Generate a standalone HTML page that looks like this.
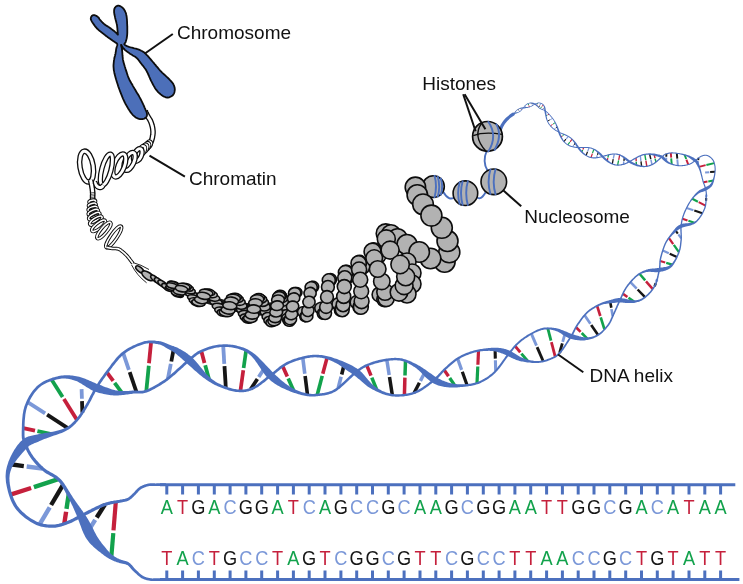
<!DOCTYPE html>
<html lang="en">
<head>
<meta charset="utf-8">
<title>DNA packaging: chromosome, chromatin, nucleosome, DNA helix</title>
<style>
html,body{margin:0;padding:0;background:#fff;}
body{width:743px;height:584px;overflow:hidden;}
svg{display:block;font-family:"Liberation Sans",Arial,Helvetica,sans-serif;will-change:transform;opacity:0.999;}
</style>
</head>
<body>
<svg width="743" height="584" viewBox="0 0 743 584">
<rect width="743" height="584" fill="#ffffff"/>
<g id="helix-rungs">
<line x1="10.5" y1="464.3" x2="23.8" y2="466.1" stroke="#161616" stroke-width="4.4" stroke-linecap="butt"/>
<line x1="26.7" y1="466.5" x2="42.5" y2="468.6" stroke="#7b98d8" stroke-width="4.4" stroke-linecap="butt"/>
<line x1="10.5" y1="494.7" x2="31.1" y2="488" stroke="#c5203c" stroke-width="4.4" stroke-linecap="butt"/>
<line x1="33.9" y1="487.1" x2="58.3" y2="479.1" stroke="#12a24c" stroke-width="4.4" stroke-linecap="butt"/>
<line x1="39.6" y1="524.4" x2="49.7" y2="507.4" stroke="#7b98d8" stroke-width="4.4" stroke-linecap="butt"/>
<line x1="51.1" y1="505" x2="63" y2="484.8" stroke="#161616" stroke-width="4.4" stroke-linecap="butt"/>
<line x1="64.3" y1="523.8" x2="66.1" y2="511.7" stroke="#c5203c" stroke-width="4.4" stroke-linecap="butt"/>
<line x1="66.5" y1="508.8" x2="68.7" y2="494.4" stroke="#12a24c" stroke-width="4.4" stroke-linecap="butt"/>
<line x1="88.3" y1="530.9" x2="95.2" y2="519.9" stroke="#7b98d8" stroke-width="4.4" stroke-linecap="butt"/>
<line x1="96.7" y1="517.5" x2="104.9" y2="504.5" stroke="#161616" stroke-width="4.4" stroke-linecap="butt"/>
<line x1="111.3" y1="557.1" x2="113.3" y2="533.1" stroke="#12a24c" stroke-width="4.2" stroke-linecap="butt"/>
<line x1="113.5" y1="530.3" x2="115.8" y2="501.9" stroke="#c5203c" stroke-width="4.2" stroke-linecap="butt"/>
<line x1="23.2" y1="428.1" x2="35" y2="430.6" stroke="#c5203c" stroke-width="3.9" stroke-linecap="butt"/>
<line x1="37.4" y1="431.2" x2="51.4" y2="434.2" stroke="#12a24c" stroke-width="3.9" stroke-linecap="butt"/>
<line x1="27.6" y1="402.1" x2="45.1" y2="413.4" stroke="#7b98d8" stroke-width="3.8" stroke-linecap="butt"/>
<line x1="47.1" y1="414.7" x2="67.8" y2="428.2" stroke="#161616" stroke-width="3.8" stroke-linecap="butt"/>
<line x1="51.5" y1="379.5" x2="62.6" y2="397.1" stroke="#12a24c" stroke-width="3.8" stroke-linecap="butt"/>
<line x1="63.9" y1="399.1" x2="77" y2="419.9" stroke="#c5203c" stroke-width="3.8" stroke-linecap="butt"/>
<line x1="81.6" y1="389.1" x2="81.9" y2="398.7" stroke="#7b98d8" stroke-width="3.8" stroke-linecap="butt"/>
<line x1="82" y1="401.1" x2="82.4" y2="412.6" stroke="#161616" stroke-width="3.8" stroke-linecap="butt"/>
<line x1="106.9" y1="372.3" x2="113.2" y2="380.9" stroke="#c5203c" stroke-width="3.8" stroke-linecap="butt"/>
<line x1="114.6" y1="382.8" x2="122.2" y2="393.1" stroke="#12a24c" stroke-width="3.8" stroke-linecap="butt"/>
<line x1="123.2" y1="353.1" x2="128.9" y2="369.9" stroke="#7b98d8" stroke-width="3.8" stroke-linecap="butt"/>
<line x1="129.7" y1="372.2" x2="136.5" y2="392.1" stroke="#161616" stroke-width="3.8" stroke-linecap="butt"/>
<line x1="151.1" y1="341.9" x2="149" y2="363.3" stroke="#c5203c" stroke-width="3.8" stroke-linecap="butt"/>
<line x1="148.8" y1="365.7" x2="146.3" y2="391.1" stroke="#12a24c" stroke-width="3.8" stroke-linecap="butt"/>
<line x1="173.7" y1="349" x2="171.3" y2="361.5" stroke="#161616" stroke-width="3.8" stroke-linecap="butt"/>
<line x1="170.8" y1="363.8" x2="167.9" y2="378.7" stroke="#7b98d8" stroke-width="3.8" stroke-linecap="butt"/>
<line x1="201.3" y1="351.1" x2="204.5" y2="362.9" stroke="#c5203c" stroke-width="3.8" stroke-linecap="butt"/>
<line x1="205.2" y1="365.2" x2="209" y2="379.3" stroke="#12a24c" stroke-width="3.8" stroke-linecap="butt"/>
<line x1="223.2" y1="345.6" x2="224.3" y2="363.9" stroke="#7b98d8" stroke-width="3.8" stroke-linecap="butt"/>
<line x1="224.5" y1="366.2" x2="225.8" y2="387.9" stroke="#161616" stroke-width="3.8" stroke-linecap="butt"/>
<line x1="246.1" y1="350.4" x2="243.6" y2="367.9" stroke="#12a24c" stroke-width="3.7" stroke-linecap="butt"/>
<line x1="243.3" y1="370.2" x2="240.4" y2="390.9" stroke="#c5203c" stroke-width="3.7" stroke-linecap="butt"/>
<line x1="264.4" y1="368.3" x2="258.7" y2="376.9" stroke="#7b98d8" stroke-width="3.7" stroke-linecap="butt"/>
<line x1="257.4" y1="378.9" x2="250.6" y2="389.2" stroke="#161616" stroke-width="3.7" stroke-linecap="butt"/>
<line x1="282.6" y1="366" x2="287.3" y2="376.4" stroke="#c5203c" stroke-width="3.7" stroke-linecap="butt"/>
<line x1="288.2" y1="378.4" x2="293.7" y2="390.7" stroke="#12a24c" stroke-width="3.7" stroke-linecap="butt"/>
<line x1="302.8" y1="357.8" x2="304.8" y2="373.7" stroke="#7b98d8" stroke-width="3.6" stroke-linecap="butt"/>
<line x1="305.1" y1="376" x2="307.5" y2="394.8" stroke="#161616" stroke-width="3.6" stroke-linecap="butt"/>
<line x1="327.1" y1="357.6" x2="322.8" y2="373.7" stroke="#c5203c" stroke-width="3.6" stroke-linecap="butt"/>
<line x1="322.2" y1="375.9" x2="317.2" y2="395" stroke="#12a24c" stroke-width="3.6" stroke-linecap="butt"/>
<line x1="344.1" y1="364.9" x2="341.7" y2="374.5" stroke="#161616" stroke-width="3.6" stroke-linecap="butt"/>
<line x1="341.1" y1="376.7" x2="338.2" y2="388.2" stroke="#7b98d8" stroke-width="3.6" stroke-linecap="butt"/>
<line x1="366.8" y1="365.4" x2="371" y2="375.6" stroke="#c5203c" stroke-width="3.5" stroke-linecap="butt"/>
<line x1="371.8" y1="377.6" x2="376.8" y2="389.8" stroke="#12a24c" stroke-width="3.5" stroke-linecap="butt"/>
<line x1="386.8" y1="359.8" x2="389.2" y2="375" stroke="#7b98d8" stroke-width="3.5" stroke-linecap="butt"/>
<line x1="389.5" y1="377.1" x2="392.3" y2="395.1" stroke="#161616" stroke-width="3.5" stroke-linecap="butt"/>
<line x1="405.5" y1="360.8" x2="405" y2="375.5" stroke="#12a24c" stroke-width="3.5" stroke-linecap="butt"/>
<line x1="404.9" y1="377.6" x2="404.4" y2="395.1" stroke="#c5203c" stroke-width="3.5" stroke-linecap="butt"/>
<line x1="424.8" y1="372.5" x2="420.4" y2="380.9" stroke="#7b98d8" stroke-width="3.4" stroke-linecap="butt"/>
<line x1="419.4" y1="382.8" x2="414.2" y2="392.8" stroke="#161616" stroke-width="3.4" stroke-linecap="butt"/>
<line x1="444.1" y1="369.9" x2="448.5" y2="376.3" stroke="#c5203c" stroke-width="3.3" stroke-linecap="butt"/>
<line x1="449.7" y1="378" x2="454.9" y2="385.7" stroke="#12a24c" stroke-width="3.3" stroke-linecap="butt"/>
<line x1="457.6" y1="358.6" x2="461.6" y2="369.9" stroke="#7b98d8" stroke-width="3.2" stroke-linecap="butt"/>
<line x1="462.3" y1="371.8" x2="467.1" y2="385.2" stroke="#161616" stroke-width="3.2" stroke-linecap="butt"/>
<line x1="478.5" y1="350.6" x2="477.9" y2="364.7" stroke="#c5203c" stroke-width="3.2" stroke-linecap="butt"/>
<line x1="477.8" y1="366.5" x2="477" y2="383.2" stroke="#12a24c" stroke-width="3.2" stroke-linecap="butt"/>
<line x1="495.1" y1="349.5" x2="495.3" y2="358.6" stroke="#161616" stroke-width="3.1" stroke-linecap="butt"/>
<line x1="495.4" y1="360.3" x2="495.7" y2="371.1" stroke="#7b98d8" stroke-width="3.1" stroke-linecap="butt"/>
<line x1="515.1" y1="346.1" x2="520.3" y2="352.3" stroke="#c5203c" stroke-width="2.9" stroke-linecap="butt"/>
<line x1="521.4" y1="353.6" x2="527.6" y2="361" stroke="#12a24c" stroke-width="2.9" stroke-linecap="butt"/>
<line x1="531.3" y1="333.7" x2="536.5" y2="345.6" stroke="#7b98d8" stroke-width="2.9" stroke-linecap="butt"/>
<line x1="537.1" y1="347.1" x2="543.2" y2="361.3" stroke="#161616" stroke-width="2.9" stroke-linecap="butt"/>
<line x1="547.8" y1="328.4" x2="551" y2="340.6" stroke="#12a24c" stroke-width="2.8" stroke-linecap="butt"/>
<line x1="551.4" y1="342.1" x2="555.2" y2="356.7" stroke="#c5203c" stroke-width="2.8" stroke-linecap="butt"/>
<line x1="565" y1="333.6" x2="562.7" y2="341.8" stroke="#7b98d8" stroke-width="2.8" stroke-linecap="butt"/>
<line x1="562.3" y1="343.3" x2="559.6" y2="353" stroke="#161616" stroke-width="2.8" stroke-linecap="butt"/>
<line x1="576" y1="327.2" x2="580.6" y2="331.9" stroke="#c5203c" stroke-width="2.7" stroke-linecap="butt"/>
<line x1="581.7" y1="333" x2="587.2" y2="338.6" stroke="#12a24c" stroke-width="2.7" stroke-linecap="butt"/>
<line x1="584.6" y1="315.2" x2="590.4" y2="323.7" stroke="#7b98d8" stroke-width="2.7" stroke-linecap="butt"/>
<line x1="591.2" y1="324.9" x2="598.1" y2="335" stroke="#161616" stroke-width="2.7" stroke-linecap="butt"/>
<line x1="597.1" y1="305.9" x2="600.3" y2="316" stroke="#c5203c" stroke-width="2.7" stroke-linecap="butt"/>
<line x1="600.7" y1="317.4" x2="604.5" y2="329.4" stroke="#12a24c" stroke-width="2.7" stroke-linecap="butt"/>
<line x1="610.2" y1="301.7" x2="611.3" y2="307.7" stroke="#161616" stroke-width="2.6" stroke-linecap="butt"/>
<line x1="611.5" y1="309.1" x2="612.7" y2="316.2" stroke="#7b98d8" stroke-width="2.6" stroke-linecap="butt"/>
<line x1="622.9" y1="293.7" x2="627.4" y2="297" stroke="#c5203c" stroke-width="2.6" stroke-linecap="butt"/>
<line x1="628.5" y1="297.8" x2="634" y2="301.6" stroke="#12a24c" stroke-width="2.6" stroke-linecap="butt"/>
<line x1="630.4" y1="282.1" x2="636.7" y2="288.6" stroke="#7b98d8" stroke-width="2.5" stroke-linecap="butt"/>
<line x1="637.6" y1="289.5" x2="645" y2="297.2" stroke="#161616" stroke-width="2.5" stroke-linecap="butt"/>
<line x1="639.5" y1="273.8" x2="645.2" y2="280.4" stroke="#12a24c" stroke-width="2.5" stroke-linecap="butt"/>
<line x1="646" y1="281.4" x2="652.8" y2="289.1" stroke="#c5203c" stroke-width="2.5" stroke-linecap="butt"/>
<line x1="657.2" y1="279.3" x2="656.2" y2="281.8" stroke="#7b98d8" stroke-width="2.5" stroke-linecap="butt"/>
<line x1="655.8" y1="283.1" x2="654.6" y2="286.2" stroke="#161616" stroke-width="2.5" stroke-linecap="butt"/>
</g>
<g id="helix-rungs-small">
<line x1="675.4" y1="230.4" x2="677.8" y2="233.6" stroke="#161616" stroke-width="2.2" stroke-linecap="butt"/>
<line x1="678.4" y1="234.4" x2="681.2" y2="238.3" stroke="#7b98d8" stroke-width="2.2" stroke-linecap="butt"/>
<line x1="668.8" y1="237.9" x2="673.2" y2="244.1" stroke="#c5203c" stroke-width="2.3" stroke-linecap="butt"/>
<line x1="673.8" y1="244.9" x2="678.9" y2="252.2" stroke="#12a24c" stroke-width="2.3" stroke-linecap="butt"/>
<line x1="662.8" y1="250.5" x2="668.8" y2="253.3" stroke="#7b98d8" stroke-width="2.3" stroke-linecap="butt"/>
<line x1="669.7" y1="253.7" x2="676.9" y2="257" stroke="#161616" stroke-width="2.3" stroke-linecap="butt"/>
<line x1="660.1" y1="261" x2="665.2" y2="262.5" stroke="#c5203c" stroke-width="2.3" stroke-linecap="butt"/>
<line x1="666.2" y1="262.8" x2="672.3" y2="264.6" stroke="#12a24c" stroke-width="2.3" stroke-linecap="butt"/>
<line x1="682.4" y1="218.7" x2="687.5" y2="220.5" stroke="#c5203c" stroke-width="2.2" stroke-linecap="butt"/>
<line x1="688.4" y1="220.8" x2="694.4" y2="222.8" stroke="#12a24c" stroke-width="2.2" stroke-linecap="butt"/>
<line x1="686.6" y1="208" x2="693.4" y2="210.3" stroke="#7b98d8" stroke-width="2.1" stroke-linecap="butt"/>
<line x1="694.3" y1="210.6" x2="702.4" y2="213.3" stroke="#161616" stroke-width="2.1" stroke-linecap="butt"/>
<line x1="692.2" y1="198.7" x2="697.9" y2="201.7" stroke="#12a24c" stroke-width="2.1" stroke-linecap="butt"/>
<line x1="698.7" y1="202.1" x2="705.5" y2="205.6" stroke="#c5203c" stroke-width="2.1" stroke-linecap="butt"/>
<line x1="706.4" y1="194.6" x2="706.2" y2="197" stroke="#7b98d8" stroke-width="2.1" stroke-linecap="butt"/>
<line x1="706.2" y1="197.9" x2="706.1" y2="200.8" stroke="#161616" stroke-width="2.1" stroke-linecap="butt"/>
<line x1="703.4" y1="182.3" x2="707.5" y2="181.6" stroke="#c5203c" stroke-width="2" stroke-linecap="butt"/>
<line x1="708.3" y1="181.4" x2="713.3" y2="180.5" stroke="#12a24c" stroke-width="2" stroke-linecap="butt"/>
<line x1="705.1" y1="172.5" x2="709.3" y2="172.2" stroke="#7b98d8" stroke-width="2" stroke-linecap="butt"/>
<line x1="710.1" y1="172.1" x2="715" y2="171.8" stroke="#161616" stroke-width="2" stroke-linecap="butt"/>
<line x1="699" y1="166.8" x2="705.6" y2="165.2" stroke="#c5203c" stroke-width="1.9" stroke-linecap="butt"/>
<line x1="706.4" y1="165" x2="714.3" y2="163.1" stroke="#12a24c" stroke-width="1.9" stroke-linecap="butt"/>
<line x1="698.5" y1="157.9" x2="698.2" y2="160.2" stroke="#161616" stroke-width="1.9" stroke-linecap="butt"/>
<line x1="698" y1="161" x2="697.6" y2="163.7" stroke="#7b98d8" stroke-width="1.9" stroke-linecap="butt"/>
<line x1="666.4" y1="153.9" x2="666.3" y2="156.8" stroke="#161616" stroke-width="1.9" stroke-linecap="butt"/>
<line x1="666.3" y1="157.6" x2="666.2" y2="161.1" stroke="#7b98d8" stroke-width="1.9" stroke-linecap="butt"/>
<line x1="670.8" y1="152.9" x2="671.2" y2="157.7" stroke="#c5203c" stroke-width="1.9" stroke-linecap="butt"/>
<line x1="671.2" y1="158.4" x2="671.7" y2="164.1" stroke="#12a24c" stroke-width="1.9" stroke-linecap="butt"/>
<line x1="676.8" y1="153.3" x2="677.3" y2="158.6" stroke="#161616" stroke-width="1.9" stroke-linecap="butt"/>
<line x1="677.3" y1="159.3" x2="677.9" y2="165.6" stroke="#7b98d8" stroke-width="1.9" stroke-linecap="butt"/>
<line x1="684.6" y1="154.9" x2="686.2" y2="159" stroke="#12a24c" stroke-width="1.9" stroke-linecap="butt"/>
<line x1="686.4" y1="159.7" x2="688.3" y2="164.6" stroke="#c5203c" stroke-width="1.9" stroke-linecap="butt"/>
</g>
<g id="helix-thin-rungs">
<line x1="654.2" y1="154.6" x2="655" y2="158.1" stroke="#c5203c" stroke-width="1.5" stroke-linecap="butt"/>
<line x1="655.1" y1="158.6" x2="656" y2="162.1" stroke="#12a24c" stroke-width="1.5" stroke-linecap="butt"/>
<line x1="649.6" y1="154.1" x2="650.8" y2="159.1" stroke="#161616" stroke-width="1.5" stroke-linecap="butt"/>
<line x1="650.9" y1="159.6" x2="652" y2="164.7" stroke="#7b98d8" stroke-width="1.5" stroke-linecap="butt"/>
<line x1="644.8" y1="154.4" x2="645.8" y2="160.1" stroke="#12a24c" stroke-width="1.4" stroke-linecap="butt"/>
<line x1="645.9" y1="160.6" x2="646.8" y2="166.3" stroke="#c5203c" stroke-width="1.4" stroke-linecap="butt"/>
<line x1="640.3" y1="155.7" x2="640.9" y2="160.8" stroke="#7b98d8" stroke-width="1.4" stroke-linecap="butt"/>
<line x1="641" y1="161.3" x2="641.6" y2="166.3" stroke="#161616" stroke-width="1.4" stroke-linecap="butt"/>
<line x1="636" y1="157.9" x2="636.2" y2="161.2" stroke="#c5203c" stroke-width="1.4" stroke-linecap="butt"/>
<line x1="636.2" y1="161.7" x2="636.4" y2="165" stroke="#12a24c" stroke-width="1.4" stroke-linecap="butt"/>
<line x1="623.4" y1="164.3" x2="623.8" y2="161.3" stroke="#7b98d8" stroke-width="1.4" stroke-linecap="butt"/>
<line x1="623.9" y1="160.8" x2="624.4" y2="157.7" stroke="#161616" stroke-width="1.4" stroke-linecap="butt"/>
<line x1="617.6" y1="165.1" x2="618.6" y2="160.3" stroke="#12a24c" stroke-width="1.3" stroke-linecap="butt"/>
<line x1="618.7" y1="159.8" x2="619.7" y2="154.9" stroke="#c5203c" stroke-width="1.3" stroke-linecap="butt"/>
<line x1="612.3" y1="164" x2="613.2" y2="159.2" stroke="#161616" stroke-width="1.3" stroke-linecap="butt"/>
<line x1="613.3" y1="158.7" x2="614.3" y2="154" stroke="#7b98d8" stroke-width="1.3" stroke-linecap="butt"/>
<line x1="607.2" y1="160.8" x2="607.8" y2="158.1" stroke="#c5203c" stroke-width="1.3" stroke-linecap="butt"/>
<line x1="607.9" y1="157.6" x2="608.5" y2="154.9" stroke="#12a24c" stroke-width="1.3" stroke-linecap="butt"/>
<line x1="598.2" y1="152.3" x2="597.5" y2="154.8" stroke="#161616" stroke-width="1.2" stroke-linecap="butt"/>
<line x1="597.3" y1="155.3" x2="596.5" y2="157.8" stroke="#7b98d8" stroke-width="1.2" stroke-linecap="butt"/>
<line x1="593.9" y1="149.2" x2="592.5" y2="153.1" stroke="#12a24c" stroke-width="1.2" stroke-linecap="butt"/>
<line x1="592.4" y1="153.6" x2="591" y2="157.5" stroke="#c5203c" stroke-width="1.2" stroke-linecap="butt"/>
<line x1="589" y1="147.7" x2="587.7" y2="151.4" stroke="#7b98d8" stroke-width="1.2" stroke-linecap="butt"/>
<line x1="587.5" y1="151.8" x2="586.1" y2="155.5" stroke="#161616" stroke-width="1.2" stroke-linecap="butt"/>
<line x1="583.7" y1="147.5" x2="582.9" y2="149.5" stroke="#c5203c" stroke-width="1.2" stroke-linecap="butt"/>
<line x1="582.7" y1="149.9" x2="581.8" y2="151.9" stroke="#12a24c" stroke-width="1.2" stroke-linecap="butt"/>
<line x1="572.7" y1="146.8" x2="573.8" y2="145.1" stroke="#7b98d8" stroke-width="1.1" stroke-linecap="butt"/>
<line x1="574.1" y1="144.7" x2="575.2" y2="143" stroke="#161616" stroke-width="1.1" stroke-linecap="butt"/>
<line x1="567.8" y1="144.8" x2="569.8" y2="142.2" stroke="#12a24c" stroke-width="1.1" stroke-linecap="butt"/>
<line x1="570.1" y1="141.8" x2="572.1" y2="139.2" stroke="#c5203c" stroke-width="1.1" stroke-linecap="butt"/>
<line x1="563.9" y1="141.6" x2="565.9" y2="139.2" stroke="#161616" stroke-width="1.1" stroke-linecap="butt"/>
<line x1="566.3" y1="138.8" x2="568.3" y2="136.3" stroke="#7b98d8" stroke-width="1.1" stroke-linecap="butt"/>
<line x1="561.1" y1="137.2" x2="562.3" y2="135.9" stroke="#c5203c" stroke-width="1.1" stroke-linecap="butt"/>
<line x1="562.6" y1="135.6" x2="563.9" y2="134.3" stroke="#12a24c" stroke-width="1.1" stroke-linecap="butt"/>
<line x1="557.2" y1="126.9" x2="555.8" y2="128" stroke="#161616" stroke-width="1" stroke-linecap="butt"/>
<line x1="555.4" y1="128.3" x2="554.1" y2="129.3" stroke="#7b98d8" stroke-width="1" stroke-linecap="butt"/>
<line x1="555.2" y1="122.6" x2="553" y2="124.1" stroke="#12a24c" stroke-width="1" stroke-linecap="butt"/>
<line x1="552.6" y1="124.4" x2="550.4" y2="125.9" stroke="#c5203c" stroke-width="1" stroke-linecap="butt"/>
<line x1="552.5" y1="118.4" x2="550.2" y2="119.7" stroke="#7b98d8" stroke-width="1" stroke-linecap="butt"/>
<line x1="549.8" y1="119.9" x2="547.5" y2="121.2" stroke="#161616" stroke-width="1" stroke-linecap="butt"/>
<line x1="549.1" y1="114.3" x2="547.7" y2="114.9" stroke="#c5203c" stroke-width="1" stroke-linecap="butt"/>
<line x1="547.3" y1="115.2" x2="546" y2="115.8" stroke="#12a24c" stroke-width="1" stroke-linecap="butt"/>
<line x1="542.2" y1="109.5" x2="543.2" y2="108.6" stroke="#7b98d8" stroke-width="1" stroke-linecap="butt"/>
<line x1="543.6" y1="108.3" x2="544.7" y2="107.4" stroke="#161616" stroke-width="1" stroke-linecap="butt"/>
<line x1="540.2" y1="108.6" x2="541.6" y2="106.9" stroke="#12a24c" stroke-width="1" stroke-linecap="butt"/>
<line x1="541.9" y1="106.6" x2="543.3" y2="104.9" stroke="#c5203c" stroke-width="1" stroke-linecap="butt"/>
<line x1="538.6" y1="107.4" x2="539.6" y2="105.6" stroke="#161616" stroke-width="1" stroke-linecap="butt"/>
<line x1="539.9" y1="105.1" x2="540.9" y2="103.3" stroke="#7b98d8" stroke-width="1" stroke-linecap="butt"/>
<line x1="536.9" y1="105.6" x2="537.1" y2="104.6" stroke="#c5203c" stroke-width="1" stroke-linecap="butt"/>
<line x1="537.2" y1="104.1" x2="537.5" y2="103.1" stroke="#12a24c" stroke-width="1" stroke-linecap="butt"/>
<line x1="532" y1="103.1" x2="532.2" y2="104.1" stroke="#161616" stroke-width="1" stroke-linecap="butt"/>
<line x1="532.3" y1="104.6" x2="532.5" y2="105.6" stroke="#7b98d8" stroke-width="1" stroke-linecap="butt"/>
<line x1="528.1" y1="103.5" x2="528.6" y2="105.1" stroke="#12a24c" stroke-width="1" stroke-linecap="butt"/>
<line x1="528.8" y1="105.5" x2="529.3" y2="107.1" stroke="#c5203c" stroke-width="1" stroke-linecap="butt"/>
<line x1="525" y1="105.7" x2="525.4" y2="106.5" stroke="#7b98d8" stroke-width="1" stroke-linecap="butt"/>
<line x1="525.6" y1="106.9" x2="526" y2="107.6" stroke="#161616" stroke-width="1" stroke-linecap="butt"/>
<line x1="521.6" y1="109.9" x2="521.3" y2="109.3" stroke="#c5203c" stroke-width="1" stroke-linecap="butt"/>
<line x1="521" y1="108.9" x2="520.6" y2="108.3" stroke="#12a24c" stroke-width="1" stroke-linecap="butt"/>
<line x1="519.6" y1="111.7" x2="518.9" y2="110.7" stroke="#7b98d8" stroke-width="1" stroke-linecap="butt"/>
<line x1="518.7" y1="110.3" x2="518.1" y2="109.3" stroke="#161616" stroke-width="1" stroke-linecap="butt"/>
<line x1="516.3" y1="113" x2="516" y2="112.5" stroke="#12a24c" stroke-width="1" stroke-linecap="butt"/>
<line x1="515.8" y1="112.1" x2="515.5" y2="111.7" stroke="#c5203c" stroke-width="1" stroke-linecap="butt"/>
</g>
<g id="helix-strands">
<path d="M166 483.4 L165.3 483.3 L164.6 483.3 L163.8 483.3 L163.1 483.3 L162.3 483.3 L161.6 483.3 L160.9 483.3 L160.1 483.3 L159.4 483.3 L158.7 483.3 L158 483.3 L157.3 483.3 L156.6 483.3 L156 483.4 L155.4 483.4 L154.8 483.3 L154.2 483.3 L153.7 483.3 L153.1 483.3 L152.6 483.3 L152.1 483.3 L151.5 483.2 L151 483.2 L150.4 483.3 L149.8 483.3 L149.2 483.4 L148.6 483.5 L148 483.6 L147.4 483.7 L146.8 483.9 L146.2 484 L145.6 484.2 L144.9 484.4 L144.3 484.6 L143.7 484.9 L143 485.1 L142.4 485.4 L141.8 485.7 L141.2 486 L140.6 486.3 L140 486.6 L139.5 487 L138.9 487.4 L138.4 487.8 L137.8 488.2 L137.4 488.7 L136.9 489.2 L136.4 489.7 L136 490.1 L135.6 490.6 L135.2 491.1 L134.8 491.6 L134.4 492 L134 492.4 L133.6 492.8 L133.2 493.2 L132.7 493.6 L132.3 494 L131.9 494.4 L131.5 494.8 L131.1 495.2 L130.7 495.6 L130.3 495.9 L129.9 496.3 L129.5 496.6 L129.1 496.9 L128.7 497.2 L128.3 497.5 L127.9 497.7 L127.5 497.9 L127 498.1 L126.6 498.3 L126.1 498.5 L125.6 498.6 L125.1 498.8 L124.6 498.9 L124 499 L123.4 499.1 L122.9 499.2 L122.3 499.3 L121.6 499.4 L121 499.5 L120.4 499.6 L119.7 499.7 L119.1 499.9 L118.4 500 L117.7 500.1 L117 500.2 L116.3 500.3 L115.6 500.4 L114.9 500.5 L114.1 500.6 L113.4 500.7 L112.6 500.9 L111.9 501 L111.1 501.1 L110.4 501.3 L109.6 501.5 L108.9 501.7 L108.3 501.8 L107.6 502 L107 502.2 L106.4 502.3 L105.7 502.5 L105.1 502.7 L104.4 502.9 L103.7 503.2 L103 503.5 L102.2 503.8 L101.3 504.1 L100.4 504.5 L99.4 504.9 L98.4 505.4 L97.2 506 L95.9 506.6 L94.6 507.2 L93.2 507.9 L91.8 508.6 L90.4 509.4 L88.9 510.1 L87.5 510.8 L86.1 511.6 L84.7 512.3 L83.4 512.9 L82.1 513.6 L81 514.2 L79.9 514.7 L78.8 515.3 L77.8 515.8 L76.9 516.3 L75.9 516.8 L75 517.3 L74.2 517.8 L73.3 518.3 L72.5 518.7 L71.6 519.1 L70.7 519.5 L69.8 519.9 L68.9 520.3 L67.9 520.7 L66.9 521.1 L65.8 521.5 L64.8 521.9 L63.7 522.2 L62.6 522.6 L61.6 523 L60.5 523.3 L59.4 523.6 L58.3 523.9 L57.2 524.1 L56.1 524.3 L55 524.5 L53.8 524.6 L52.7 524.6 L51.5 524.6 L50.3 524.5 L49 524.5 L47.8 524.4 L46.5 524.2 L45.2 524.1 L44 523.9 L42.7 523.6 L41.4 523.3 L40.1 522.9 L38.8 522.5 L37.6 522 L36.3 521.4 L35.1 520.8 L33.8 520.1 L32.4 519.3 L31 518.4 L29.6 517.4 L28.2 516.5 L26.8 515.4 L25.4 514.3 L24.1 513.1 L22.7 511.9 L21.5 510.7 L20.3 509.4 L19.1 508.1 L18.1 506.8 L17.1 505.5 L16.3 504.1 L15.5 502.6 L14.7 501.1 L14 499.4 L13.3 497.7 L12.7 496 L12.1 494.2 L11.6 492.5 L11.1 490.7 L10.7 488.9 L10.4 487.2 L10.1 485.6 L9.8 484 L9.7 482.5 L9.5 481.1 L9.5 479.7 L9.4 478.4 L9.5 477.1 L9.6 475.9 L9.7 474.7 L9.9 473.6 L10.2 472.4 L10.5 471.3 L10.9 470.2 L11.3 469 L11.8 467.8 L12.4 466.6 L13 465.4 L13.8 464.1 L14.6 462.8 L15.5 461.4 L16.6 460 L17.7 458.6 L18.8 457.2 L20 455.7 L21.1 454.4 L22.3 453 L23.5 451.7 L24.6 450.5 L25.6 449.4 L26.6 448.3 L27.5 447.5 L28.3 446.7 L29 446.1 L29.6 445.6 L30.2 445.2 L30.8 444.9 L31.5 444.5 L32.1 444.2 L32.9 443.9 L33.8 443.5 L34.7 443.1 L35.8 442.7 L37 442.3 L38.3 441.7 L39.6 441.1 L41 440.5 L42.6 439.8 L44.3 439.1 L46.1 438.4 L48 437.7 L50 437 L52 436.3 L54 435.6 L56 434.9 L58 434.3 L59.9 433.6 L61.7 432.9 L63.3 432.2 L64.8 431.5 L66.2 430.8 L67.5 430.1 L68.6 429.4 L69.7 428.7 L70.7 428 L71.6 427.3 L72.5 426.5 L73.3 425.8 L74.1 425 L74.9 424.2 L75.7 423.4 L76.4 422.6 L77.2 421.7 L78 420.8 L78.9 419.8 L79.7 418.8 L80.5 417.8 L81.3 416.7 L82 415.6 L82.8 414.5 L83.5 413.3 L84.3 412.2 L85 411 L85.7 409.8 L86.4 408.7 L87.1 407.5 L87.8 406.3 L88.5 405.2 L89.1 404 L89.8 402.8 L90.5 401.6 L91.1 400.4 L91.7 399.2 L92.3 398 L92.9 396.8 L93.5 395.6 L94.2 394.4 L94.8 393.2 L95.4 392 L96.1 390.9 L96.7 389.7 L97.5 388.5 L98.2 387.3 L98.9 386.1 L99.7 385 L100.4 383.8 L101.2 382.6 L102 381.5 L102.8 380.3 L103.6 379.1 L104.4 377.9 L105.3 376.8 L106.1 375.6 L107 374.4 L107.9 373.2 L108.9 371.9 L109.8 370.7 L110.8 369.3 L111.8 368 L112.8 366.6 L113.9 365.3 L114.9 363.9 L116 362.5 L117.1 361.2 L118.2 359.9 L119.3 358.6 L120.5 357.4 L121.6 356.3 L122.8 355.2 L124 354.2 L125.3 353.2 L126.7 352.3 L128.1 351.3 L129.5 350.5 L131 349.6 L132.6 348.8 L134.1 348 L135.6 347.3 L137.1 346.6 L138.6 346 L140.1 345.5 L141.5 345 L142.9 344.5 L144.2 344.1 L145.4 343.8 L146.6 343.6 L147.7 343.4 L148.9 343.3 L150 343.3 L151.1 343.3 L152.2 343.4 L153.2 343.5 L154.2 343.6 L155.2 343.7 L156.2 343.9 L157.2 344.1 L158.1 344.2 L158.9 344.4 L159.7 344.6 L160.4 344.7 L161 345 L161.6 345.2 L162.1 345.4 L162.6 345.7 L163.2 346 L163.7 346.3 L164.2 346.6 L164.7 347 L165.3 347.3 L165.8 347.7 L166.5 348.1 L167.1 348.4 L167.8 348.8 L168.4 349.1 L169 349.4 L169.6 349.7 L170.2 350.1 L170.8 350.4 L171.4 350.7 L172 351.1 L172.5 351.4 L173.1 351.8 L173.7 352.2 L174.3 352.6 L174.9 353.1 L175.6 353.6 L176.2 354.1 L176.9 354.6 L177.6 355.2 L178.2 355.7 L178.9 356.3 L179.6 356.8 L180.3 357.4 L181 358.1 L181.8 358.8 L182.6 359.5 L183.4 360.2 L184.4 361.1 L185.3 362 L186.4 362.9 L187.5 363.9 L188.7 365 L190.1 366.3 L191.6 367.6 L193.1 369 L194.7 370.4 L196.4 371.8 L198 373.3 L199.7 374.7 L201.4 376.1 L203.1 377.4 L204.7 378.6 L206.3 379.8 L207.8 380.8 L209.3 381.8 L210.7 382.6 L212.2 383.5 L213.6 384.2 L214.9 384.9 L216.3 385.6 L217.7 386.2 L219 386.8 L220.3 387.3 L221.6 387.8 L222.9 388.3 L224.1 388.7 L225.3 389.2 L226.6 389.6 L227.8 390 L229 390.4 L230.2 390.7 L231.3 391 L232.5 391.3 L233.7 391.5 L234.8 391.7 L235.9 391.9 L237 392 L238.1 392.1 L239.2 392.2 L240.3 392.3 L241.4 392.3 L242.5 392.2 L243.5 392.2 L244.5 392.1 L245.5 391.9 L246.4 391.8 L247.4 391.6 L248.3 391.4 L249.2 391.1 L250.2 390.8 L251.1 390.4 L252 390.1 L253 389.7 L253.9 389.2 L254.9 388.7 L255.9 388.1 L257 387.5 L258.1 386.9 L259.2 386.1 L260.3 385.3 L261.4 384.5 L262.5 383.6 L263.7 382.8 L264.8 381.9 L265.9 380.9 L267 380 L268.2 379.1 L269.3 378.2 L270.4 377.4 L271.5 376.5 L272.6 375.7 L273.7 374.8 L274.8 373.9 L275.9 373 L276.9 372.2 L278 371.3 L279.1 370.4 L280.1 369.5 L281.2 368.7 L282.3 367.9 L283.4 367.1 L284.5 366.4 L285.6 365.7 L286.7 365 L287.9 364.4 L289.1 363.8 L290.3 363.3 L291.6 362.7 L292.9 362.2 L294.2 361.7 L295.5 361.3 L296.8 360.8 L298.1 360.4 L299.4 360 L300.6 359.7 L301.9 359.3 L303.1 359 L304.3 358.7 L305.4 358.5 L306.6 358.3 L307.7 358 L308.8 357.9 L309.8 357.7 L310.9 357.6 L311.9 357.5 L313 357.4 L314 357.3 L315 357.3 L316.1 357.3 L317.1 357.4 L318.2 357.4 L319.3 357.5 L320.4 357.7 L321.4 357.8 L322.5 358 L323.5 358.2 L324.6 358.4 L325.6 358.7 L326.7 359 L327.8 359.4 L328.8 359.8 L329.9 360.2 L331.1 360.7 L332.2 361.2 L333.4 361.7 L334.6 362.4 L335.9 363.1 L337.2 363.8 L338.6 364.6 L340 365.5 L341.4 366.4 L342.8 367.4 L344.2 368.4 L345.7 369.4 L347.1 370.4 L348.5 371.4 L349.9 372.3 L351.3 373.3 L352.6 374.2 L353.8 375.1 L355 375.9 L356.1 376.8 L357.2 377.7 L358.3 378.7 L359.5 379.6 L360.6 380.6 L361.7 381.6 L362.9 382.6 L364 383.6 L365.2 384.5 L366.4 385.5 L367.6 386.4 L368.8 387.2 L370.1 388 L371.3 388.7 L372.5 389.4 L373.7 390 L374.8 390.6 L376 391.2 L377.2 391.8 L378.4 392.3 L379.5 392.8 L380.7 393.3 L381.8 393.8 L383 394.2 L384.1 394.6 L385.3 394.9 L386.4 395.3 L387.6 395.5 L388.7 395.8 L389.9 396 L391 396.2 L392.1 396.4 L393.3 396.5 L394.4 396.6 L395.5 396.7 L396.7 396.7 L397.8 396.7 L398.9 396.7 L400.1 396.6 L401.2 396.6 L402.3 396.5 L403.4 396.4 L404.5 396.3 L405.6 396.1 L406.8 396 L407.9 395.8 L409 395.6 L410.1 395.3 L411.2 395 L412.4 394.7 L413.5 394.3 L414.6 393.9 L415.8 393.5 L416.9 393 L418.1 392.5 L419.3 391.9 L420.5 391.2 L421.8 390.4 L423 389.7 L424.3 388.8 L425.6 388 L426.8 387.1 L428.1 386.2 L429.3 385.3 L430.5 384.3 L431.7 383.4 L432.8 382.5 L433.9 381.7 L434.9 380.8 L435.9 379.9 L436.9 379.1 L437.8 378.2 L438.7 377.4 L439.5 376.5 L440.3 375.7 L441.1 374.8 L441.9 374 L442.6 373.1 L443.4 372.3 L444.1 371.5 L444.9 370.7 L445.7 369.9 L446.6 369.1 L447.4 368.4 L448.3 367.6 L449.2 366.8 L450 366 L450.9 365.2 L451.8 364.4 L452.7 363.7 L453.6 362.9 L454.5 362.2 L455.4 361.5 L456.3 360.8 L457.2 360.2 L458.2 359.6 L459.2 359 L460.2 358.4 L461.2 357.8 L462.2 357.3 L463.3 356.8 L464.4 356.3 L465.5 355.8 L466.6 355.3 L467.7 354.9 L468.8 354.4 L469.9 354 L471 353.7 L472.1 353.3 L473.2 353 L474.3 352.6 L475.4 352.4 L476.5 352.1 L477.6 351.9 L478.7 351.7 L479.9 351.5 L481 351.3 L482.1 351.2 L483.3 351.1 L484.4 351 L485.5 350.9 L486.5 350.9 L487.5 350.9 L488.5 350.8 L489.5 350.8 L490.4 350.9 L491.2 350.9 L492 351 L492.8 351 L493.5 351.1 L494.2 351.2 L494.9 351.4 L495.6 351.5 L496.3 351.6 L496.9 351.8 L497.6 352 L498.2 352.2 L498.9 352.4 L499.5 352.5 L500.1 352.8 L500.7 353 L501.3 353.2 L501.9 353.4 L502.4 353.6 L502.9 353.8 L503.5 354.1 L504 354.3 L504.6 354.6 L505.2 354.8 L505.8 355.1 L506.5 355.4 L507.2 355.7 L507.9 356 L508.6 356.4 L509.3 356.7 L510 357.1 L510.8 357.5 L511.7 357.9 L512.5 358.3 L513.4 358.7 L514.4 359.1 L515.3 359.5 L516.3 359.9 L517.3 360.3 L518.4 360.6 L519.5 360.9 L520.5 361.2 L521.6 361.4 L522.7 361.6 L523.8 361.8 L525 362 L526.2 362.2 L527.3 362.4 L528.5 362.5 L529.7 362.6 L530.9 362.8 L532.1 362.9 L533.2 362.9 L534.3 363 L535.4 363 L536.5 363 L537.5 363 L538.6 362.9 L539.6 362.8 L540.5 362.7 L541.5 362.6 L542.5 362.4 L543.4 362.2 L544.3 362 L545.3 361.7 L546.2 361.5 L547.1 361.2 L547.9 360.9 L548.8 360.6 L549.6 360.3 L550.4 359.9 L551.2 359.6 L552 359.3 L552.8 359 L553.5 358.6 L554.2 358.3 L555 357.9 L555.7 357.4 L556.5 356.9 L557.2 356.4 L557.9 355.8 L558.7 355.2 L559.5 354.4 L560.3 353.6 L561.1 352.7 L561.9 351.7 L562.8 350.6 L563.7 349.4 L564.6 348.1 L565.5 346.8 L566.3 345.5 L567.2 344.1 L568.1 342.8 L568.9 341.5 L569.7 340.2 L570.5 339 L571.2 337.8 L571.8 336.8 L572.5 335.8 L573 334.8 L573.5 333.9 L574 333.1 L574.4 332.2 L574.8 331.4 L575.2 330.6 L575.5 329.9 L575.9 329.1 L576.3 328.4 L576.7 327.6 L577.2 326.8 L577.7 326 L578.2 325.2 L578.8 324.3 L579.5 323.4 L580.1 322.4 L580.8 321.5 L581.5 320.5 L582.2 319.5 L582.9 318.6 L583.7 317.6 L584.4 316.7 L585.2 315.8 L586 314.9 L586.8 314.1 L587.6 313.3 L588.4 312.5 L589.2 311.8 L590 311.2 L590.9 310.5 L591.8 309.9 L592.8 309.3 L593.7 308.7 L594.6 308.2 L595.6 307.6 L596.5 307.1 L597.5 306.7 L598.4 306.2 L599.3 305.8 L600.2 305.5 L601 305.1 L601.8 304.8 L602.6 304.5 L603.3 304.3 L604.1 304.1 L604.8 304 L605.5 303.9 L606.3 303.8 L607 303.7 L607.7 303.6 L608.4 303.5 L609.1 303.5 L609.8 303.4 L610.5 303.3 L611.2 303.3 L611.9 303.2 L612.6 303.1 L613.2 303 L613.8 302.9 L614.4 302.9 L615 302.8 L615.5 302.7 L616.1 302.7 L616.6 302.6 L617.2 302.6 L617.8 302.6 L618.5 302.5 L619.2 302.5 L619.9 302.5 L620.6 302.5 L621.5 302.6 L622.4 302.6 L623.4 302.7 L624.4 302.8 L625.5 302.9 L626.6 303 L627.7 303 L628.8 303.1 L629.9 303.1 L631 303.1 L632.1 303.1 L633.1 303 L634.1 302.9 L635 302.7 L635.8 302.5 L636.7 302.3 L637.4 302.1 L638.2 301.9 L639 301.7 L639.7 301.4 L640.4 301.1 L641.2 300.8 L641.9 300.4 L642.6 300 L643.3 299.5 L644.1 299 L644.8 298.5 L645.6 297.9 L646.3 297.2 L647.1 296.5 L648 295.8 L648.8 295 L649.6 294.2 L650.4 293.3 L651.2 292.4 L651.9 291.5 L652.7 290.6 L653.4 289.6 L654.1 288.6 L654.7 287.6 L655.3 286.6 L655.8 285.5 L656.3 284.4 L656.8 283.2 L657.2 282 L657.6 280.8 L657.9 279.5 L658.3 278.2 L658.6 277 L658.8 275.7 L659.1 274.5 L659.4 273.3 L659.6 272.2 L659.8 271.1 L660 270 L660.2 269.1 L660.4 268.1 L660.5 267.3 L660.5 266.4 L660.6 265.6 L660.6 264.8 L660.7 264.1 L660.7 263.3 L660.7 262.6 L660.8 261.8 L660.9 261 L661 260.2 L661.1 259.4 L661.3 258.5 L661.5 257.5 L661.8 256.4 L662.1 255.3 L662.4 254.2 L662.7 253.1 L663.1 251.9 L663.4 250.7 L663.8 249.6 L664.2 248.4 L664.6 247.3 L665 246.2 L665.5 245.1 L665.9 244.1 L666.3 243.2 L666.8 242.3 L667.3 241.5 L667.8 240.7 L668.3 239.9 L668.9 239.1 L669.4 238.4 L670 237.7 L670.6 237 L671.2 236.4 L671.8 235.7 L672.4 235.1 L673 234.5 L673.6 233.9 L674.3 233.4 L674.8 232.8 L675.4 232.3 L675.9 231.8 L676.4 231.3 L676.9 230.9 L677.4 230.5 L677.9 230.1 L678.4 229.7 L678.9 229.4 L679.4 229 L680 228.7 L680.6 228.4 L681.2 228.1 L681.8 227.7 L682.5 227.5 L683.3 227.2 L684.2 227 L685.1 226.7 L686.1 226.5 L687.2 226.2 L688.3 226 L689.5 225.7 L690.6 225.4 L691.7 225 L692.8 224.6 L693.9 224.2 L694.9 223.6 L695.8 223 L696.6 222.3 L697.4 221.5 L698.2 220.6 L699 219.7 L699.7 218.8 L700.4 217.8 L701.1 216.8 L701.8 215.7 L702.4 214.7 L703 213.7 L703.5 212.6 L704 211.6 L704.5 210.6 L704.9 209.6 L705.3 208.7 L705.6 207.7 L705.9 206.7 L706.1 205.7 L706.3 204.7 L706.4 203.7 L706.5 202.7 L706.6 201.8 L706.7 200.8 L706.7 199.9 L706.8 199 L706.8 198.2 L706.9 197.4 L706.9 196.6 L706.9 195.9 L707 195.2 L707 194.6 L707 194 L706.9 193.4 L706.9 192.9 L706.8 192.4 L706.8 191.9 L706.7 191.4 L706.6 190.9 L706.5 190.4 L706.4 189.8 L706.3 189.3 L706.2 188.8 L706.1 188.2 L705.9 187.6 L705.7 187.1 L705.6 186.6 L705.4 186 L705.2 185.5 L705 184.9 L704.8 184.4 L704.6 183.9 L704.4 183.3 L704.1 182.7 L703.9 182.2 L703.7 181.6 L703.6 180.9 L703.4 180.3 L703.2 179.6 L703 178.9 L702.8 178.1 L702.6 177.3 L702.5 176.6 L702.3 175.8 L702.1 175 L701.9 174.2 L701.7 173.5 L701.6 172.7 L701.4 172 L701.2 171.3 L701.1 170.7 L700.9 170.1 L700.8 169.5 L700.6 169 L700.5 168.4 L700.3 167.9 L700.2 167.4 L700 166.9 L699.9 166.4 L699.7 166 L699.6 165.5 L699.5 165.1 L699.3 164.7 L699.1 164.3 L699 163.9 L698.9 163.5 L698.8 163.2 L698.7 162.9 L698.6 162.6 L698.5 162.4 L698.3 162.1 L698.2 161.8 L698 161.4 L697.8 161.1 L697.6 160.8 L697.3 160.5 L697 160.2 L696.6 159.8 L696.2 159.5 L695.7 159.1 L695.2 158.8 L694.7 158.4 L694.1 158 L693.4 157.6 L692.8 157.3 L692.1 156.9 L691.3 156.5 L690.6 156.2 L689.8 155.8 L689 155.5 L688.2 155.2 L687.4 154.9 L686.6 154.7 L685.7 154.5 L684.8 154.2 L683.9 154 L682.9 153.8 L681.9 153.6 L680.9 153.4 L679.9 153.2 L678.8 153 L677.8 152.9 L676.9 152.7 L675.9 152.6 L675 152.5 L674.2 152.4 L673.4 152.4 L672.7 152.3 L672 152.3 L671.4 152.3 L670.7 152.4 L670.2 152.4 L669.6 152.5 L669 152.6 L668.5 152.7 L668 152.8 L667.6 152.9 L667.1 153.1 L666.7 153.2 L666.2 153.3 L665.8 153.5 L665.4 153.6 L665 153.8 L664.6 154 L664.3 154.2 L664 154.4 L663.7 154.6 L663.4 154.8 L663.1 155 L662.9 155.3 L662.6 155.5 L662.4 155.7 L662.1 155.9 L661.9 156.1 L661.6 156.3 L662.2 157.1 L662.5 156.9 L662.8 156.7 L663.1 156.5 L663.3 156.3 L663.6 156.1 L663.8 155.9 L664.1 155.7 L664.3 155.5 L664.6 155.3 L664.9 155.1 L665.2 155 L665.5 154.8 L665.8 154.6 L666.2 154.5 L666.6 154.4 L667 154.2 L667.4 154.1 L667.9 154 L668.3 153.9 L668.8 153.8 L669.3 153.7 L669.8 153.6 L670.3 153.5 L670.8 153.4 L671.4 153.4 L672 153.4 L672.7 153.4 L673.4 153.4 L674.1 153.5 L674.9 153.6 L675.8 153.7 L676.7 153.8 L677.7 154 L678.7 154.1 L679.6 154.3 L680.6 154.5 L681.6 154.7 L682.6 155 L683.5 155.2 L684.4 155.5 L685.3 155.8 L686 156.1 L686.8 156.4 L687.5 156.8 L688.2 157.2 L688.9 157.6 L689.5 158.1 L690.2 158.5 L690.8 158.9 L691.4 159.4 L692 159.8 L692.5 160.3 L693.1 160.7 L693.5 161 L694 161.4 L694.4 161.7 L694.8 162 L695.1 162.2 L695.3 162.4 L695.5 162.6 L695.6 162.8 L695.7 162.9 L695.8 163.1 L695.9 163.2 L696 163.4 L696.1 163.7 L696.3 163.9 L696.4 164.2 L696.6 164.6 L696.8 164.9 L697 165.3 L697.2 165.6 L697.4 166 L697.6 166.4 L697.8 166.8 L698.1 167.2 L698.3 167.6 L698.5 168 L698.7 168.5 L698.9 169 L699.1 169.5 L699.3 170 L699.5 170.5 L699.7 171.1 L699.9 171.7 L700.1 172.4 L700.3 173 L700.5 173.8 L700.7 174.5 L700.9 175.3 L701.1 176.1 L701.3 176.8 L701.5 177.6 L701.7 178.4 L701.9 179.1 L702.1 179.9 L702.3 180.6 L702.4 181.3 L702.6 181.9 L702.8 182.5 L703 183.1 L703.2 183.7 L703.5 184.3 L703.7 184.8 L703.9 185.4 L704.1 185.9 L704.3 186.4 L704.4 186.9 L704.6 187.5 L704.8 188 L704.9 188.5 L705 189 L705.1 189.6 L705.2 190.1 L705.3 190.6 L705.4 191.1 L705.5 191.5 L705.6 192 L705.6 192.5 L705.7 193 L705.7 193.5 L705.7 194.1 L705.8 194.6 L705.7 195.2 L705.7 195.9 L705.7 196.6 L705.6 197.3 L705.6 198.1 L705.6 199 L705.5 199.8 L705.5 200.7 L705.4 201.7 L705.3 202.6 L705.2 203.6 L705 204.5 L704.8 205.5 L704.6 206.4 L704.4 207.3 L704.1 208.3 L703.7 209.2 L703.3 210.1 L702.9 211 L702.4 212 L701.8 213 L701.3 214 L700.6 215.1 L700 216 L699.3 217 L698.6 217.9 L697.9 218.8 L697.2 219.6 L696.4 220.4 L695.6 221.1 L694.8 221.6 L694 222.1 L693.1 222.4 L692.2 222.7 L691.2 222.9 L690.1 223 L689 223.1 L687.9 223.2 L686.8 223.3 L685.7 223.3 L684.6 223.4 L683.5 223.6 L682.4 223.8 L681.3 224.1 L680.4 224.5 L679.5 224.9 L678.8 225.3 L678.1 225.8 L677.4 226.3 L676.8 226.8 L676.3 227.3 L675.8 227.8 L675.3 228.3 L674.8 228.9 L674.4 229.4 L673.9 230 L673.5 230.6 L673 231.2 L672.5 231.8 L672 232.5 L671.5 233.1 L671 233.8 L670.4 234.5 L669.9 235.2 L669.3 235.9 L668.8 236.7 L668.2 237.5 L667.6 238.2 L667.1 239.1 L666.6 239.9 L666 240.8 L665.5 241.7 L665.1 242.6 L664.6 243.6 L664.2 244.6 L663.7 245.7 L663.3 246.8 L662.9 247.9 L662.5 249.1 L662.1 250.3 L661.7 251.5 L661.3 252.7 L661 253.8 L660.7 255 L660.4 256.1 L660.1 257.1 L659.9 258.1 L659.7 259.1 L659.5 260 L659.4 260.9 L659.3 261.7 L659.3 262.5 L659.2 263.3 L659.2 264 L659.2 264.8 L659.1 265.5 L659.1 266.3 L659 267.1 L658.9 267.9 L658.8 268.8 L658.6 269.8 L658.3 270.8 L658.1 271.9 L657.9 273 L657.6 274.2 L657.4 275.4 L657.1 276.6 L656.8 277.9 L656.4 279.1 L656.1 280.3 L655.7 281.5 L655.3 282.7 L654.9 283.8 L654.4 284.8 L653.9 285.8 L653.4 286.8 L652.8 287.7 L652.1 288.7 L651.4 289.6 L650.7 290.5 L650 291.4 L649.2 292.2 L648.4 293.1 L647.6 293.9 L646.9 294.6 L646.1 295.3 L645.3 296 L644.5 296.6 L643.8 297.1 L643.1 297.6 L642.4 298.1 L641.7 298.5 L641.1 298.8 L640.4 299.1 L639.7 299.4 L639.1 299.6 L638.4 299.8 L637.7 299.9 L637 300.1 L636.3 300.2 L635.5 300.3 L634.7 300.3 L633.9 300.3 L633.1 300.3 L632.2 300.3 L631.2 300.1 L630.3 299.9 L629.2 299.7 L628.2 299.5 L627.1 299.2 L626.1 299 L625 298.8 L624 298.5 L622.9 298.4 L621.9 298.2 L620.9 298.1 L619.9 298.1 L619 298.1 L618.2 298.1 L617.5 298.2 L616.8 298.3 L616.1 298.4 L615.4 298.5 L614.8 298.7 L614.2 298.8 L613.6 299 L613 299.2 L612.4 299.4 L611.8 299.5 L611.2 299.7 L610.6 299.9 L609.9 300.1 L609.2 300.3 L608.6 300.5 L607.9 300.7 L607.2 300.8 L606.5 301 L605.7 301.2 L605 301.5 L604.2 301.7 L603.4 302 L602.7 302.2 L601.9 302.6 L601 302.9 L600.2 303.3 L599.4 303.7 L598.5 304.1 L597.6 304.6 L596.6 305.1 L595.7 305.6 L594.7 306.1 L593.8 306.7 L592.8 307.2 L591.8 307.8 L590.9 308.5 L589.9 309.1 L589 309.8 L588.1 310.5 L587.2 311.3 L586.4 312 L585.5 312.9 L584.7 313.7 L583.9 314.7 L583.1 315.6 L582.3 316.6 L581.6 317.5 L580.8 318.5 L580.1 319.5 L579.4 320.5 L578.7 321.4 L578 322.4 L577.4 323.3 L576.8 324.2 L576.2 325.1 L575.7 325.9 L575.2 326.7 L574.8 327.5 L574.4 328.3 L574 329.1 L573.6 329.9 L573.2 330.6 L572.8 331.4 L572.4 332.2 L572 333.1 L571.5 334 L570.9 334.9 L570.4 335.8 L569.7 336.9 L569 338 L568.2 339.3 L567.4 340.5 L566.6 341.8 L565.7 343.2 L564.9 344.5 L564 345.8 L563.1 347.1 L562.2 348.3 L561.4 349.5 L560.5 350.5 L559.7 351.5 L558.9 352.4 L558.2 353.1 L557.5 353.8 L556.8 354.4 L556.1 355 L555.4 355.5 L554.8 355.9 L554.1 356.3 L553.4 356.7 L552.7 357 L552 357.3 L551.3 357.6 L550.6 357.9 L549.8 358.2 L549 358.5 L548.1 358.8 L547.3 359.1 L546.5 359.4 L545.6 359.7 L544.8 359.9 L543.9 360.1 L543 360.3 L542.1 360.5 L541.2 360.7 L540.3 360.8 L539.4 360.9 L538.4 360.9 L537.5 361 L536.5 361 L535.5 360.9 L534.5 360.9 L533.4 360.7 L532.3 360.6 L531.2 360.4 L530.1 360.2 L529 360 L527.9 359.7 L526.8 359.4 L525.7 359 L524.6 358.7 L523.6 358.3 L522.6 358 L521.7 357.6 L520.8 357.2 L520 356.8 L519.1 356.3 L518.3 355.8 L517.5 355.3 L516.7 354.8 L515.9 354.3 L515.1 353.7 L514.3 353.2 L513.4 352.7 L512.6 352.2 L511.8 351.8 L511 351.3 L510.1 351 L509.4 350.6 L508.7 350.3 L508 350.1 L507.3 349.8 L506.6 349.6 L506 349.3 L505.3 349.1 L504.7 348.9 L504 348.7 L503.3 348.6 L502.7 348.4 L501.9 348.3 L501.2 348.2 L500.5 348.1 L499.7 348 L499 347.9 L498.3 347.8 L497.5 347.8 L496.8 347.7 L496 347.7 L495.3 347.7 L494.5 347.7 L493.7 347.7 L492.9 347.7 L492 347.7 L491.2 347.8 L490.3 347.9 L489.3 348 L488.4 348.1 L487.4 348.2 L486.3 348.3 L485.2 348.4 L484.1 348.6 L483 348.7 L481.9 348.9 L480.7 349.1 L479.5 349.3 L478.3 349.5 L477.2 349.7 L476 350 L474.8 350.2 L473.7 350.6 L472.6 350.9 L471.5 351.2 L470.3 351.6 L469.2 352 L468 352.4 L466.9 352.8 L465.7 353.3 L464.6 353.8 L463.5 354.3 L462.3 354.8 L461.2 355.3 L460.1 355.9 L459.1 356.4 L458 357 L457 357.7 L456 358.3 L455 359 L454 359.7 L453.1 360.5 L452.2 361.2 L451.2 362 L450.3 362.7 L449.4 363.5 L448.5 364.3 L447.7 365.1 L446.8 365.9 L445.9 366.7 L445 367.5 L444.2 368.3 L443.3 369.1 L442.5 369.9 L441.7 370.7 L440.9 371.6 L440.2 372.4 L439.4 373.2 L438.6 374.1 L437.8 374.9 L437 375.7 L436.2 376.6 L435.3 377.4 L434.4 378.2 L433.5 379 L432.4 379.8 L431.4 380.7 L430.2 381.6 L429.1 382.5 L427.9 383.4 L426.7 384.3 L425.5 385.2 L424.2 386 L423 386.9 L421.8 387.7 L420.6 388.4 L419.4 389.1 L418.2 389.8 L417.1 390.3 L416 390.8 L414.9 391.3 L413.8 391.7 L412.7 392.1 L411.7 392.4 L410.6 392.7 L409.6 393 L408.5 393.2 L407.4 393.4 L406.4 393.6 L405.3 393.8 L404.3 393.9 L403.2 394 L402.1 394.1 L401 394.2 L399.9 394.2 L398.9 394.3 L397.8 394.3 L396.7 394.3 L395.7 394.2 L394.6 394.2 L393.5 394.1 L392.5 393.9 L391.4 393.8 L390.3 393.6 L389.3 393.3 L388.2 393.1 L387.2 392.7 L386.1 392.4 L385 392 L384 391.6 L382.9 391.2 L381.8 390.7 L380.8 390.1 L379.7 389.6 L378.7 389 L377.6 388.3 L376.6 387.7 L375.6 386.9 L374.5 386.2 L373.5 385.4 L372.5 384.6 L371.6 383.7 L370.7 382.8 L369.8 381.8 L368.9 380.8 L368 379.7 L367 378.6 L366.1 377.4 L365.1 376.2 L364.1 375 L363 373.8 L361.9 372.6 L360.7 371.5 L359.4 370.3 L358 369.3 L356.6 368.3 L355.1 367.4 L353.6 366.5 L352 365.6 L350.4 364.8 L348.8 364 L347.1 363.2 L345.5 362.5 L343.8 361.8 L342.2 361.1 L340.6 360.5 L339.1 359.9 L337.6 359.3 L336.2 358.8 L334.8 358.4 L333.5 357.9 L332.3 357.5 L331 357.1 L329.8 356.8 L328.6 356.4 L327.5 356.2 L326.3 355.9 L325.2 355.7 L324.1 355.5 L322.9 355.3 L321.8 355.1 L320.7 355 L319.5 354.9 L318.4 354.8 L317.2 354.7 L316.1 354.7 L315 354.7 L313.9 354.7 L312.8 354.8 L311.7 354.9 L310.6 355 L309.5 355.2 L308.4 355.3 L307.2 355.5 L306.1 355.7 L304.9 356 L303.7 356.3 L302.5 356.5 L301.2 356.9 L299.9 357.2 L298.6 357.6 L297.3 358 L296 358.4 L294.6 358.8 L293.3 359.3 L291.9 359.8 L290.6 360.4 L289.3 360.9 L288 361.5 L286.7 362.1 L285.5 362.8 L284.3 363.5 L283.1 364.2 L281.9 365 L280.8 365.8 L279.6 366.6 L278.5 367.5 L277.4 368.4 L276.3 369.3 L275.3 370.2 L274.2 371 L273.1 371.9 L272.1 372.8 L271 373.6 L269.9 374.5 L268.8 375.3 L267.7 376.2 L266.5 377.1 L265.4 378 L264.3 378.9 L263.2 379.8 L262 380.7 L260.9 381.6 L259.8 382.4 L258.7 383.2 L257.7 384 L256.7 384.7 L255.6 385.3 L254.7 385.9 L253.7 386.4 L252.8 386.8 L251.9 387.3 L251 387.6 L250.1 388 L249.3 388.3 L248.5 388.6 L247.6 388.8 L246.8 389 L246 389.2 L245.1 389.3 L244.2 389.4 L243.3 389.5 L242.3 389.6 L241.4 389.6 L240.4 389.6 L239.4 389.6 L238.4 389.5 L237.3 389.4 L236.3 389.3 L235.2 389.1 L234.2 388.9 L233.1 388.7 L232 388.4 L230.9 388.1 L229.7 387.8 L228.6 387.4 L227.4 387 L226.3 386.6 L225.1 386.1 L223.8 385.7 L222.6 385.2 L221.4 384.7 L220.2 384.1 L218.9 383.5 L217.7 382.9 L216.4 382.2 L215.2 381.4 L213.9 380.6 L212.7 379.7 L211.4 378.8 L210.2 377.8 L208.9 376.6 L207.6 375.3 L206.3 373.9 L205 372.4 L203.6 370.8 L202.2 369.1 L200.9 367.5 L199.5 365.8 L198.1 364.1 L196.8 362.5 L195.5 361 L194.1 359.6 L192.8 358.3 L191.6 357.1 L190.5 356.1 L189.4 355.2 L188.3 354.4 L187.3 353.6 L186.4 352.9 L185.5 352.3 L184.6 351.7 L183.7 351.2 L182.9 350.7 L182 350.2 L181.2 349.7 L180.4 349.3 L179.6 348.9 L178.8 348.4 L178 348 L177.2 347.6 L176.4 347.3 L175.6 346.9 L174.9 346.7 L174.2 346.4 L173.5 346.1 L172.8 345.9 L172.1 345.7 L171.4 345.4 L170.8 345.2 L170.2 345 L169.5 344.8 L168.9 344.6 L168.3 344.3 L167.7 344.1 L167.2 343.8 L166.6 343.6 L166 343.3 L165.4 343 L164.8 342.7 L164.2 342.5 L163.5 342.2 L162.8 341.9 L162 341.7 L161.2 341.5 L160.4 341.3 L159.5 341.2 L158.6 341.1 L157.6 341 L156.7 340.9 L155.6 340.7 L154.6 340.6 L153.5 340.5 L152.3 340.5 L151.1 340.5 L149.9 340.5 L148.7 340.5 L147.4 340.7 L146.1 340.9 L144.8 341.1 L143.4 341.5 L142.1 341.9 L140.6 342.4 L139.2 342.9 L137.6 343.5 L136.1 344.2 L134.5 344.9 L132.9 345.6 L131.3 346.4 L129.7 347.2 L128.2 348.1 L126.6 349.1 L125.2 350 L123.7 351 L122.4 352 L121 353.1 L119.8 354.3 L118.5 355.5 L117.3 356.8 L116.1 358.1 L115 359.5 L113.9 360.9 L112.8 362.2 L111.7 363.6 L110.7 365 L109.7 366.4 L108.7 367.7 L107.7 369 L106.7 370.3 L105.8 371.5 L104.8 372.7 L103.9 374 L103.1 375.2 L102.2 376.4 L101.4 377.6 L100.5 378.8 L99.7 380 L98.9 381.1 L98.2 382.3 L97.4 383.5 L96.6 384.7 L95.9 385.9 L95.1 387.1 L94.4 388.3 L93.7 389.5 L93 390.8 L92.4 392 L91.8 393.2 L91.1 394.4 L90.5 395.6 L89.9 396.8 L89.3 398 L88.7 399.2 L88.1 400.4 L87.5 401.5 L86.8 402.7 L86.1 403.8 L85.5 405 L84.8 406.1 L84.1 407.3 L83.4 408.4 L82.7 409.6 L82 410.7 L81.2 411.9 L80.5 413 L79.8 414.1 L79.1 415.1 L78.3 416.2 L77.5 417.1 L76.8 418.1 L76 419 L75.2 419.9 L74.4 420.7 L73.7 421.5 L72.9 422.3 L72.2 423 L71.4 423.7 L70.7 424.4 L69.8 425.1 L69 425.7 L68.1 426.3 L67.1 426.9 L66 427.5 L64.8 428.1 L63.6 428.7 L62.1 429.2 L60.5 429.8 L58.8 430.3 L56.9 430.8 L55 431.2 L52.9 431.7 L50.9 432.1 L48.8 432.4 L46.7 432.8 L44.7 433.1 L42.7 433.4 L40.8 433.8 L39 434.1 L37.4 434.5 L36 434.8 L34.8 435.1 L33.6 435.3 L32.5 435.5 L31.4 435.7 L30.4 436 L29.3 436.3 L28.2 436.6 L27.1 437.1 L25.9 437.6 L24.8 438.3 L23.6 439 L22.5 439.9 L21.3 440.9 L20.1 442.1 L19 443.4 L17.8 444.8 L16.7 446.3 L15.6 447.9 L14.5 449.5 L13.5 451.3 L12.5 453 L11.6 454.8 L10.7 456.5 L9.9 458.3 L9.2 460 L8.5 461.6 L8 463.2 L7.5 464.7 L7.1 466.1 L6.7 467.5 L6.4 468.9 L6.1 470.3 L5.9 471.6 L5.8 473 L5.7 474.3 L5.6 475.7 L5.6 477.1 L5.7 478.5 L5.8 479.9 L5.9 481.4 L6.1 482.9 L6.4 484.5 L6.7 486.2 L7.1 487.9 L7.5 489.7 L7.9 491.5 L8.4 493.3 L9 495.2 L9.6 497 L10.3 498.9 L11 500.7 L11.8 502.4 L12.6 504.1 L13.5 505.8 L14.5 507.3 L15.5 508.8 L16.7 510.2 L17.9 511.6 L19.2 513 L20.5 514.3 L21.9 515.6 L23.4 516.8 L24.8 517.9 L26.3 519.1 L27.8 520.1 L29.3 521.1 L30.7 522 L32.2 522.8 L33.5 523.6 L34.9 524.3 L36.3 524.9 L37.7 525.5 L39.2 526 L40.6 526.4 L42 526.7 L43.4 527 L44.8 527.3 L46.1 527.4 L47.5 527.6 L48.8 527.7 L50.1 527.8 L51.4 527.8 L52.7 527.8 L54 527.8 L55.3 527.7 L56.5 527.5 L57.8 527.3 L59 527 L60.2 526.7 L61.4 526.4 L62.5 526 L63.7 525.7 L64.8 525.3 L65.9 524.9 L67 524.5 L68 524.1 L69.1 523.7 L70.1 523.3 L71.1 522.9 L72.1 522.5 L73 522 L73.9 521.6 L74.8 521.1 L75.7 520.6 L76.6 520.2 L77.5 519.7 L78.4 519.2 L79.3 518.6 L80.3 518.1 L81.3 517.6 L82.4 517 L83.6 516.4 L84.9 515.8 L86.2 515.1 L87.6 514.4 L89 513.7 L90.4 513 L91.8 512.2 L93.3 511.5 L94.7 510.8 L96 510.1 L97.3 509.5 L98.6 508.9 L99.7 508.3 L100.8 507.9 L101.7 507.5 L102.6 507.1 L103.4 506.8 L104.1 506.5 L104.8 506.2 L105.5 506 L106.1 505.8 L106.7 505.6 L107.3 505.4 L107.8 505.2 L108.4 505 L109.1 504.9 L109.7 504.7 L110.4 504.5 L111.1 504.3 L111.8 504.2 L112.5 504 L113.2 503.9 L113.9 503.8 L114.6 503.6 L115.3 503.5 L116.1 503.4 L116.8 503.3 L117.5 503.2 L118.2 503 L118.9 502.9 L119.6 502.8 L120.3 502.7 L120.9 502.5 L121.5 502.4 L122.2 502.3 L122.8 502.2 L123.4 502.1 L124 501.9 L124.6 501.8 L125.2 501.7 L125.8 501.5 L126.4 501.4 L127 501.2 L127.6 501 L128.2 500.7 L128.7 500.5 L129.3 500.2 L129.8 499.8 L130.3 499.5 L130.8 499.1 L131.3 498.8 L131.7 498.4 L132.2 498 L132.6 497.6 L133 497.2 L133.4 496.8 L133.8 496.4 L134.2 496 L134.6 495.6 L135 495.2 L135.5 494.8 L135.9 494.3 L136.4 493.8 L136.8 493.3 L137.2 492.9 L137.6 492.4 L138 491.9 L138.4 491.5 L138.8 491 L139.3 490.6 L139.7 490.2 L140.1 489.9 L140.5 489.5 L140.9 489.2 L141.4 488.9 L141.9 488.6 L142.4 488.4 L143 488.1 L143.5 487.9 L144.1 487.6 L144.6 487.4 L145.2 487.2 L145.8 487 L146.4 486.8 L146.9 486.6 L147.5 486.5 L148 486.3 L148.6 486.2 L149.1 486.1 L149.6 486.1 L150.1 486 L150.5 486 L151 485.9 L151.5 485.9 L152 485.9 L152.5 486 L153 486 L153.6 486 L154.2 486 L154.8 486 L155.4 486.1 L156 486 L156.7 486 L157.3 486 L158 486 L158.7 486 L159.4 486 L160.1 486 L160.9 486 L161.6 486 L162.3 486 L163.1 486 L163.8 486 L164.5 486 L165.3 486 L166 486Z" fill="#4c70be" />
<path d="M166 578.2 L165.3 578.3 L164.5 578.3 L163.8 578.3 L163 578.3 L162.3 578.3 L161.5 578.3 L160.7 578.3 L160 578.3 L159.3 578.3 L158.5 578.3 L157.9 578.3 L157.2 578.3 L156.6 578.3 L156 578.2 L155.5 578.3 L154.9 578.3 L154.5 578.3 L154.1 578.3 L153.7 578.3 L153.3 578.3 L153 578.4 L152.7 578.4 L152.4 578.4 L152 578.4 L151.7 578.3 L151.4 578.3 L151 578.2 L150.5 578.2 L150 578.1 L149.5 578 L149 577.9 L148.4 577.8 L147.9 577.7 L147.3 577.5 L146.7 577.4 L146.2 577.2 L145.6 577 L145.1 576.9 L144.5 576.6 L144 576.4 L143.4 576.1 L142.9 575.8 L142.4 575.5 L141.8 575.1 L141.3 574.7 L140.7 574.2 L140.1 573.7 L139.5 573.2 L138.9 572.7 L138.4 572.1 L137.8 571.6 L137.2 571 L136.7 570.5 L136.1 569.9 L135.6 569.4 L135.1 568.9 L134.6 568.4 L134.2 568 L133.8 567.5 L133.4 567.1 L133 566.6 L132.6 566.1 L132.2 565.6 L131.8 565.1 L131.4 564.7 L130.9 564.2 L130.5 563.8 L130 563.3 L129.5 562.9 L128.9 562.5 L128.3 562.1 L127.7 561.8 L127 561.6 L126.4 561.3 L125.7 561.1 L125.1 560.9 L124.5 560.8 L123.8 560.6 L123.2 560.4 L122.7 560.3 L122.1 560.1 L121.6 560 L121.1 559.8 L120.6 559.6 L120.1 559.4 L119.6 559.2 L119.1 559 L118.7 558.8 L118.3 558.6 L117.8 558.4 L117.4 558.2 L117 558 L116.6 557.8 L116.2 557.5 L115.8 557.3 L115.3 557 L114.9 556.7 L114.4 556.4 L113.9 556.1 L113.4 555.7 L113 555.4 L112.5 555.1 L112.1 554.7 L111.6 554.4 L111.2 554 L110.7 553.6 L110.3 553.2 L109.8 552.7 L109.3 552.2 L108.7 551.6 L108.2 551 L107.5 550.3 L106.8 549.4 L106.1 548.5 L105.3 547.6 L104.5 546.6 L103.6 545.5 L102.8 544.5 L101.9 543.4 L101.1 542.2 L100.2 541.1 L99.4 539.9 L98.6 538.7 L97.8 537.5 L97.1 536.4 L96.4 535.2 L95.8 534 L95.1 532.7 L94.4 531.4 L93.7 530 L93 528.6 L92.2 527.1 L91.5 525.6 L90.7 524.1 L89.8 522.5 L89 521 L88.1 519.5 L87.2 518 L86.3 516.5 L85.3 515.1 L84.4 513.7 L83.5 512.4 L82.6 511.1 L81.7 509.9 L80.8 508.6 L79.9 507.4 L79 506.1 L78.1 504.9 L77.3 503.7 L76.4 502.4 L75.5 501.2 L74.7 499.9 L73.8 498.7 L72.9 497.4 L72.1 496.1 L71.2 494.8 L70.4 493.5 L69.6 492.1 L68.7 490.7 L67.9 489.3 L67 487.9 L66.2 486.5 L65.3 485.2 L64.4 483.8 L63.5 482.5 L62.5 481.3 L61.5 480.1 L60.5 479 L59.4 477.9 L58.2 476.9 L57.1 476 L55.9 475.2 L54.6 474.5 L53.4 473.7 L52.2 473.1 L51 472.4 L49.8 471.7 L48.7 471.1 L47.6 470.4 L46.5 469.7 L45.5 469 L44.5 468.3 L43.6 467.4 L42.6 466.6 L41.7 465.7 L40.8 464.8 L39.9 463.9 L39 463 L38.2 462 L37.3 461.1 L36.5 460.2 L35.7 459.2 L35 458.3 L34.2 457.4 L33.5 456.4 L32.9 455.5 L32.2 454.6 L31.6 453.7 L31.1 452.7 L30.5 451.8 L30 450.9 L29.5 449.9 L29 449 L28.6 448 L28.2 447.1 L27.8 446.2 L27.4 445.3 L27 444.4 L26.7 443.5 L26.4 442.7 L26.1 441.9 L25.8 441.2 L25.6 440.5 L25.4 440 L25.2 439.4 L25 438.9 L24.9 438.4 L24.8 437.9 L24.7 437.3 L24.6 436.6 L24.5 435.8 L24.5 434.9 L24.5 433.9 L24.5 432.7 L24.5 431.3 L24.5 429.8 L24.5 428.1 L24.6 426.4 L24.6 424.5 L24.7 422.5 L24.8 420.6 L25 418.6 L25.2 416.6 L25.4 414.6 L25.7 412.7 L26.1 410.8 L26.5 409.1 L27 407.4 L27.5 405.8 L28.2 404.2 L28.9 402.6 L29.6 401 L30.4 399.5 L31.2 397.9 L32.1 396.4 L33.1 395 L34 393.5 L35 392.2 L36.1 390.9 L37.2 389.7 L38.3 388.6 L39.4 387.5 L40.6 386.5 L41.8 385.6 L43.1 384.8 L44.5 384 L46 383.2 L47.4 382.5 L48.9 381.9 L50.5 381.3 L52 380.8 L53.5 380.3 L55 379.9 L56.5 379.5 L57.9 379.2 L59.3 379 L60.6 378.8 L61.9 378.6 L63.1 378.5 L64.3 378.5 L65.5 378.6 L66.7 378.7 L67.9 378.8 L69.1 379 L70.3 379.3 L71.5 379.5 L72.7 379.9 L73.9 380.3 L75.1 380.7 L76.3 381.1 L77.5 381.6 L78.7 382.2 L79.9 382.9 L81.1 383.6 L82.4 384.4 L83.7 385.2 L85 386.1 L86.3 386.9 L87.7 387.8 L89.1 388.6 L90.5 389.4 L91.9 390.2 L93.4 390.9 L94.9 391.4 L96.4 392 L97.8 392.4 L99.2 392.9 L100.7 393.3 L102.1 393.6 L103.6 394 L105.1 394.3 L106.5 394.6 L108 394.8 L109.5 395 L110.9 395.2 L112.4 395.3 L113.8 395.4 L115.2 395.4 L116.7 395.5 L118.1 395.4 L119.5 395.3 L120.9 395.2 L122.3 395.1 L123.7 394.9 L125 394.7 L126.4 394.5 L127.7 394.4 L128.9 394.2 L130.2 394 L131.4 393.9 L132.5 393.7 L133.6 393.6 L134.6 393.5 L135.6 393.5 L136.5 393.5 L137.3 393.5 L138.2 393.5 L139 393.6 L139.9 393.6 L140.8 393.6 L141.7 393.5 L142.6 393.4 L143.6 393.3 L144.6 393 L145.6 392.8 L146.8 392.4 L147.9 391.9 L149.2 391.4 L150.4 390.9 L151.7 390.2 L153.1 389.6 L154.4 388.9 L155.8 388.1 L157.2 387.3 L158.5 386.5 L159.9 385.7 L161.2 384.9 L162.5 384.1 L163.8 383.2 L165.1 382.4 L166.3 381.6 L167.5 380.7 L168.7 379.7 L169.9 378.8 L171.1 377.8 L172.3 376.8 L173.4 375.8 L174.6 374.9 L175.7 373.9 L176.7 372.9 L177.7 372 L178.7 371.1 L179.7 370.3 L180.6 369.5 L181.4 368.8 L182.2 368.1 L183 367.4 L183.6 366.7 L184.3 366.1 L184.9 365.5 L185.5 365 L186.1 364.4 L186.6 363.9 L187.2 363.3 L187.8 362.8 L188.5 362.2 L189.1 361.6 L189.9 361 L190.6 360.4 L191.4 359.7 L192.2 359.1 L193 358.4 L193.8 357.7 L194.6 357.1 L195.4 356.4 L196.3 355.8 L197.1 355.1 L198 354.5 L198.9 353.9 L199.9 353.4 L200.9 352.8 L201.9 352.3 L203 351.8 L204.1 351.4 L205.3 350.9 L206.5 350.4 L207.7 350 L209 349.6 L210.3 349.2 L211.6 348.8 L213 348.4 L214.3 348.1 L215.6 347.8 L216.9 347.6 L218.2 347.4 L219.4 347.2 L220.7 347.1 L222 347 L223.2 347 L224.5 346.9 L225.8 347 L227.1 347 L228.4 347.1 L229.6 347.2 L230.9 347.3 L232.1 347.5 L233.4 347.7 L234.6 347.9 L235.8 348.2 L237 348.5 L238.1 348.8 L239.2 349.2 L240.3 349.5 L241.3 349.9 L242.4 350.3 L243.4 350.7 L244.4 351.2 L245.4 351.7 L246.4 352.3 L247.3 352.9 L248.4 353.6 L249.4 354.4 L250.4 355.3 L251.5 356.3 L252.6 357.4 L253.7 358.7 L254.8 360.1 L255.9 361.7 L257.1 363.3 L258.2 365 L259.4 366.8 L260.6 368.6 L261.8 370.4 L263 372.1 L264.2 373.8 L265.5 375.4 L266.8 376.9 L268.1 378.2 L269.3 379.3 L270.5 380.4 L271.7 381.4 L272.9 382.3 L274.1 383.2 L275.3 384 L276.5 384.7 L277.6 385.4 L278.8 386.1 L280 386.8 L281.2 387.4 L282.4 388 L283.6 388.6 L284.9 389.1 L286.2 389.7 L287.5 390.3 L288.9 390.8 L290.3 391.4 L291.6 391.9 L293 392.4 L294.4 392.9 L295.8 393.3 L297.1 393.8 L298.5 394.2 L299.8 394.6 L301.1 395 L302.4 395.3 L303.7 395.6 L304.9 395.8 L306.1 396 L307.3 396.2 L308.4 396.3 L309.6 396.4 L310.7 396.5 L311.8 396.5 L312.9 396.5 L314 396.5 L315.1 396.4 L316.2 396.3 L317.3 396.2 L318.4 396.1 L319.6 396 L320.7 395.8 L321.8 395.7 L322.9 395.6 L324 395.4 L325.1 395.2 L326.2 395 L327.4 394.8 L328.5 394.5 L329.7 394.1 L330.9 393.7 L332.2 393.2 L333.4 392.6 L334.7 392 L336.1 391.2 L337.5 390.2 L338.9 389.1 L340.4 387.9 L342 386.6 L343.5 385.2 L345.1 383.7 L346.7 382.3 L348.3 380.8 L349.8 379.3 L351.3 377.9 L352.8 376.5 L354.2 375.3 L355.5 374.2 L356.7 373.2 L357.8 372.3 L358.8 371.5 L359.8 370.8 L360.7 370.2 L361.5 369.6 L362.4 369.1 L363.1 368.6 L363.9 368.1 L364.7 367.7 L365.5 367.3 L366.4 366.9 L367.3 366.5 L368.2 366.1 L369.3 365.6 L370.4 365.2 L371.5 364.8 L372.8 364.4 L374 364 L375.3 363.6 L376.6 363.2 L378 362.9 L379.3 362.5 L380.6 362.2 L382 361.9 L383.3 361.6 L384.5 361.4 L385.8 361.2 L387 361 L388.1 360.8 L389.3 360.7 L390.4 360.6 L391.5 360.5 L392.6 360.4 L393.6 360.3 L394.7 360.3 L395.7 360.3 L396.8 360.3 L397.8 360.4 L398.8 360.5 L399.8 360.6 L400.9 360.8 L401.9 361 L403 361.3 L404 361.6 L405 362 L406.1 362.4 L407.1 362.8 L408.2 363.3 L409.2 363.9 L410.3 364.4 L411.3 365 L412.4 365.7 L413.4 366.4 L414.5 367.1 L415.5 367.8 L416.6 368.6 L417.6 369.4 L418.7 370.3 L419.7 371.3 L420.8 372.3 L421.9 373.4 L423 374.6 L424.1 375.7 L425.3 376.9 L426.4 378 L427.6 379.1 L428.8 380.1 L430 381.1 L431.3 382 L432.5 382.8 L433.7 383.4 L434.8 384 L436 384.5 L437.1 385 L438.2 385.4 L439.3 385.8 L440.4 386.1 L441.5 386.3 L442.6 386.6 L443.6 386.8 L444.7 386.9 L445.8 387.1 L446.9 387.2 L448 387.3 L449.1 387.4 L450.3 387.5 L451.4 387.5 L452.5 387.5 L453.7 387.5 L454.8 387.5 L456 387.4 L457.1 387.4 L458.3 387.3 L459.4 387.2 L460.5 387.1 L461.7 387 L462.8 386.9 L463.9 386.8 L465 386.7 L466.1 386.5 L467.2 386.4 L468.3 386.3 L469.5 386.1 L470.6 385.9 L471.7 385.7 L472.8 385.5 L473.9 385.3 L475.1 385 L476.2 384.6 L477.3 384.3 L478.5 383.9 L479.6 383.4 L480.7 382.9 L481.9 382.3 L483 381.8 L484.1 381.2 L485.3 380.5 L486.4 379.9 L487.5 379.2 L488.7 378.4 L489.8 377.6 L490.9 376.8 L492 375.9 L493.1 374.9 L494.2 374 L495.3 372.9 L496.4 371.8 L497.5 370.6 L498.6 369.3 L499.7 367.9 L500.8 366.4 L501.9 365 L503 363.5 L504 362 L505.1 360.5 L506.1 359.1 L507.1 357.7 L508 356.4 L508.9 355.2 L509.8 354.1 L510.6 353.1 L511.4 352.1 L512.1 351.2 L512.7 350.4 L513.4 349.6 L514 348.8 L514.6 348.1 L515.2 347.4 L515.8 346.8 L516.4 346.1 L517 345.4 L517.7 344.8 L518.4 344.1 L519.1 343.4 L519.9 342.7 L520.8 342 L521.6 341.3 L522.5 340.6 L523.4 340 L524.3 339.3 L525.2 338.6 L526.2 338 L527.1 337.4 L528.1 336.7 L529 336.2 L529.9 335.6 L530.8 335 L531.8 334.5 L532.7 334 L533.6 333.5 L534.5 333.1 L535.4 332.6 L536.3 332.2 L537.2 331.8 L538.1 331.4 L539 331 L539.9 330.7 L540.8 330.4 L541.7 330.1 L542.6 329.9 L543.5 329.7 L544.3 329.6 L545.2 329.5 L546.1 329.4 L547 329.4 L547.8 329.4 L548.7 329.4 L549.5 329.5 L550.4 329.6 L551.3 329.8 L552.1 329.9 L553 330.1 L553.9 330.4 L554.8 330.6 L555.7 330.9 L556.6 331.3 L557.5 331.6 L558.4 332.1 L559.2 332.5 L560.2 333.1 L561.1 333.6 L562 334.2 L563 334.9 L564 335.5 L565 336.1 L566 336.7 L567.1 337.3 L568.1 337.8 L569.2 338.3 L570.3 338.6 L571.4 339 L572.5 339.2 L573.5 339.5 L574.6 339.7 L575.7 339.9 L576.8 340.1 L577.9 340.2 L579 340.3 L580.1 340.4 L581.1 340.5 L582.2 340.5 L583.3 340.4 L584.3 340.4 L585.4 340.3 L586.4 340.1 L587.4 339.9 L588.4 339.8 L589.3 339.5 L590.3 339.3 L591.3 339 L592.2 338.7 L593.2 338.4 L594.1 338 L595 337.6 L595.9 337.2 L596.8 336.8 L597.7 336.3 L598.6 335.8 L599.4 335.2 L600.3 334.6 L601.1 333.9 L601.9 333.2 L602.8 332.4 L603.6 331.6 L604.3 330.8 L605.1 330 L605.8 329.2 L606.5 328.4 L607.2 327.5 L607.9 326.7 L608.5 326 L609.1 325.2 L609.6 324.4 L610.1 323.7 L610.5 323 L610.9 322.3 L611.3 321.6 L611.6 320.9 L611.9 320.2 L612.2 319.5 L612.5 318.7 L612.9 318 L613.2 317.3 L613.5 316.5 L613.9 315.7 L614.2 314.8 L614.7 313.9 L615.1 313 L615.5 312 L616 311 L616.4 310 L616.9 308.9 L617.4 307.9 L617.8 306.8 L618.3 305.8 L618.8 304.7 L619.2 303.7 L619.7 302.6 L620.2 301.6 L620.6 300.6 L621.1 299.7 L621.5 298.7 L621.9 297.8 L622.3 296.8 L622.8 295.9 L623.2 295 L623.6 294.1 L624 293.2 L624.4 292.3 L624.9 291.4 L625.4 290.5 L625.9 289.7 L626.4 288.8 L626.9 287.9 L627.6 287.1 L628.2 286.2 L628.9 285.3 L629.6 284.4 L630.3 283.5 L631 282.6 L631.8 281.7 L632.6 280.9 L633.3 280 L634.1 279.2 L634.9 278.5 L635.6 277.8 L636.4 277.1 L637.1 276.5 L637.8 276 L638.5 275.5 L639.2 275 L639.9 274.6 L640.6 274.2 L641.3 273.8 L642 273.5 L642.7 273.2 L643.4 272.9 L644.2 272.7 L644.9 272.5 L645.6 272.3 L646.4 272.1 L647.2 272 L648 271.9 L648.7 271.8 L649.6 271.8 L650.4 271.8 L651.2 271.9 L652.1 272 L653 272 L653.9 272.1 L654.9 272.2 L655.8 272.2 L656.8 272.2 L657.7 272.2 L658.7 272.1 L659.7 271.9 L660.5 271.7 L661.4 271.6 L662.3 271.4 L663.1 271.2 L664 270.9 L664.9 270.7 L665.8 270.4 L666.7 270.1 L667.6 269.7 L668.5 269.3 L669.3 268.8 L670.2 268.2 L671 267.6 L671.7 266.9 L672.4 266.2 L673.1 265.3 L673.7 264.4 L674.3 263.5 L674.9 262.5 L675.5 261.5 L676 260.5 L676.6 259.5 L677.1 258.4 L677.6 257.4 L678 256.3 L678.5 255.3 L678.9 254.3 L679.3 253.4 L679.6 252.4 L679.9 251.5 L680.2 250.6 L680.5 249.7 L680.7 248.7 L680.9 247.8 L681 246.9 L681.2 246 L681.3 245.1 L681.4 244.1 L681.5 243.2 L681.6 242.3 L681.7 241.3 L681.8 240.4 L681.9 239.4 L681.9 238.3 L681.9 237.3 L681.9 236.3 L681.9 235.2 L681.8 234.1 L681.8 233.1 L681.7 232 L681.7 231 L681.7 230 L681.6 229 L681.7 228 L681.7 227.1 L681.8 226.2 L681.9 225.3 L682 224.4 L682.1 223.6 L682.2 222.8 L682.3 222 L682.5 221.2 L682.6 220.4 L682.8 219.6 L683 218.9 L683.2 218.1 L683.5 217.3 L683.7 216.5 L684 215.7 L684.3 214.8 L684.6 213.9 L685 213 L685.4 212.1 L685.8 211.2 L686.2 210.2 L686.7 209.2 L687.1 208.3 L687.6 207.3 L688.1 206.4 L688.6 205.4 L689.1 204.5 L689.6 203.7 L690.1 202.8 L690.6 202 L691.1 201.3 L691.7 200.5 L692.2 199.8 L692.8 199.1 L693.3 198.4 L693.9 197.7 L694.5 197.1 L695.1 196.5 L695.6 195.9 L696.2 195.4 L696.8 194.9 L697.4 194.4 L698 193.9 L698.6 193.5 L699.1 193.2 L699.6 192.9 L700.2 192.6 L700.7 192.4 L701.2 192.2 L701.8 192.1 L702.3 191.9 L702.9 191.7 L703.5 191.6 L704.1 191.4 L704.7 191.1 L705.3 190.9 L705.9 190.6 L706.4 190.3 L706.9 189.9 L707.4 189.7 L707.9 189.4 L708.4 189.1 L708.9 188.8 L709.4 188.4 L709.9 188 L710.4 187.6 L710.9 187.2 L711.3 186.7 L711.8 186.2 L712.2 185.6 L712.6 184.9 L712.9 184.2 L713.2 183.4 L713.5 182.6 L713.8 181.7 L714 180.8 L714.3 179.8 L714.5 178.8 L714.7 177.8 L714.9 176.7 L715.1 175.7 L715.3 174.7 L715.4 173.7 L715.5 172.7 L715.6 171.8 L715.7 170.9 L715.7 170.1 L715.7 169.2 L715.7 168.4 L715.6 167.6 L715.6 166.8 L715.5 166 L715.3 165.2 L715.2 164.4 L715 163.7 L714.8 162.9 L714.6 162.2 L714.4 161.6 L714.1 160.9 L713.8 160.3 L713.4 159.8 L713.1 159.2 L712.7 158.7 L712.2 158.2 L711.7 157.7 L711.2 157.3 L710.7 156.8 L710.2 156.5 L709.7 156.1 L709.1 155.8 L708.6 155.5 L708.1 155.3 L707.6 155 L707.1 154.9 L706.5 154.8 L706 154.7 L705.5 154.7 L705 154.7 L704.4 154.7 L703.9 154.8 L703.4 155 L702.9 155.1 L702.4 155.3 L702 155.4 L701.5 155.6 L701 155.8 L700.6 156 L700.2 156.2 L699.7 156.4 L699.3 156.7 L698.9 156.9 L698.5 157.2 L698.2 157.5 L697.8 157.8 L697.5 158.1 L697.1 158.4 L696.8 158.7 L696.5 159 L696.1 159.3 L695.7 159.6 L695.4 159.9 L695 160.2 L694.6 160.4 L694.2 160.7 L693.8 161 L693.4 161.3 L692.9 161.6 L692.5 161.9 L692.1 162.2 L691.7 162.5 L691.2 162.8 L690.8 163 L690.3 163.3 L689.8 163.5 L689.3 163.7 L688.7 163.9 L688.1 164 L687.5 164.2 L686.8 164.4 L686.1 164.5 L685.4 164.7 L684.7 164.8 L683.9 164.9 L683.2 165 L682.4 165.1 L681.6 165.2 L680.9 165.2 L680.1 165.2 L679.4 165.2 L678.6 165.1 L677.9 165.1 L677.2 165 L676.4 164.8 L675.7 164.7 L674.9 164.5 L674.1 164.2 L673.4 164 L672.6 163.7 L671.9 163.5 L671.2 163.2 L670.5 162.9 L669.9 162.5 L669.3 162.2 L668.7 161.8 L668.2 161.5 L667.7 161.1 L667.3 160.7 L666.9 160.3 L666.5 159.9 L666.1 159.4 L665.7 159 L665.4 158.5 L665 158 L664.6 157.6 L664.2 157.1 L663.8 156.6 L663.3 156.1 L662.9 155.7 L660.9 157.7 L661.4 158.1 L661.8 158.5 L662.2 159 L662.6 159.4 L663 159.8 L663.5 160.2 L664 160.7 L664.4 161.1 L665 161.5 L665.5 161.9 L666 162.3 L666.6 162.7 L667.2 163 L667.9 163.4 L668.6 163.7 L669.2 163.9 L670 164.2 L670.7 164.5 L671.5 164.7 L672.2 165 L673 165.2 L673.8 165.4 L674.6 165.6 L675.4 165.8 L676.2 165.9 L677 166.1 L677.8 166.2 L678.6 166.3 L679.3 166.3 L680.1 166.3 L680.9 166.3 L681.7 166.3 L682.5 166.2 L683.3 166.1 L684.1 166 L684.8 165.9 L685.6 165.8 L686.4 165.6 L687.1 165.5 L687.8 165.3 L688.4 165.1 L689.1 164.9 L689.7 164.7 L690.2 164.5 L690.8 164.2 L691.3 164 L691.8 163.7 L692.3 163.4 L692.7 163.1 L693.2 162.8 L693.6 162.5 L694 162.2 L694.4 161.9 L694.8 161.6 L695.2 161.3 L695.6 161 L696 160.8 L696.4 160.5 L696.8 160.1 L697.2 159.8 L697.5 159.5 L697.9 159.2 L698.2 158.9 L698.5 158.6 L698.9 158.3 L699.2 158.1 L699.5 157.8 L699.9 157.6 L700.3 157.4 L700.6 157.2 L701 157 L701.5 156.8 L701.9 156.6 L702.4 156.5 L702.8 156.3 L703.3 156.1 L703.7 156 L704.2 155.9 L704.6 155.8 L705.1 155.8 L705.5 155.7 L705.9 155.8 L706.3 155.8 L706.7 155.9 L707.2 156.1 L707.6 156.3 L708.1 156.5 L708.6 156.7 L709.1 157 L709.6 157.4 L710.1 157.7 L710.5 158.1 L711 158.5 L711.4 158.9 L711.8 159.4 L712.2 159.9 L712.5 160.3 L712.8 160.9 L713.1 161.4 L713.3 162 L713.6 162.6 L713.8 163.3 L713.9 163.9 L714.1 164.6 L714.2 165.4 L714.4 166.1 L714.5 166.9 L714.5 167.7 L714.6 168.5 L714.6 169.3 L714.6 170.1 L714.5 170.9 L714.5 171.7 L714.4 172.6 L714.2 173.5 L714.1 174.5 L713.9 175.5 L713.7 176.5 L713.4 177.5 L713.1 178.4 L712.8 179.4 L712.5 180.3 L712.2 181.1 L711.8 181.9 L711.4 182.6 L711.1 183.2 L710.7 183.7 L710.3 184.1 L709.9 184.5 L709.6 184.9 L709.2 185.2 L708.7 185.4 L708.3 185.7 L707.8 185.9 L707.4 186.2 L706.9 186.4 L706.4 186.7 L705.8 186.9 L705.3 187.2 L704.8 187.5 L704.3 187.8 L703.9 188.1 L703.4 188.3 L702.9 188.5 L702.4 188.7 L701.9 189 L701.3 189.2 L700.8 189.5 L700.2 189.8 L699.6 190.1 L699 190.5 L698.4 190.9 L697.8 191.4 L697.2 191.9 L696.7 192.4 L696.1 193 L695.6 193.6 L695 194.2 L694.5 194.8 L693.9 195.5 L693.4 196.2 L692.8 196.8 L692.3 197.6 L691.7 198.3 L691.2 199 L690.6 199.8 L690.1 200.6 L689.6 201.4 L689.1 202.2 L688.5 203 L688 203.9 L687.5 204.8 L687 205.8 L686.5 206.7 L686 207.7 L685.5 208.7 L685.1 209.7 L684.6 210.6 L684.2 211.6 L683.8 212.6 L683.4 213.5 L683.1 214.4 L682.8 215.2 L682.5 216.1 L682.2 216.9 L682 217.7 L681.8 218.5 L681.5 219.3 L681.4 220.1 L681.2 220.9 L681 221.7 L680.9 222.6 L680.8 223.4 L680.6 224.2 L680.5 225.1 L680.4 226 L680.4 227 L680.3 228 L680.3 229 L680.3 230 L680.3 231.1 L680.4 232.1 L680.4 233.1 L680.5 234.2 L680.5 235.2 L680.5 236.3 L680.5 237.3 L680.5 238.3 L680.5 239.3 L680.4 240.2 L680.3 241.2 L680.2 242.1 L680.1 243.1 L680 244 L679.9 244.9 L679.8 245.8 L679.6 246.7 L679.5 247.5 L679.3 248.4 L679.1 249.3 L678.8 250.2 L678.6 251.1 L678.3 251.9 L677.9 252.8 L677.5 253.8 L677.1 254.7 L676.7 255.7 L676.2 256.7 L675.7 257.7 L675.2 258.7 L674.6 259.7 L674 260.7 L673.4 261.6 L672.8 262.4 L672.1 263.2 L671.4 263.9 L670.8 264.6 L670.1 265.1 L669.4 265.5 L668.7 265.9 L668 266.2 L667.3 266.5 L666.5 266.7 L665.7 266.9 L664.9 267 L664.1 267.1 L663.3 267.2 L662.4 267.4 L661.6 267.5 L660.7 267.6 L659.8 267.7 L658.9 267.9 L658.1 268 L657.4 268.1 L656.5 268.2 L655.7 268.3 L654.8 268.4 L653.9 268.5 L653 268.5 L652.1 268.6 L651.2 268.7 L650.2 268.8 L649.3 269 L648.4 269.1 L647.5 269.4 L646.6 269.6 L645.8 269.9 L645 270.2 L644.2 270.5 L643.5 270.8 L642.7 271.1 L642 271.5 L641.2 271.9 L640.5 272.3 L639.8 272.7 L639 273.1 L638.3 273.6 L637.6 274.1 L636.8 274.7 L636.1 275.3 L635.3 275.9 L634.6 276.6 L633.8 277.4 L633 278.2 L632.2 279 L631.4 279.8 L630.6 280.7 L629.9 281.6 L629.1 282.5 L628.4 283.4 L627.6 284.3 L626.9 285.3 L626.3 286.2 L625.7 287.1 L625.1 288 L624.5 288.9 L624 289.8 L623.5 290.7 L623 291.6 L622.6 292.5 L622.1 293.4 L621.7 294.3 L621.3 295.3 L620.9 296.2 L620.5 297.1 L620 298.1 L619.6 299 L619.2 300 L618.7 300.9 L618.2 302 L617.8 303 L617.3 304 L616.8 305.1 L616.3 306.2 L615.9 307.2 L615.4 308.3 L614.9 309.3 L614.5 310.4 L614 311.4 L613.6 312.3 L613.2 313.3 L612.8 314.2 L612.4 315 L612 315.8 L611.7 316.6 L611.3 317.4 L611 318.1 L610.7 318.8 L610.4 319.5 L610.1 320.2 L609.8 320.8 L609.5 321.5 L609.1 322.2 L608.7 322.8 L608.2 323.5 L607.7 324.2 L607.2 324.9 L606.6 325.7 L605.9 326.5 L605.3 327.3 L604.6 328.1 L603.9 328.9 L603.1 329.7 L602.4 330.4 L601.6 331.2 L600.8 331.9 L600 332.6 L599.2 333.2 L598.4 333.7 L597.6 334.2 L596.8 334.7 L596 335.1 L595.2 335.5 L594.3 335.9 L593.4 336.2 L592.5 336.5 L591.7 336.7 L590.7 336.9 L589.8 337.1 L588.9 337.2 L588 337.3 L587.1 337.3 L586.2 337.4 L585.2 337.3 L584.3 337.3 L583.4 337.2 L582.5 337 L581.5 336.9 L580.6 336.6 L579.6 336.4 L578.7 336.1 L577.7 335.8 L576.7 335.5 L575.8 335.2 L574.8 334.9 L573.8 334.6 L572.8 334.3 L571.9 334 L570.9 333.7 L570 333.3 L569 332.9 L568.1 332.5 L567 332.1 L566 331.6 L564.9 331.2 L563.9 330.7 L562.8 330.3 L561.7 329.9 L560.6 329.5 L559.5 329.1 L558.5 328.8 L557.4 328.5 L556.4 328.3 L555.4 328.1 L554.4 328 L553.5 327.8 L552.5 327.7 L551.6 327.5 L550.6 327.5 L549.7 327.4 L548.8 327.4 L547.8 327.3 L546.9 327.4 L546 327.4 L545 327.5 L544.1 327.6 L543.1 327.8 L542.1 328 L541.2 328.3 L540.2 328.6 L539.3 328.9 L538.3 329.3 L537.4 329.6 L536.4 330 L535.5 330.5 L534.6 330.9 L533.6 331.4 L532.7 331.9 L531.8 332.4 L530.8 332.9 L529.9 333.4 L529 333.9 L528 334.5 L527 335.1 L526.1 335.8 L525.1 336.4 L524.1 337.1 L523.2 337.7 L522.2 338.4 L521.3 339.1 L520.4 339.8 L519.5 340.5 L518.7 341.3 L517.9 342 L517.1 342.7 L516.3 343.4 L515.6 344.1 L515 344.8 L514.3 345.4 L513.7 346.1 L513.1 346.9 L512.5 347.6 L511.9 348.4 L511.2 349.2 L510.5 350 L509.8 350.9 L509.1 351.9 L508.2 352.9 L507.3 354 L506.4 355.2 L505.4 356.6 L504.5 357.9 L503.4 359.4 L502.4 360.8 L501.4 362.3 L500.3 363.8 L499.2 365.2 L498.1 366.6 L497.1 368 L496 369.2 L494.9 370.4 L493.9 371.5 L492.8 372.5 L491.8 373.4 L490.7 374.3 L489.6 375.1 L488.6 375.9 L487.5 376.7 L486.4 377.4 L485.3 378.1 L484.2 378.7 L483.1 379.3 L482 379.9 L480.9 380.4 L479.9 380.9 L478.8 381.4 L477.7 381.8 L476.7 382.2 L475.6 382.6 L474.5 382.8 L473.5 383.1 L472.4 383.3 L471.3 383.5 L470.2 383.7 L469.1 383.8 L468.1 383.9 L467 384 L465.9 384.1 L464.8 384.2 L463.7 384.2 L462.6 384.3 L461.5 384.3 L460.4 384.3 L459.3 384.3 L458.2 384.2 L457.1 384.2 L456.1 384.1 L455 384 L453.9 383.8 L452.9 383.6 L451.8 383.5 L450.8 383.2 L449.8 383 L448.8 382.7 L447.8 382.4 L446.9 382.1 L445.9 381.8 L445 381.5 L444.1 381.1 L443.2 380.8 L442.3 380.4 L441.5 380 L440.6 379.6 L439.7 379.1 L438.8 378.7 L437.9 378.1 L436.9 377.6 L435.9 377 L434.9 376.4 L433.9 375.7 L432.8 375 L431.6 374.1 L430.4 373.3 L429.1 372.4 L427.8 371.4 L426.5 370.5 L425.2 369.6 L423.8 368.7 L422.5 367.8 L421.2 366.9 L419.9 366.1 L418.6 365.4 L417.4 364.8 L416.2 364.1 L415 363.5 L413.9 363 L412.7 362.4 L411.6 361.8 L410.4 361.3 L409.3 360.8 L408.2 360.4 L407 359.9 L405.9 359.5 L404.8 359.2 L403.6 358.9 L402.5 358.6 L401.3 358.3 L400.2 358.2 L399.1 358 L398 357.9 L396.9 357.9 L395.7 357.8 L394.6 357.8 L393.5 357.9 L392.4 357.9 L391.3 358 L390.1 358.2 L389 358.3 L387.8 358.4 L386.6 358.6 L385.4 358.8 L384.1 359 L382.8 359.2 L381.4 359.5 L380.1 359.8 L378.7 360.1 L377.3 360.5 L376 360.8 L374.6 361.2 L373.3 361.6 L372 362 L370.7 362.5 L369.5 362.9 L368.3 363.4 L367.3 363.8 L366.3 364.2 L365.3 364.6 L364.4 365.1 L363.6 365.5 L362.7 366 L361.9 366.5 L361 367 L360.2 367.5 L359.3 368.2 L358.3 368.8 L357.4 369.5 L356.3 370.3 L355.1 371.2 L353.9 372.2 L352.5 373.4 L351.1 374.7 L349.6 376 L348.1 377.5 L346.5 378.9 L345 380.4 L343.4 381.9 L341.9 383.3 L340.3 384.7 L338.8 386 L337.4 387.2 L336 388.2 L334.7 389 L333.5 389.7 L332.3 390.4 L331.2 390.9 L330 391.3 L328.9 391.7 L327.9 392 L326.8 392.3 L325.7 392.5 L324.7 392.7 L323.6 392.9 L322.5 393 L321.5 393.2 L320.4 393.3 L319.2 393.4 L318.1 393.6 L317.1 393.7 L316 393.8 L315 393.8 L313.9 393.9 L312.9 393.9 L311.8 393.9 L310.8 393.8 L309.8 393.8 L308.7 393.7 L307.6 393.5 L306.6 393.3 L305.4 393.1 L304.3 392.8 L303.2 392.5 L302 392.2 L300.7 391.8 L299.5 391.3 L298.2 390.8 L297 390.3 L295.7 389.7 L294.4 389.1 L293.2 388.4 L291.9 387.8 L290.7 387.1 L289.6 386.4 L288.4 385.6 L287.3 384.9 L286.2 384.1 L285.2 383.4 L284.2 382.6 L283.2 381.8 L282.2 381.1 L281.3 380.3 L280.4 379.4 L279.4 378.6 L278.5 377.7 L277.5 376.8 L276.5 375.9 L275.5 374.9 L274.4 373.9 L273.3 372.8 L272.2 371.7 L271 370.5 L269.7 369.1 L268.4 367.7 L267 366.2 L265.5 364.7 L264 363.1 L262.5 361.6 L261 360 L259.5 358.6 L258.1 357.1 L256.7 355.8 L255.3 354.6 L253.9 353.5 L252.6 352.6 L251.4 351.7 L250.2 350.9 L249 350.2 L247.9 349.6 L246.7 349 L245.6 348.5 L244.5 348 L243.4 347.6 L242.3 347.2 L241.2 346.9 L240 346.5 L238.8 346.2 L237.6 345.9 L236.4 345.6 L235.1 345.3 L233.9 345.1 L232.5 344.8 L231.2 344.7 L229.9 344.5 L228.6 344.4 L227.2 344.3 L225.9 344.3 L224.5 344.3 L223.2 344.3 L221.8 344.4 L220.5 344.4 L219.2 344.6 L217.8 344.7 L216.5 344.9 L215.1 345.2 L213.7 345.5 L212.3 345.8 L210.9 346.2 L209.6 346.6 L208.2 347 L206.9 347.4 L205.6 347.9 L204.3 348.4 L203.1 348.9 L201.9 349.4 L200.7 349.9 L199.6 350.4 L198.5 351 L197.5 351.6 L196.5 352.3 L195.6 352.9 L194.7 353.6 L193.8 354.3 L192.9 355 L192.1 355.7 L191.3 356.3 L190.5 357 L189.7 357.7 L188.9 358.3 L188.1 359 L187.4 359.6 L186.7 360.2 L186 360.8 L185.4 361.3 L184.8 361.9 L184.2 362.5 L183.6 363 L183 363.6 L182.4 364.2 L181.8 364.8 L181.1 365.4 L180.4 366.1 L179.7 366.8 L178.8 367.5 L177.9 368.3 L176.9 369.1 L176 370 L174.9 370.9 L173.9 371.9 L172.8 372.8 L171.7 373.8 L170.5 374.8 L169.4 375.7 L168.2 376.7 L167.1 377.6 L165.9 378.5 L164.7 379.4 L163.5 380.2 L162.3 381 L161.1 381.8 L159.8 382.6 L158.5 383.4 L157.2 384.2 L155.8 385 L154.5 385.8 L153.1 386.5 L151.8 387.2 L150.5 387.8 L149.3 388.4 L148.1 388.9 L146.9 389.4 L145.8 389.8 L144.8 390.1 L143.9 390.4 L143.1 390.5 L142.2 390.7 L141.5 390.7 L140.7 390.8 L139.9 390.8 L139.1 390.7 L138.3 390.7 L137.4 390.6 L136.5 390.6 L135.6 390.6 L134.5 390.6 L133.4 390.6 L132.3 390.6 L131.1 390.7 L129.9 390.8 L128.6 390.9 L127.3 390.9 L126 391 L124.8 391 L123.4 391.1 L122.1 391 L120.8 391 L119.5 390.9 L118.3 390.8 L117 390.6 L115.8 390.4 L114.5 390.1 L113.3 389.7 L112 389.4 L110.8 389 L109.5 388.6 L108.2 388.1 L106.9 387.6 L105.6 387.2 L104.3 386.7 L103 386.2 L101.7 385.6 L100.3 385.1 L99 384.6 L97.7 384.2 L96.4 383.7 L95.1 383.1 L93.8 382.6 L92.5 382 L91.1 381.3 L89.6 380.7 L88.2 380.1 L86.7 379.4 L85.2 378.8 L83.7 378.2 L82.2 377.7 L80.7 377.2 L79.2 376.8 L77.7 376.5 L76.3 376.2 L74.9 376 L73.5 375.8 L72.2 375.6 L70.9 375.4 L69.6 375.3 L68.2 375.2 L66.9 375.2 L65.6 375.2 L64.2 375.3 L62.9 375.4 L61.5 375.5 L60.1 375.8 L58.7 376 L57.3 376.4 L55.8 376.8 L54.3 377.2 L52.7 377.6 L51.1 378.2 L49.5 378.7 L47.9 379.4 L46.3 380.1 L44.8 380.8 L43.2 381.6 L41.7 382.5 L40.3 383.4 L38.9 384.4 L37.6 385.5 L36.4 386.6 L35.2 387.9 L34 389.2 L32.9 390.5 L31.8 392 L30.8 393.5 L29.8 395 L28.9 396.6 L28 398.2 L27.2 399.8 L26.4 401.5 L25.7 403.2 L25 404.9 L24.4 406.6 L23.9 408.4 L23.4 410.2 L23.1 412.2 L22.7 414.2 L22.5 416.3 L22.3 418.3 L22.1 420.4 L22 422.4 L21.9 424.4 L21.9 426.3 L21.8 428.1 L21.8 429.8 L21.7 431.3 L21.7 432.7 L21.7 433.9 L21.7 435 L21.7 436 L21.8 436.8 L21.8 437.6 L21.9 438.4 L22.1 439 L22.2 439.7 L22.4 440.3 L22.6 440.9 L22.8 441.5 L23.1 442.2 L23.3 442.9 L23.6 443.7 L23.9 444.6 L24.3 445.5 L24.6 446.4 L25 447.4 L25.4 448.3 L25.9 449.3 L26.3 450.3 L26.8 451.3 L27.3 452.3 L27.9 453.3 L28.4 454.3 L29 455.3 L29.7 456.3 L30.3 457.3 L31 458.3 L31.7 459.2 L32.5 460.2 L33.3 461.2 L34.1 462.2 L34.9 463.2 L35.8 464.2 L36.7 465.2 L37.6 466.1 L38.5 467.1 L39.5 468 L40.5 468.9 L41.4 469.8 L42.5 470.7 L43.5 471.6 L44.7 472.4 L45.8 473.2 L47 473.9 L48.2 474.6 L49.4 475.2 L50.6 475.9 L51.8 476.5 L53 477.2 L54.1 477.9 L55.2 478.7 L56.2 479.5 L57.2 480.3 L58.1 481.2 L59 482.2 L59.9 483.3 L60.8 484.5 L61.6 485.7 L62.4 487 L63.2 488.3 L64 489.7 L64.8 491.1 L65.5 492.5 L66.3 493.9 L67 495.4 L67.8 496.8 L68.5 498.2 L69.3 499.6 L70 501 L70.7 502.3 L71.4 503.7 L72 505 L72.7 506.3 L73.3 507.7 L73.9 509 L74.5 510.4 L75.1 511.8 L75.7 513.2 L76.3 514.6 L76.9 516 L77.5 517.5 L78.1 518.9 L78.6 520.4 L79.2 521.9 L79.7 523.4 L80.3 525 L80.9 526.6 L81.5 528.3 L82.1 529.9 L82.8 531.5 L83.5 533.2 L84.3 534.8 L85.1 536.4 L86 537.9 L87 539.4 L88 540.8 L89 542.2 L90.1 543.4 L91.3 544.7 L92.5 545.8 L93.6 547 L94.8 548 L96 549 L97.2 550 L98.3 550.9 L99.4 551.8 L100.5 552.6 L101.5 553.4 L102.4 554.1 L103.3 554.7 L104.1 555.4 L104.9 556 L105.7 556.5 L106.4 557 L107 557.4 L107.7 557.8 L108.3 558.2 L108.9 558.5 L109.5 558.9 L110 559.1 L110.6 559.4 L111.1 559.7 L111.6 559.9 L112.2 560.2 L112.7 560.5 L113.3 560.7 L113.8 561 L114.3 561.2 L114.9 561.4 L115.4 561.6 L115.9 561.8 L116.4 562 L116.8 562.2 L117.3 562.3 L117.8 562.5 L118.3 562.6 L118.9 562.8 L119.4 563 L120 563.2 L120.6 563.3 L121.3 563.5 L121.9 563.6 L122.5 563.7 L123.1 563.8 L123.7 563.9 L124.3 564.1 L124.9 564.2 L125.4 564.3 L125.9 564.5 L126.4 564.7 L126.9 564.9 L127.3 565.1 L127.7 565.3 L128.1 565.6 L128.5 565.9 L128.9 566.3 L129.2 566.7 L129.6 567.1 L130 567.5 L130.4 568 L130.8 568.4 L131.2 568.9 L131.7 569.4 L132.1 569.9 L132.6 570.4 L133.1 570.9 L133.7 571.4 L134.2 571.9 L134.7 572.4 L135.3 573 L135.9 573.5 L136.5 574.1 L137.1 574.7 L137.7 575.2 L138.3 575.8 L139 576.3 L139.6 576.8 L140.2 577.3 L140.9 577.8 L141.5 578.2 L142.2 578.5 L142.8 578.8 L143.5 579.1 L144.1 579.4 L144.8 579.6 L145.4 579.8 L146.1 580 L146.7 580.2 L147.3 580.3 L147.9 580.4 L148.5 580.5 L149 580.6 L149.5 580.7 L150.1 580.8 L150.6 580.9 L151 581 L151.5 581 L151.9 581.1 L152.3 581.1 L152.7 581.1 L153.1 581.1 L153.5 581 L153.8 581 L154.2 581 L154.6 581 L155 581 L155.5 581 L156 581 L156.6 581 L157.2 581 L157.9 581 L158.5 581 L159.3 581 L160 581 L160.7 581 L161.5 581 L162.3 581 L163 581 L163.8 581 L164.5 581 L165.3 581 L166 581Z" fill="#4c70be" />
<path d="M662.3 155.5 L661.3 155.2 L660.3 154.9 L659.3 154.6 L658.3 154.4 L657.3 154.2 L656.3 154 L655.3 153.8 L654.3 153.6 L653.4 153.5 L652.4 153.4 L651.5 153.4 L650.5 153.3 L649.6 153.3 L648.8 153.3 L647.9 153.4 L647.1 153.5 L646.3 153.5 L645.5 153.7 L644.7 153.8 L644 153.9 L643.2 154.1 L642.4 154.3 L641.6 154.6 L640.9 154.9 L640.1 155.2 L639.4 155.5 L638.6 155.8 L637.9 156.2 L637.1 156.6 L636.4 157 L635.7 157.4 L634.9 157.8 L634.2 158.2 L633.5 158.6 L632.8 159.1 L632 159.5 L631.3 159.9 L630.6 160.3 L629.9 160.7 L629.1 161.1 L628.4 161.5 L627.6 161.9 L626.9 162.3 L626.1 162.7 L625.4 163 L624.7 163.3 L623.9 163.5 L623.2 163.8 L622.5 164 L621.7 164.1 L621 164.3 L620.3 164.4 L619.6 164.5 L618.9 164.5 L618.3 164.5 L617.6 164.5 L617 164.5 L616.3 164.4 L615.7 164.4 L615.1 164.2 L614.5 164.1 L613.8 163.9 L613.2 163.7 L612.5 163.4 L611.9 163.1 L611.3 162.7 L610.7 162.4 L610.1 162 L609.5 161.5 L608.9 161.1 L608.3 160.6 L607.7 160.1 L607.1 159.6 L606.6 159 L606 158.5 L605.5 158 L604.9 157.4 L604.3 156.9 L603.8 156.3 L603.2 155.8 L602.7 155.2 L602.2 154.7 L601.6 154.1 L601.1 153.6 L600.5 153.1 L599.9 152.6 L599.4 152.1 L598.8 151.6 L598.2 151.2 L597.7 150.8 L597.1 150.4 L596.5 150 L595.9 149.6 L595.3 149.3 L594.7 149 L594.2 148.7 L593.6 148.5 L592.9 148.2 L592.3 148 L591.7 147.8 L591.1 147.6 L590.4 147.4 L589.8 147.3 L589.1 147.2 L588.4 147.1 L587.8 147 L587.1 147 L586.4 147 L585.8 146.9 L585.1 146.9 L584.4 146.9 L583.7 147 L583 147 L582.3 147 L581.7 147 L581 147 L580.3 147 L579.6 147 L578.9 147 L578.2 147 L577.5 147 L576.8 146.9 L576.1 146.9 L575.5 146.8 L574.8 146.7 L574.1 146.6 L573.4 146.5 L572.8 146.3 L572.1 146.2 L571.5 146 L570.9 145.8 L570.3 145.5 L569.7 145.3 L569.1 145 L568.6 144.7 L568 144.4 L567.5 144.1 L567 143.7 L566.5 143.4 L566 143 L565.6 142.6 L565.1 142.2 L564.7 141.7 L564.3 141.2 L563.9 140.8 L563.6 140.2 L563.2 139.7 L562.9 139.2 L562.6 138.6 L562.3 138.1 L562 137.5 L561.7 136.9 L561.5 136.3 L561.2 135.7 L561 135.1 L560.7 134.5 L560.5 133.8 L560.3 133.2 L560 132.6 L559.8 131.9 L559.6 131.3 L559.3 130.6 L559.1 130 L558.8 129.3 L558.6 128.7 L558.3 128 L558.1 127.3 L557.8 126.7 L557.5 126.1 L557.2 125.4 L556.9 124.8 L556.6 124.2 L556.3 123.6 L556 123 L555.7 122.4 L555.3 121.8 L555 121.2 L554.6 120.7 L554.3 120.1 L553.9 119.6 L553.6 119.1 L553.2 118.6 L552.8 118.1 L552.4 117.6 L552 117.1 L551.6 116.6 L551.2 116.1 L550.7 115.5 L550.3 115 L549.8 114.5 L549.4 114 L548.9 113.5 L548.4 113 L547.9 112.6 L547.5 112.1 L547 111.7 L546.6 111.3 L546.1 110.9 L545.7 110.5 L545.2 110.1 L544.6 109.9 L544.1 109.7 L543.6 109.6 L543.2 109.4 L542.7 109.3 L542.3 109.1 L542 109 L541.7 108.9 L541.4 108.7 L541.1 108.6 L540.8 108.5 L540.6 108.4 L540.3 108.3 L540.1 108.1 L539.9 108 L539.7 107.9 L539.5 107.7 L539.4 107.6 L539.2 107.4 L539 107.3 L538.8 107.1 L538.7 106.9 L538.6 106.8 L538.4 106.6 L538.3 106.4 L538.1 106.2 L538 106 L537.8 105.8 L537.7 105.6 L537.5 105.4 L537.3 105.2 L537.1 105 L536.9 104.8 L536.7 104.6 L536.4 104.4 L536.2 104.2 L536 104 L535.7 103.9 L535.4 103.7 L535.1 103.5 L534.8 103.4 L534.5 103.2 L534.2 103.1 L533.9 102.9 L533.5 102.8 L533.2 102.7 L532.8 102.7 L532.4 102.6 L532.1 102.6 L531.7 102.5 L531.4 102.5 L531 102.5 L530.6 102.5 L530.3 102.6 L529.9 102.6 L529.6 102.7 L529.3 102.8 L528.9 102.9 L528.6 103 L528.3 103.1 L528 103.2 L527.7 103.3 L527.4 103.5 L527.1 103.6 L526.8 103.8 L526.5 104 L526.3 104.1 L526 104.3 L525.8 104.6 L525.5 104.8 L525.3 105 L525 105.3 L524.8 105.5 L524.5 105.8 L524.3 106.1 L524 106.4 L523.8 106.7 L523.5 107 L523.2 107.3 L522.9 107.7 L522.7 108.1 L522.4 108.5 L522.1 108.9 L521.7 109.3 L521.4 109.7 L521 110.1 L520.7 110.5 L520.3 110.8 L519.8 111.1 L519.4 111.4 L518.9 111.7 L518.4 111.9 L517.9 112.1 L517.3 112.3 L516.8 112.4 L516.2 112.5 L515.6 112.6 L515 112.7 L514.4 112.8 L513.9 112.9 L514.1 114.1 L514.7 114 L515.3 113.8 L515.8 113.7 L516.4 113.5 L517 113.3 L517.6 113.1 L518.1 112.8 L518.7 112.6 L519.2 112.3 L519.7 112 L520.2 111.7 L520.7 111.3 L521.1 110.9 L521.5 110.6 L521.9 110.1 L522.2 109.7 L522.6 109.3 L522.9 108.9 L523.2 108.5 L523.5 108.1 L523.7 107.8 L524 107.4 L524.3 107.1 L524.5 106.8 L524.8 106.5 L525 106.2 L525.2 106 L525.5 105.7 L525.7 105.5 L525.9 105.3 L526.2 105.1 L526.4 104.9 L526.7 104.7 L526.9 104.5 L527.2 104.4 L527.4 104.2 L527.7 104.1 L527.9 103.9 L528.2 103.8 L528.5 103.7 L528.8 103.6 L529.1 103.5 L529.4 103.5 L529.7 103.5 L530 103.4 L530.3 103.4 L530.7 103.4 L531 103.5 L531.3 103.5 L531.6 103.6 L531.9 103.6 L532.2 103.7 L532.5 103.8 L532.8 103.9 L533.1 104 L533.4 104.1 L533.7 104.3 L533.9 104.4 L534.2 104.5 L534.5 104.7 L534.7 104.8 L535 105 L535.2 105.1 L535.4 105.3 L535.7 105.4 L535.9 105.6 L536.1 105.8 L536.3 105.9 L536.5 106.1 L536.7 106.2 L536.9 106.4 L537.1 106.5 L537.3 106.7 L537.4 106.8 L537.6 107 L537.8 107.2 L537.9 107.3 L538.1 107.5 L538.3 107.6 L538.5 107.8 L538.7 108 L538.9 108.2 L539.1 108.3 L539.3 108.5 L539.5 108.7 L539.7 108.8 L540 108.9 L540.2 109.1 L540.5 109.2 L540.8 109.3 L541.1 109.5 L541.4 109.6 L541.7 109.7 L542.1 109.9 L542.5 110 L542.9 110.2 L543.3 110.3 L543.8 110.5 L544.3 110.7 L544.8 110.9 L545.2 111.1 L545.6 111.5 L546 111.9 L546.5 112.3 L546.9 112.7 L547.4 113.1 L547.8 113.6 L548.3 114.1 L548.8 114.6 L549.2 115.1 L549.7 115.6 L550.1 116.1 L550.5 116.6 L551 117.1 L551.4 117.6 L551.8 118.1 L552.2 118.6 L552.5 119.1 L552.9 119.6 L553.2 120.1 L553.6 120.6 L553.9 121.1 L554.2 121.7 L554.5 122.2 L554.8 122.8 L555.1 123.4 L555.4 124 L555.6 124.6 L555.8 125.3 L556.1 125.9 L556.3 126.5 L556.5 127.2 L556.7 127.8 L556.9 128.5 L557.1 129.2 L557.3 129.8 L557.5 130.5 L557.7 131.2 L558 131.8 L558.2 132.5 L558.4 133.1 L558.7 133.8 L558.9 134.4 L559.2 135.1 L559.5 135.7 L559.8 136.3 L560.1 137 L560.4 137.6 L560.8 138.2 L561.1 138.7 L561.5 139.3 L561.9 139.9 L562.3 140.4 L562.7 140.9 L563.1 141.4 L563.5 141.9 L564 142.4 L564.5 142.8 L564.9 143.3 L565.4 143.7 L565.9 144.1 L566.4 144.5 L567 144.9 L567.5 145.2 L568.1 145.6 L568.7 145.9 L569.3 146.2 L569.9 146.4 L570.6 146.7 L571.2 146.9 L571.9 147.1 L572.6 147.3 L573.2 147.4 L573.9 147.6 L574.6 147.7 L575.3 147.8 L576 147.9 L576.8 147.9 L577.5 148 L578.2 148 L578.9 148 L579.6 148 L580.3 148 L581 148 L581.7 148 L582.4 148 L583.1 148 L583.7 148 L584.4 148 L585.1 148 L585.7 148 L586.4 148 L587 148 L587.7 148.1 L588.3 148.1 L589 148.2 L589.6 148.3 L590.2 148.5 L590.8 148.6 L591.4 148.8 L592 149 L592.5 149.2 L593.1 149.5 L593.6 149.7 L594.2 150.1 L594.7 150.4 L595.2 150.7 L595.7 151.1 L596.2 151.5 L596.7 152 L597.2 152.4 L597.7 152.9 L598.2 153.4 L598.7 153.9 L599.2 154.4 L599.7 155 L600.2 155.5 L600.7 156.1 L601.2 156.7 L601.8 157.2 L602.3 157.8 L602.9 158.3 L603.5 158.9 L604.1 159.4 L604.7 160 L605.3 160.5 L606 161 L606.6 161.5 L607.3 161.9 L607.9 162.4 L608.6 162.8 L609.3 163.2 L610 163.6 L610.7 163.9 L611.4 164.2 L612.1 164.5 L612.8 164.8 L613.5 165 L614.2 165.2 L614.9 165.4 L615.5 165.5 L616.2 165.6 L616.9 165.7 L617.6 165.7 L618.3 165.7 L619 165.7 L619.7 165.6 L620.5 165.5 L621.2 165.4 L622 165.3 L622.7 165.1 L623.5 164.9 L624.3 164.7 L625.1 164.4 L625.9 164.1 L626.6 163.8 L627.4 163.4 L628.2 163 L629 162.6 L629.7 162.1 L630.4 161.7 L631.2 161.4 L631.9 160.9 L632.6 160.5 L633.4 160.1 L634.1 159.7 L634.8 159.3 L635.5 158.9 L636.3 158.5 L637 158.1 L637.7 157.7 L638.4 157.3 L639.1 157 L639.9 156.6 L640.6 156.3 L641.3 156 L642 155.8 L642.8 155.5 L643.5 155.3 L644.2 155.2 L644.9 155 L645.7 154.9 L646.4 154.8 L647.2 154.8 L648 154.8 L648.8 154.8 L649.6 154.8 L650.4 154.9 L651.3 155.1 L652.2 155.2 L653.1 155.4 L654 155.6 L654.9 155.8 L655.8 156.1 L656.8 156.4 L657.7 156.6 L658.7 156.9 L659.6 157.2 L660.6 157.6 L661.5 157.9Z" fill="#4c70be" />
<path d="M661.5 156.2 L660.7 156.9 L660 157.6 L659.3 158.3 L658.5 159 L657.8 159.7 L657.1 160.3 L656.3 161 L655.6 161.6 L654.9 162.1 L654.1 162.7 L653.3 163.2 L652.5 163.7 L651.7 164.1 L650.9 164.5 L650.1 164.8 L649.3 165.1 L648.4 165.4 L647.6 165.6 L646.7 165.7 L645.8 165.8 L645 165.9 L644.2 165.9 L643.3 165.8 L642.5 165.7 L641.7 165.6 L640.8 165.4 L640 165.2 L639.2 165 L638.4 164.7 L637.6 164.4 L636.8 164.1 L636 163.8 L635.2 163.4 L634.4 163.1 L633.6 162.7 L632.9 162.3 L632.1 161.9 L631.4 161.5 L630.7 161 L630 160.6 L629.4 160.2 L628.7 159.7 L628.1 159.2 L627.4 158.7 L626.8 158.3 L626.2 157.8 L625.6 157.4 L625 157 L624.4 156.6 L623.8 156.2 L623.1 155.8 L622.5 155.5 L621.9 155.2 L621.2 154.9 L620.6 154.6 L619.9 154.3 L619.2 154.1 L618.5 153.9 L617.8 153.8 L617.1 153.6 L616.4 153.5 L615.7 153.5 L615 153.4 L614.3 153.4 L613.6 153.4 L612.8 153.5 L612.1 153.6 L611.4 153.7 L610.6 153.8 L609.9 154 L609.1 154.1 L608.4 154.3 L607.6 154.5 L606.9 154.7 L606.1 154.9 L605.4 155.1 L604.6 155.3 L603.9 155.6 L603.1 155.8 L602.4 156 L601.6 156.2 L600.9 156.4 L600.1 156.6 L599.4 156.7 L598.6 156.9 L597.9 157 L597.2 157.1 L596.5 157.2 L595.8 157.3 L595.1 157.3 L594.4 157.3 L593.7 157.3 L593 157.3 L592.4 157.2 L591.7 157.1 L591.1 157 L590.5 156.9 L589.9 156.7 L589.2 156.5 L588.6 156.2 L588.1 156 L587.5 155.7 L587 155.4 L586.4 155 L585.9 154.6 L585.4 154.2 L584.8 153.8 L584.3 153.3 L583.8 152.9 L583.4 152.4 L582.9 151.9 L582.4 151.3 L582 150.8 L581.5 150.3 L581.1 149.7 L580.6 149.2 L580.2 148.6 L579.8 148.1 L579.4 147.5 L579 147 L578.6 146.4 L578.2 145.8 L577.8 145.3 L577.4 144.7 L577 144.2 L576.7 143.6 L576.3 143.1 L575.9 142.6 L575.5 142.1 L575 141.6 L574.6 141.1 L574.2 140.6 L573.8 140.1 L573.3 139.7 L572.9 139.2 L572.5 138.8 L572 138.4 L571.5 138 L571 137.6 L570.6 137.3 L570.1 136.9 L569.6 136.6 L569 136.2 L568.5 135.9 L568 135.6 L567.4 135.4 L566.9 135.1 L566.3 134.8 L565.8 134.6 L565.2 134.3 L564.6 134.1 L564 133.8 L563.5 133.6 L562.9 133.4 L562.3 133.1 L561.7 132.9 L561 132.6 L560.4 132.4 L559.8 132.1 L559.2 131.8 L558.6 131.5 L558 131.2 L557.4 130.8 L556.7 130.5 L556.1 130.1 L555.5 129.7 L555 129.3 L554.4 128.9 L553.8 128.5 L553.2 128 L552.7 127.6 L552.2 127.1 L551.7 126.6 L551.2 126.1 L550.8 125.6 L550.3 125.1 L549.9 124.6 L549.5 124 L549.2 123.5 L548.8 122.9 L548.5 122.3 L548.2 121.7 L547.9 121.1 L547.7 120.4 L547.4 119.7 L547.3 119.1 L547.1 118.4 L547 117.7 L546.8 117 L546.7 116.4 L546.6 115.7 L546.5 115.1 L546.5 114.4 L546.4 113.8 L546.3 113.2 L546.2 112.5 L546.1 112 L546 111.4 L545.9 110.8 L545.8 110.4 L545.7 109.9 L545.7 109.3 L545.6 108.8 L545.5 108.2 L545.4 107.7 L545.2 107.2 L545.1 106.8 L544.9 106.3 L544.6 105.9 L544.4 105.6 L544.1 105.2 L543.9 104.9 L543.6 104.6 L543.3 104.3 L543 104.1 L542.7 103.8 L542.4 103.6 L542.1 103.4 L541.8 103.3 L541.4 103.1 L541.1 103 L540.7 102.8 L540.3 102.7 L539.9 102.7 L539.5 102.6 L539.2 102.6 L538.8 102.6 L538.4 102.6 L538.1 102.6 L537.7 102.7 L537.4 102.7 L537.1 102.8 L536.7 102.9 L536.4 103 L536.1 103.1 L535.8 103.2 L535.5 103.4 L535.2 103.5 L534.9 103.6 L534.6 103.8 L534.4 103.9 L534.1 104.1 L533.8 104.3 L533.5 104.4 L533.3 104.6 L533 104.8 L532.8 105 L532.5 105.1 L532.3 105.3 L532 105.5 L531.8 105.6 L531.5 105.8 L531.3 105.9 L531 106 L530.8 106.2 L530.5 106.3 L530.3 106.4 L530 106.5 L529.8 106.6 L529.5 106.7 L529.2 106.8 L529 106.8 L528.7 106.9 L528.5 106.9 L528.2 107 L528 107 L527.7 107 L527.4 107 L527.1 107.1 L526.9 107.1 L526.5 107.1 L526.2 107.1 L525.9 107.1 L525.6 107.1 L525.2 107.1 L524.8 107.1 L524.4 107.2 L524 107.2 L523.6 107.2 L523.1 107.3 L522.7 107.3 L522.1 107.4 L521.6 107.5 L521.1 107.6 L520.5 107.8 L520 108 L519.4 108.2 L518.9 108.5 L518.4 108.7 L517.9 109 L517.4 109.4 L516.9 109.7 L516.5 110.1 L516.1 110.6 L515.6 111 L515.2 111.5 L514.9 111.9 L514.5 112.4 L514.1 112.8 L513.7 113.3 L514.3 113.7 L514.6 113.3 L515 112.8 L515.4 112.3 L515.7 111.9 L516.1 111.4 L516.5 111 L516.9 110.6 L517.4 110.2 L517.8 109.9 L518.2 109.6 L518.7 109.3 L519.2 109.1 L519.7 109 L520.2 108.8 L520.8 108.7 L521.3 108.7 L521.8 108.6 L522.3 108.6 L522.8 108.5 L523.3 108.5 L523.7 108.5 L524.1 108.4 L524.6 108.4 L524.9 108.3 L525.3 108.2 L525.7 108.2 L526 108.1 L526.3 108.1 L526.7 108 L527 108 L527.2 107.9 L527.5 107.9 L527.8 107.8 L528.1 107.7 L528.3 107.7 L528.6 107.6 L528.9 107.6 L529.1 107.5 L529.4 107.4 L529.7 107.3 L530 107.2 L530.3 107.1 L530.5 107 L530.8 106.9 L531.1 106.8 L531.4 106.6 L531.6 106.5 L531.9 106.4 L532.1 106.2 L532.4 106 L532.7 105.9 L532.9 105.7 L533.2 105.5 L533.4 105.4 L533.7 105.2 L533.9 105 L534.2 104.9 L534.4 104.7 L534.7 104.6 L535 104.4 L535.2 104.3 L535.5 104.1 L535.8 104 L536.1 103.9 L536.4 103.8 L536.6 103.7 L536.9 103.6 L537.2 103.5 L537.5 103.4 L537.8 103.4 L538.2 103.3 L538.5 103.3 L538.8 103.3 L539.1 103.3 L539.5 103.3 L539.8 103.4 L540.1 103.5 L540.5 103.6 L540.8 103.7 L541.1 103.8 L541.4 103.9 L541.7 104.1 L542 104.3 L542.3 104.5 L542.5 104.7 L542.8 104.9 L543 105.2 L543.2 105.4 L543.4 105.7 L543.6 106.1 L543.7 106.4 L543.9 106.8 L544 107.2 L544.1 107.6 L544.1 108 L544.2 108.4 L544.2 108.9 L544.2 109.4 L544.2 109.9 L544.2 110.6 L544.4 111.2 L544.5 111.7 L544.6 112.2 L544.7 112.8 L544.8 113.4 L545 114 L545.1 114.6 L545.2 115.3 L545.3 115.9 L545.5 116.6 L545.7 117.3 L545.8 118 L546 118.7 L546.3 119.4 L546.5 120 L546.8 120.7 L547.1 121.4 L547.4 122.1 L547.7 122.7 L548.1 123.4 L548.4 123.9 L548.8 124.5 L549.2 125.1 L549.7 125.6 L550.1 126.2 L550.6 126.7 L551.1 127.2 L551.6 127.8 L552.1 128.2 L552.7 128.7 L553.3 129.2 L553.8 129.6 L554.4 130.1 L555.1 130.5 L555.7 130.9 L556.3 131.2 L556.9 131.6 L557.6 132 L558.2 132.3 L558.8 132.6 L559.4 132.9 L560.1 133.2 L560.7 133.5 L561.3 133.7 L561.9 134 L562.5 134.2 L563.1 134.5 L563.7 134.7 L564.3 134.9 L564.8 135.2 L565.4 135.4 L565.9 135.7 L566.5 135.9 L567 136.2 L567.5 136.5 L568 136.8 L568.5 137.1 L569 137.4 L569.5 137.7 L570 138 L570.4 138.4 L570.9 138.8 L571.3 139.2 L571.7 139.6 L572.1 140 L572.5 140.4 L572.9 140.9 L573.2 141.4 L573.6 141.9 L573.9 142.4 L574.3 142.9 L574.6 143.4 L574.9 144 L575.2 144.5 L575.6 145.1 L575.9 145.7 L576.3 146.3 L576.6 146.9 L577 147.4 L577.4 148 L577.8 148.6 L578.3 149.2 L578.7 149.8 L579.2 150.3 L579.7 150.9 L580.2 151.4 L580.7 152 L581.2 152.5 L581.8 153 L582.3 153.5 L582.9 153.9 L583.5 154.4 L584 154.8 L584.6 155.2 L585.2 155.6 L585.8 156 L586.4 156.3 L587 156.6 L587.6 156.9 L588.2 157.2 L588.9 157.5 L589.5 157.7 L590.2 157.9 L590.9 158 L591.6 158.2 L592.3 158.3 L593 158.4 L593.7 158.4 L594.4 158.4 L595.1 158.4 L595.9 158.4 L596.6 158.3 L597.3 158.2 L598.1 158.1 L598.8 158 L599.6 157.8 L600.4 157.6 L601.1 157.4 L601.9 157.2 L602.6 157 L603.4 156.8 L604.2 156.6 L604.9 156.4 L605.7 156.2 L606.4 156 L607.2 155.8 L607.9 155.6 L608.6 155.4 L609.4 155.2 L610.1 155.1 L610.8 154.9 L611.5 154.8 L612.2 154.7 L612.9 154.6 L613.6 154.6 L614.3 154.6 L615 154.6 L615.6 154.6 L616.3 154.7 L616.9 154.8 L617.6 154.9 L618.2 155.1 L618.9 155.3 L619.5 155.5 L620.1 155.8 L620.6 156.1 L621.2 156.4 L621.7 156.8 L622.3 157.2 L622.8 157.6 L623.3 158 L623.9 158.5 L624.4 158.9 L624.9 159.4 L625.5 159.9 L626.1 160.4 L626.7 160.9 L627.4 161.5 L628 162 L628.8 162.6 L629.6 163 L630.3 163.4 L631.1 163.8 L631.9 164.2 L632.7 164.6 L633.5 165 L634.4 165.3 L635.2 165.6 L636.1 165.9 L637 166.2 L637.9 166.4 L638.8 166.6 L639.7 166.8 L640.6 167 L641.5 167.1 L642.4 167.1 L643.3 167.2 L644.2 167.2 L645.1 167.1 L646 167.1 L646.9 167 L647.8 166.8 L648.7 166.6 L649.7 166.3 L650.6 166 L651.4 165.6 L652.3 165.2 L653.2 164.8 L654 164.3 L654.8 163.7 L655.6 163.2 L656.4 162.6 L657.2 162 L657.9 161.3 L658.7 160.6 L659.4 160 L660.2 159.3 L660.9 158.6 L661.6 157.9 L662.3 157.2Z" fill="#4c70be" />
<path d="M513.2 114.2 Q503.6 120 500.6 129" fill="none" stroke="#4c70be" stroke-width="3.2" stroke-linecap="round"/>
</g>
<g id="sequence">
<desc>DNA base sequence: ATGACGGATCAGCCGCAAGCGGAATTGGCGACATAA paired with TACTGCCTAGTCGGCGTTCGCCTTAACCGCTGTATT</desc>
<line x1="160" y1="484.7" x2="735.3" y2="484.7" stroke="#4c70be" stroke-width="3" stroke-linecap="butt"/>
<line x1="160" y1="579.6" x2="739.4" y2="579.6" stroke="#4c70be" stroke-width="3" stroke-linecap="butt"/>
<path d="M166.8 484.7V494.6M182.6 484.7V494.6M198.4 484.7V494.6M214.3 484.7V494.6M230.1 484.7V494.6M245.9 484.7V494.6M261.7 484.7V494.6M277.6 484.7V494.6M293.4 484.7V494.6M309.2 484.7V494.6M325 484.7V494.6M340.9 484.7V494.6M356.7 484.7V494.6M372.5 484.7V494.6M388.3 484.7V494.6M404.1 484.7V494.6M420 484.7V494.6M435.8 484.7V494.6M451.6 484.7V494.6M467.4 484.7V494.6M483.3 484.7V494.6M499.1 484.7V494.6M514.9 484.7V494.6M530.7 484.7V494.6M546.6 484.7V494.6M562.4 484.7V494.6M578.2 484.7V494.6M594 484.7V494.6M609.8 484.7V494.6M625.7 484.7V494.6M641.5 484.7V494.6M657.3 484.7V494.6M673.1 484.7V494.6M689 484.7V494.6M704.8 484.7V494.6M720.6 484.7V494.6M166.8 579.6V570.6M182.6 579.6V570.6M198.4 579.6V570.6M214.3 579.6V570.6M230.1 579.6V570.6M245.9 579.6V570.6M261.7 579.6V570.6M277.6 579.6V570.6M293.4 579.6V570.6M309.2 579.6V570.6M325 579.6V570.6M340.9 579.6V570.6M356.7 579.6V570.6M372.5 579.6V570.6M388.3 579.6V570.6M404.1 579.6V570.6M420 579.6V570.6M435.8 579.6V570.6M451.6 579.6V570.6M467.4 579.6V570.6M483.3 579.6V570.6M499.1 579.6V570.6M514.9 579.6V570.6M530.7 579.6V570.6M546.6 579.6V570.6M562.4 579.6V570.6M578.2 579.6V570.6M594 579.6V570.6M609.8 579.6V570.6M625.7 579.6V570.6M641.5 579.6V570.6M657.3 579.6V570.6M673.1 579.6V570.6M689 579.6V570.6M704.8 579.6V570.6M720.6 579.6V570.6" stroke="#4c70be" stroke-width="3" fill="none"/>
<text y="514.4" font-size="19.8" text-anchor="middle" transform="scale(0.92 1)"><tspan x="181.3" fill="#12a24c">A</tspan><tspan x="198.5" fill="#c5203c">T</tspan><tspan x="215.7" fill="#161616">G</tspan><tspan x="232.9" fill="#12a24c">A</tspan><tspan x="250.1" fill="#7b98d8">C</tspan><tspan x="267.3" fill="#161616">G</tspan><tspan x="284.5" fill="#161616">G</tspan><tspan x="301.7" fill="#12a24c">A</tspan><tspan x="318.9" fill="#c5203c">T</tspan><tspan x="336.1" fill="#7b98d8">C</tspan><tspan x="353.3" fill="#12a24c">A</tspan><tspan x="370.5" fill="#161616">G</tspan><tspan x="387.7" fill="#7b98d8">C</tspan><tspan x="404.9" fill="#7b98d8">C</tspan><tspan x="422.1" fill="#161616">G</tspan><tspan x="439.3" fill="#7b98d8">C</tspan><tspan x="456.5" fill="#12a24c">A</tspan><tspan x="473.7" fill="#12a24c">A</tspan><tspan x="490.9" fill="#161616">G</tspan><tspan x="508.1" fill="#7b98d8">C</tspan><tspan x="525.3" fill="#161616">G</tspan><tspan x="542.5" fill="#161616">G</tspan><tspan x="559.7" fill="#12a24c">A</tspan><tspan x="576.9" fill="#12a24c">A</tspan><tspan x="594.1" fill="#c5203c">T</tspan><tspan x="611.3" fill="#c5203c">T</tspan><tspan x="628.5" fill="#161616">G</tspan><tspan x="645.7" fill="#161616">G</tspan><tspan x="662.9" fill="#7b98d8">C</tspan><tspan x="680.1" fill="#161616">G</tspan><tspan x="697.3" fill="#12a24c">A</tspan><tspan x="714.5" fill="#7b98d8">C</tspan><tspan x="731.7" fill="#12a24c">A</tspan><tspan x="748.9" fill="#c5203c">T</tspan><tspan x="766.1" fill="#12a24c">A</tspan><tspan x="783.3" fill="#12a24c">A</tspan></text>
<text y="564.7" font-size="19.8" text-anchor="middle" transform="scale(0.92 1)"><tspan x="181.3" fill="#c5203c">T</tspan><tspan x="198.5" fill="#12a24c">A</tspan><tspan x="215.7" fill="#7b98d8">C</tspan><tspan x="232.9" fill="#c5203c">T</tspan><tspan x="250.1" fill="#161616">G</tspan><tspan x="267.3" fill="#7b98d8">C</tspan><tspan x="284.5" fill="#7b98d8">C</tspan><tspan x="301.7" fill="#c5203c">T</tspan><tspan x="318.9" fill="#12a24c">A</tspan><tspan x="336.1" fill="#161616">G</tspan><tspan x="353.3" fill="#c5203c">T</tspan><tspan x="370.5" fill="#7b98d8">C</tspan><tspan x="387.7" fill="#161616">G</tspan><tspan x="404.9" fill="#161616">G</tspan><tspan x="422.1" fill="#7b98d8">C</tspan><tspan x="439.3" fill="#161616">G</tspan><tspan x="456.5" fill="#c5203c">T</tspan><tspan x="473.7" fill="#c5203c">T</tspan><tspan x="490.9" fill="#7b98d8">C</tspan><tspan x="508.1" fill="#161616">G</tspan><tspan x="525.3" fill="#7b98d8">C</tspan><tspan x="542.5" fill="#7b98d8">C</tspan><tspan x="559.7" fill="#c5203c">T</tspan><tspan x="576.9" fill="#c5203c">T</tspan><tspan x="594.1" fill="#12a24c">A</tspan><tspan x="611.3" fill="#12a24c">A</tspan><tspan x="628.5" fill="#7b98d8">C</tspan><tspan x="645.7" fill="#7b98d8">C</tspan><tspan x="662.9" fill="#161616">G</tspan><tspan x="680.1" fill="#7b98d8">C</tspan><tspan x="697.3" fill="#c5203c">T</tspan><tspan x="714.5" fill="#161616">G</tspan><tspan x="731.7" fill="#c5203c">T</tspan><tspan x="748.9" fill="#12a24c">A</tspan><tspan x="766.1" fill="#c5203c">T</tspan><tspan x="783.3" fill="#c5203c">T</tspan></text>
</g>
<g id="nucleosomes">
<path d="M487 150 Q482 161.8 487.5 170.5" fill="none" stroke="#4c70be" stroke-width="1.9" stroke-linecap="butt"/>
<path d="M485.5 192.5 Q479.8 202.4 475 195.5" fill="none" stroke="#4c70be" stroke-width="1.9" stroke-linecap="butt"/>
<path d="M455.5 197 Q448.8 201.8 443 191.5" fill="none" stroke="#4c70be" stroke-width="1.9" stroke-linecap="butt"/>
<circle cx="433.4" cy="186.6" r="10.9" fill="#b2b2b2" stroke="#0d0d0d" stroke-width="1.6"/>
<circle cx="465.4" cy="193.2" r="12.3" fill="#b2b2b2" stroke="#0d0d0d" stroke-width="1.6"/>
<circle cx="493.8" cy="181.8" r="12.8" fill="#b2b2b2" stroke="#0d0d0d" stroke-width="1.6"/>
<path d="M434.4 175.1 Q437.6 186.6 434.4 198.1" fill="none" stroke="#4c70be" stroke-width="1.9" stroke-linecap="butt"/>
<path d="M437.6 175.9 Q440.8 186.6 437.6 197.3" fill="none" stroke="#4c70be" stroke-width="1.9" stroke-linecap="butt"/>
<path d="M440.6 177.8 Q443.8 186.6 440.6 195.4" fill="none" stroke="#4c70be" stroke-width="1.9" stroke-linecap="butt"/>
<path d="M459.9 181.6 Q456.3 193.2 459.9 204.8" fill="none" stroke="#4c70be" stroke-width="1.9" stroke-linecap="butt"/>
<path d="M462.8 180.6 Q459.2 193.2 462.8 205.8" fill="none" stroke="#4c70be" stroke-width="1.9" stroke-linecap="butt"/>
<path d="M468 180.6 Q464.4 193.2 468 205.8" fill="none" stroke="#4c70be" stroke-width="1.9" stroke-linecap="butt"/>
<path d="M490.6 168.8 Q486.6 181.8 490.6 194.8" fill="none" stroke="#4c70be" stroke-width="1.9" stroke-linecap="butt"/>
<path d="M495.7 168.5 Q491.7 181.8 495.7 195.1" fill="none" stroke="#4c70be" stroke-width="1.9" stroke-linecap="butt"/>
<circle cx="487.5" cy="136.4" r="14.9" fill="#b2b2b2" stroke="#0d0d0d" stroke-width="1.7"/>
<path d="M473.2 135.6 Q484.3 131.4 502.2 134.4" fill="none" stroke="#0d0d0d" stroke-width="1.4" stroke-linecap="butt"/>
<path d="M481.8 123 Q472.2 136 485.8 151" fill="none" stroke="#0d0d0d" stroke-width="1.4" stroke-linecap="butt"/>
<path d="M488 121.3 Q498.4 136.2 488 152" fill="none" stroke="#4c70be" stroke-width="1.9" stroke-linecap="butt"/>
<path d="M496 123.6 Q502.9 135.7 494.2 150.6" fill="none" stroke="#4c70be" stroke-width="1.9" stroke-linecap="butt"/>
</g>
<g id="chromatin">
<path d="M145.2 111 L145.4 111.4 L145.6 111.9 L145.7 112.3 L145.9 112.7 L146.1 113.1 L146.3 113.6 L146.5 114 L146.7 114.5 L146.9 115 L147.2 115.5 L147.5 116.1 L147.9 116.6 L148.2 117.2 L148.6 117.8 L149 118.5 L149.5 119.1 L149.9 119.8 L150.2 120.5 L150.6 121.2 L150.9 122 L151.2 122.8 L151.5 123.7 L151.8 124.6 L152 125.5 L152.3 126.4 L152.5 127.4 L152.7 128.4 L152.8 129.3 L152.9 130.3 L153 131.2 L153 132.1 L153 133.1 L152.9 134 L152.8 135 L152.6 136 L152.5 136.9 L152.3 137.8 L152.1 138.7 L151.8 139.6 L151.6 140.4 L151.3 141.2 L151 141.9 L150.7 142.6 L150.4 143.2 L150 143.9 L149.7 144.5 L149.3 145.1 L148.9 145.7 L148.5 146.4 L148.2 147" fill="none" stroke="#0d0d0d" stroke-width="5.6" stroke-linecap="butt"/>
<path d="M145.2 111 L145.4 111.4 L145.6 111.9 L145.7 112.3 L145.9 112.7 L146.1 113.1 L146.3 113.6 L146.5 114 L146.7 114.5 L146.9 115 L147.2 115.5 L147.5 116.1 L147.9 116.6 L148.2 117.2 L148.6 117.8 L149 118.5 L149.5 119.1 L149.9 119.8 L150.2 120.5 L150.6 121.2 L150.9 122 L151.2 122.8 L151.5 123.7 L151.8 124.6 L152 125.5 L152.3 126.4 L152.5 127.4 L152.7 128.4 L152.8 129.3 L152.9 130.3 L153 131.2 L153 132.1 L153 133.1 L152.9 134 L152.8 135 L152.6 136 L152.5 136.9 L152.3 137.8 L152.1 138.7 L151.8 139.6 L151.6 140.4 L151.3 141.2 L151 141.9 L150.7 142.6 L150.4 143.2 L150 143.9 L149.7 144.5 L149.3 145.1 L148.9 145.7 L148.5 146.4 L148.2 147" fill="none" stroke="#fff" stroke-width="3" stroke-linecap="butt"/>
<ellipse cx="148.6" cy="144.6" rx="2" ry="3.4" fill="none" stroke="#0d0d0d" stroke-width="4.4" transform="rotate(28 148.6 144.6)"/>
<ellipse cx="148.6" cy="144.6" rx="2" ry="3.4" fill="none" stroke="#fff" stroke-width="2.2" transform="rotate(28 148.6 144.6)"/>
<ellipse cx="146.6" cy="146.6" rx="2.1" ry="3.8" fill="none" stroke="#0d0d0d" stroke-width="4.4" transform="rotate(28 146.6 146.6)"/>
<ellipse cx="146.6" cy="146.6" rx="2.1" ry="3.8" fill="none" stroke="#fff" stroke-width="2.2" transform="rotate(28 146.6 146.6)"/>
<ellipse cx="144.4" cy="148.6" rx="2.3" ry="4.3" fill="none" stroke="#0d0d0d" stroke-width="4.4" transform="rotate(27 144.4 148.6)"/>
<ellipse cx="144.4" cy="148.6" rx="2.3" ry="4.3" fill="none" stroke="#fff" stroke-width="2.2" transform="rotate(27 144.4 148.6)"/>
<ellipse cx="141.8" cy="150.8" rx="2.6" ry="5" fill="none" stroke="#0d0d0d" stroke-width="4.4" transform="rotate(26 141.8 150.8)"/>
<ellipse cx="141.8" cy="150.8" rx="2.6" ry="5" fill="none" stroke="#fff" stroke-width="2.2" transform="rotate(26 141.8 150.8)"/>
<ellipse cx="137.8" cy="155" rx="3.6" ry="6.8" fill="none" stroke="#0d0d0d" stroke-width="5.4" transform="rotate(25 137.8 155)"/>
<ellipse cx="137.8" cy="155" rx="3.6" ry="6.8" fill="none" stroke="#fff" stroke-width="2.9" transform="rotate(25 137.8 155)"/>
<ellipse cx="129.6" cy="161.4" rx="4.4" ry="9.6" fill="none" stroke="#0d0d0d" stroke-width="5.4" transform="rotate(24 129.6 161.4)"/>
<ellipse cx="129.6" cy="161.4" rx="4.4" ry="9.6" fill="none" stroke="#fff" stroke-width="2.9" transform="rotate(24 129.6 161.4)"/>
<ellipse cx="119.3" cy="165.4" rx="5.2" ry="12.2" fill="none" stroke="#0d0d0d" stroke-width="5.4" transform="rotate(21 119.3 165.4)"/>
<ellipse cx="119.3" cy="165.4" rx="5.2" ry="12.2" fill="none" stroke="#fff" stroke-width="2.9" transform="rotate(21 119.3 165.4)"/>
<ellipse cx="106.4" cy="169.6" rx="4.6" ry="16" fill="none" stroke="#0d0d0d" stroke-width="5.4" transform="rotate(15 106.4 169.6)"/>
<ellipse cx="106.4" cy="169.6" rx="4.6" ry="16" fill="none" stroke="#fff" stroke-width="2.9" transform="rotate(15 106.4 169.6)"/>
<path d="M103.5 185.5 L103.2 185.7 L102.9 186 L102.6 186.2 L102.3 186.5 L102 186.8 L101.7 187 L101.4 187.2 L101.1 187.4 L100.8 187.5 L100.5 187.6 L100.2 187.6 L99.8 187.6 L99.5 187.5 L99.1 187.4 L98.7 187.3 L98.4 187.1 L98 186.9 L97.6 186.7 L97.3 186.5 L97 186.2 L96.7 185.9 L96.4 185.5 L96.2 185.1 L95.9 184.7 L95.7 184.3 L95.5 183.8 L95.2 183.3 L95 182.9 L94.7 182.4 L94.5 182" fill="none" stroke="#0d0d0d" stroke-width="5.4" stroke-linecap="butt"/>
<path d="M103.5 185.5 L103.2 185.7 L102.9 186 L102.6 186.2 L102.3 186.5 L102 186.8 L101.7 187 L101.4 187.2 L101.1 187.4 L100.8 187.5 L100.5 187.6 L100.2 187.6 L99.8 187.6 L99.5 187.5 L99.1 187.4 L98.7 187.3 L98.4 187.1 L98 186.9 L97.6 186.7 L97.3 186.5 L97 186.2 L96.7 185.9 L96.4 185.5 L96.2 185.1 L95.9 184.7 L95.7 184.3 L95.5 183.8 L95.2 183.3 L95 182.9 L94.7 182.4 L94.5 182" fill="none" stroke="#fff" stroke-width="2.9" stroke-linecap="butt"/>
<ellipse cx="86.6" cy="166.6" rx="6.6" ry="15.6" fill="none" stroke="#0d0d0d" stroke-width="5.6" transform="rotate(-9 86.6 166.6)"/>
<ellipse cx="86.6" cy="166.6" rx="6.6" ry="15.6" fill="none" stroke="#fff" stroke-width="3" transform="rotate(-9 86.6 166.6)"/>
<path d="M90.6 180 L90.7 180.6 L90.8 181.2 L91 181.8 L91.1 182.4 L91.2 183 L91.3 183.6 L91.5 184.2 L91.6 184.8 L91.7 185.4 L91.8 186 L91.9 186.6 L92 187.2 L92.1 187.8 L92.2 188.4 L92.3 188.9 L92.4 189.5 L92.4 190.1 L92.5 190.7 L92.6 191.4 L92.6 192 L92.6 192.7 L92.7 193.3 L92.7 194 L92.7 194.7 L92.6 195.4 L92.6 196.2 L92.6 196.9 L92.6 197.6 L92.6 198.3 L92.6 199" fill="none" stroke="#0d0d0d" stroke-width="5.6" stroke-linecap="butt"/>
<path d="M90.6 180 L90.7 180.6 L90.8 181.2 L91 181.8 L91.1 182.4 L91.2 183 L91.3 183.6 L91.5 184.2 L91.6 184.8 L91.7 185.4 L91.8 186 L91.9 186.6 L92 187.2 L92.1 187.8 L92.2 188.4 L92.3 188.9 L92.4 189.5 L92.4 190.1 L92.5 190.7 L92.6 191.4 L92.6 192 L92.6 192.7 L92.7 193.3 L92.7 194 L92.7 194.7 L92.6 195.4 L92.6 196.2 L92.6 196.9 L92.6 197.6 L92.6 198.3 L92.6 199" fill="none" stroke="#fff" stroke-width="3" stroke-linecap="butt"/>
<line x1="90" y1="193" x2="95.4" y2="192.2" stroke="#0d0d0d" stroke-width="0.6" stroke-linecap="butt"/>
<line x1="90" y1="194.6" x2="95.4" y2="193.8" stroke="#0d0d0d" stroke-width="0.6" stroke-linecap="butt"/>
<line x1="90" y1="196.2" x2="95.4" y2="195.4" stroke="#0d0d0d" stroke-width="0.6" stroke-linecap="butt"/>
<line x1="90" y1="197.8" x2="95.4" y2="197" stroke="#0d0d0d" stroke-width="0.6" stroke-linecap="butt"/>
<line x1="90" y1="199.4" x2="95.4" y2="198.6" stroke="#0d0d0d" stroke-width="0.6" stroke-linecap="butt"/>
<ellipse cx="92.3" cy="201.7" rx="3.4" ry="1.5" fill="none" stroke="#0d0d0d" stroke-width="3.4" transform="rotate(-10 92.3 201.7)"/>
<ellipse cx="92.3" cy="201.7" rx="3.4" ry="1.5" fill="none" stroke="#fff" stroke-width="1.5" transform="rotate(-10 92.3 201.7)"/>
<ellipse cx="92.3" cy="205.2" rx="4" ry="1.8" fill="none" stroke="#0d0d0d" stroke-width="3.4" transform="rotate(-14 92.3 205.2)"/>
<ellipse cx="92.3" cy="205.2" rx="4" ry="1.8" fill="none" stroke="#fff" stroke-width="1.5" transform="rotate(-14 92.3 205.2)"/>
<ellipse cx="92.6" cy="208.8" rx="4.7" ry="2" fill="none" stroke="#0d0d0d" stroke-width="3.4" transform="rotate(-18 92.6 208.8)"/>
<ellipse cx="92.6" cy="208.8" rx="4.7" ry="2" fill="none" stroke="#fff" stroke-width="1.5" transform="rotate(-18 92.6 208.8)"/>
<ellipse cx="93.3" cy="212.4" rx="5.5" ry="2.2" fill="none" stroke="#0d0d0d" stroke-width="3.4" transform="rotate(-23 93.3 212.4)"/>
<ellipse cx="93.3" cy="212.4" rx="5.5" ry="2.2" fill="none" stroke="#fff" stroke-width="1.5" transform="rotate(-23 93.3 212.4)"/>
<ellipse cx="94.3" cy="216.2" rx="6.3" ry="2.4" fill="none" stroke="#0d0d0d" stroke-width="3.4" transform="rotate(-28 94.3 216.2)"/>
<ellipse cx="94.3" cy="216.2" rx="6.3" ry="2.4" fill="none" stroke="#fff" stroke-width="1.5" transform="rotate(-28 94.3 216.2)"/>
<ellipse cx="95.9" cy="220.6" rx="7.2" ry="2.6" fill="none" stroke="#0d0d0d" stroke-width="3.4" transform="rotate(-33 95.9 220.6)"/>
<ellipse cx="95.9" cy="220.6" rx="7.2" ry="2.6" fill="none" stroke="#fff" stroke-width="1.5" transform="rotate(-33 95.9 220.6)"/>
<ellipse cx="98.6" cy="225.8" rx="8.5" ry="2.8" fill="none" stroke="#0d0d0d" stroke-width="3.4" transform="rotate(-38 98.6 225.8)"/>
<ellipse cx="98.6" cy="225.8" rx="8.5" ry="2.8" fill="none" stroke="#fff" stroke-width="1.5" transform="rotate(-38 98.6 225.8)"/>
<ellipse cx="103.9" cy="230.5" rx="10.5" ry="3" fill="none" stroke="#0d0d0d" stroke-width="3.4" transform="rotate(-50 103.9 230.5)"/>
<ellipse cx="103.9" cy="230.5" rx="10.5" ry="3" fill="none" stroke="#fff" stroke-width="1.5" transform="rotate(-50 103.9 230.5)"/>
<ellipse cx="113.7" cy="236.9" rx="13" ry="3.2" fill="none" stroke="#0d0d0d" stroke-width="3.4" transform="rotate(-55 113.7 236.9)"/>
<ellipse cx="113.7" cy="236.9" rx="13" ry="3.2" fill="none" stroke="#fff" stroke-width="1.5" transform="rotate(-55 113.7 236.9)"/>
<path d="M106.3 247.3 L106.9 247.4 L107.4 247.5 L108 247.6 L108.5 247.8 L109.1 247.9 L109.6 248 L110.2 248.1 L110.8 248.2 L111.4 248.3 L112 248.4 L112.6 248.5 L113.3 248.5 L114 248.5 L114.7 248.5 L115.4 248.5 L116.1 248.5 L116.8 248.6 L117.5 248.7 L118.3 248.9 L119 249.2 L119.7 249.6 L120.5 250 L121.2 250.6 L122 251.2 L122.8 251.8 L123.5 252.5 L124.3 253.1 L125.1 253.9 L125.8 254.6 L126.5 255.3 L127.2 256 L127.9 256.8 L128.5 257.6 L129.2 258.4 L129.8 259.3 L130.4 260.1 L131.1 261 L131.7 261.8 L132.4 262.7 L133 263.5" fill="none" stroke="#0d0d0d" stroke-width="3.6" stroke-linecap="butt"/>
<path d="M106.3 247.3 L106.9 247.4 L107.4 247.5 L108 247.6 L108.5 247.8 L109.1 247.9 L109.6 248 L110.2 248.1 L110.8 248.2 L111.4 248.3 L112 248.4 L112.6 248.5 L113.3 248.5 L114 248.5 L114.7 248.5 L115.4 248.5 L116.1 248.5 L116.8 248.6 L117.5 248.7 L118.3 248.9 L119 249.2 L119.7 249.6 L120.5 250 L121.2 250.6 L122 251.2 L122.8 251.8 L123.5 252.5 L124.3 253.1 L125.1 253.9 L125.8 254.6 L126.5 255.3 L127.2 256 L127.9 256.8 L128.5 257.6 L129.2 258.4 L129.8 259.3 L130.4 260.1 L131.1 261 L131.7 261.8 L132.4 262.7 L133 263.5" fill="none" stroke="#fff" stroke-width="1.7" stroke-linecap="butt"/>
<path d="M133 262.6 Q141 264.6 149 269.5 M131.6 265 Q137 275.5 146.6 282.8" fill="none" stroke="#0d0d0d" stroke-width="0.9"/>
</g>
<path d="M173.2 289.8 L174.1 290.3 L175.1 290.8 L176.1 291.3 L177.4 291.9 L179.1 292.7 L181.1 293.7 L183.6 294.7 L186.5 295.9 L189.6 297.1 L192.8 298.4 L196.2 299.7 L199.6 301 L202.8 302.2 L206.1 303.4 L209.3 304.5 L212.7 305.6 L216.1 306.7 L219.5 307.8 L222.9 308.8 L226.3 309.7 L229.7 310.6 L233 311.4 L236.3 312.1 L239.5 312.8 L242.8 313.4 L246.1 314 L249.3 314.4 L252.6 314.8 L255.9 315.2 L259.2 315.5 L262.6 315.8 L265.8 316 L269.1 316.1 L272.1 316.2 L275 316.2 L274.3 302 L271.6 302.3 L268.7 302.5 L265.7 302.8 L262.7 303 L259.6 303.1 L256.5 303.2 L253.4 303.2 L250.4 303 L247.3 302.9 L244.2 302.6 L241.1 302.3 L238 302 L234.8 301.6 L231.6 301.1 L228.4 300.5 L225.1 299.9 L221.8 299.1 L218.5 298.3 L215.1 297.5 L211.8 296.6 L208.4 295.7 L205.2 294.8 L201.9 293.9 L198.5 292.9 L195.1 291.9 L191.8 290.9 L188.6 289.9 L185.7 289 L183.1 288.2 L180.9 287.5 L179.2 287.1 L177.8 286.8 L176.7 286.5 L175.7 286.2 L174.8 286Z" fill="#1c1c1c" />
<g id="fibre" fill="#b2b2b2" stroke="#0d0d0d">
<ellipse cx="139.7" cy="269.4" rx="4.8" ry="2.2" stroke-width="1.6" transform="rotate(40 139.7 269.4)"/>
<ellipse cx="147.8" cy="275.8" rx="7" ry="3.4" stroke-width="1.6" transform="rotate(35 147.8 275.8)"/>
<ellipse cx="154.5" cy="278.6" rx="4.6" ry="2.2" stroke-width="1.6" transform="rotate(42 154.5 278.6)"/>
<ellipse cx="158.6" cy="281.4" rx="5" ry="2.4" stroke-width="1.6" transform="rotate(40 158.6 281.4)"/>
<ellipse cx="162.6" cy="284" rx="5.4" ry="2.5" stroke-width="1.6" transform="rotate(36 162.6 284)"/>
<ellipse cx="166.4" cy="287" rx="5.2" ry="2.4" stroke-width="1.6" transform="rotate(32 166.4 287)"/>
<circle cx="415.4" cy="187.3" r="10.2" stroke-width="1.6"/>
<circle cx="417.3" cy="194.9" r="10.2" stroke-width="1.6"/>
<circle cx="423" cy="204.3" r="10.3" stroke-width="1.6"/>
<circle cx="444.6" cy="261.7" r="10.5" stroke-width="1.6"/>
<circle cx="449.3" cy="252.3" r="10.5" stroke-width="1.6"/>
<circle cx="447.5" cy="241" r="10.5" stroke-width="1.6"/>
<circle cx="441.8" cy="227.8" r="10.5" stroke-width="1.6"/>
<circle cx="431.4" cy="215.6" r="10.5" stroke-width="1.6"/>
<circle cx="430.5" cy="258.5" r="10.3" stroke-width="1.6"/>
<circle cx="385.7" cy="233.4" r="9.5" stroke-width="1.6"/>
<circle cx="391" cy="234.4" r="9.6" stroke-width="1.6"/>
<circle cx="397.5" cy="238.5" r="9.8" stroke-width="1.6"/>
<circle cx="407" cy="244.5" r="10" stroke-width="1.6"/>
<circle cx="419.2" cy="252" r="10.2" stroke-width="1.6"/>
<circle cx="407" cy="262" r="9" stroke-width="1.6"/>
<circle cx="412" cy="273" r="9" stroke-width="1.6"/>
<circle cx="412" cy="284" r="9" stroke-width="1.6"/>
<circle cx="407" cy="294" r="9" stroke-width="1.6"/>
<circle cx="378.5" cy="255.1" r="7.8" stroke-width="1.6"/>
<circle cx="379.4" cy="294.6" r="7.3" stroke-width="1.6"/>
<circle cx="362.7" cy="266.8" r="7.1" stroke-width="1.6"/>
<circle cx="356.9" cy="302.2" r="6.7" stroke-width="1.6"/>
<circle cx="338.2" cy="304" r="6.2" stroke-width="1.6"/>
<circle cx="348.7" cy="275.9" r="6.6" stroke-width="1.6"/>
<ellipse cx="285.2" cy="310.2" rx="5.7" ry="4.6" stroke-width="1.6" transform="rotate(-6.2 285.2 310.2)"/>
<ellipse cx="284.1" cy="305.8" rx="5.7" ry="4.5" stroke-width="1.6" transform="rotate(-5.8 284.1 305.8)"/>
<ellipse cx="320.6" cy="308.1" rx="5.8" ry="5.7" stroke-width="1.6" transform="rotate(-9.3 320.6 308.1)"/>
<ellipse cx="286.3" cy="314.3" rx="5.6" ry="4.6" stroke-width="1.6" transform="rotate(-6.5 286.3 314.3)"/>
<ellipse cx="283" cy="301.7" rx="5.7" ry="4.5" stroke-width="1.6" transform="rotate(-5.4 283 301.7)"/>
<ellipse cx="266.1" cy="311.9" rx="5.9" ry="4.1" stroke-width="1.6" transform="rotate(-0.5 266.1 311.9)"/>
<ellipse cx="303.1" cy="311.9" rx="5.6" ry="5.2" stroke-width="1.6" transform="rotate(-9.4 303.1 311.9)"/>
<ellipse cx="264.3" cy="306.9" rx="5.9" ry="4.1" stroke-width="1.6" transform="rotate(-0.2 264.3 306.9)"/>
<ellipse cx="268" cy="316.6" rx="5.9" ry="4.1" stroke-width="1.6" transform="rotate(-0.7 268 316.6)"/>
<ellipse cx="262.5" cy="302.4" rx="6" ry="4" stroke-width="1.6" transform="rotate(0.3 262.5 302.4)"/>
<ellipse cx="287.4" cy="317.8" rx="5.6" ry="4.6" stroke-width="1.6" transform="rotate(-6.8 287.4 317.8)"/>
<ellipse cx="242.7" cy="310" rx="6.2" ry="3.7" stroke-width="1.6" transform="rotate(4.7 242.7 310)"/>
<ellipse cx="240.8" cy="305.6" rx="6.2" ry="3.6" stroke-width="1.6" transform="rotate(5 240.8 305.6)"/>
<ellipse cx="282" cy="298.2" rx="5.7" ry="4.5" stroke-width="1.6" transform="rotate(-4.9 282 298.2)"/>
<ellipse cx="244.6" cy="314.1" rx="6.2" ry="3.7" stroke-width="1.6" transform="rotate(4.2 244.6 314.1)"/>
<ellipse cx="239" cy="301.7" rx="6.2" ry="3.6" stroke-width="1.6" transform="rotate(5.3 239 301.7)"/>
<ellipse cx="216" cy="302.2" rx="6.2" ry="3.3" stroke-width="1.6" transform="rotate(9.6 216 302.2)"/>
<ellipse cx="218.4" cy="306.6" rx="6.2" ry="3.3" stroke-width="1.6" transform="rotate(9.3 218.4 306.6)"/>
<ellipse cx="213.6" cy="297.8" rx="6.2" ry="3.2" stroke-width="1.6" transform="rotate(9.9 213.6 297.8)"/>
<ellipse cx="269.8" cy="320.4" rx="5.9" ry="4.2" stroke-width="1.6" transform="rotate(-1.1 269.8 320.4)"/>
<circle cx="373.8" cy="250.5" r="7.8" stroke-width="1.6"/>
<circle cx="384.2" cy="299.3" r="7.4" stroke-width="1.6"/>
<ellipse cx="260.7" cy="299.1" rx="6" ry="4" stroke-width="1.6" transform="rotate(0.6 260.7 299.1)"/>
<ellipse cx="288.5" cy="320.4" rx="5.6" ry="4.6" stroke-width="1.6" transform="rotate(-7 288.5 320.4)"/>
<circle cx="359.6" cy="262.4" r="7" stroke-width="1.6"/>
<ellipse cx="191.4" cy="294.2" rx="5.9" ry="2.9" stroke-width="1.6" transform="rotate(11.7 191.4 294.2)"/>
<ellipse cx="280.9" cy="295.8" rx="5.7" ry="4.5" stroke-width="1.6" transform="rotate(-4.4 280.9 295.8)"/>
<circle cx="340.7" cy="309.9" r="6.3" stroke-width="1.6"/>
<circle cx="359.8" cy="307.1" r="6.8" stroke-width="1.6"/>
<ellipse cx="246.4" cy="317.4" rx="6.2" ry="3.7" stroke-width="1.6" transform="rotate(3.9 246.4 317.4)"/>
<ellipse cx="193.3" cy="297.9" rx="5.9" ry="2.9" stroke-width="1.6" transform="rotate(11.6 193.3 297.9)"/>
<circle cx="330.5" cy="279.6" r="6" stroke-width="1.6"/>
<ellipse cx="189.5" cy="290.8" rx="5.8" ry="2.8" stroke-width="1.6" transform="rotate(11.8 189.5 290.8)"/>
<ellipse cx="237.1" cy="298.7" rx="6.2" ry="3.6" stroke-width="1.6" transform="rotate(5.8 237.1 298.7)"/>
<circle cx="346.7" cy="271.8" r="6.5" stroke-width="1.6"/>
<ellipse cx="323.1" cy="313.4" rx="5.8" ry="5.7" stroke-width="1.6" transform="rotate(-9.5 323.1 313.4)"/>
<ellipse cx="220.9" cy="310.4" rx="6.2" ry="3.3" stroke-width="1.6" transform="rotate(8.9 220.9 310.4)"/>
<ellipse cx="313" cy="286.8" rx="5.7" ry="5.5" stroke-width="1.6" transform="rotate(-9.1 313 286.8)"/>
<ellipse cx="211.2" cy="294.3" rx="6.2" ry="3.2" stroke-width="1.6" transform="rotate(10.1 211.2 294.3)"/>
<ellipse cx="305.4" cy="316.4" rx="5.6" ry="5.2" stroke-width="1.6" transform="rotate(-9.4 305.4 316.4)"/>
<ellipse cx="296.3" cy="292.5" rx="5.7" ry="5" stroke-width="1.6" transform="rotate(-8.7 296.3 292.5)"/>
<ellipse cx="175.9" cy="288.6" rx="5.2" ry="2.4" stroke-width="1.6" transform="rotate(12.5 175.9 288.6)"/>
<ellipse cx="195.2" cy="301" rx="6" ry="2.9" stroke-width="1.6" transform="rotate(11.4 195.2 301)"/>
<ellipse cx="176.7" cy="291" rx="5.3" ry="2.5" stroke-width="1.6" transform="rotate(12.2 176.7 291)"/>
<ellipse cx="175.1" cy="286.5" rx="5.1" ry="2.4" stroke-width="1.6" transform="rotate(13 175.1 286.5)"/>
<ellipse cx="187.6" cy="288" rx="5.8" ry="2.8" stroke-width="1.6" transform="rotate(11.9 187.6 288)"/>
<ellipse cx="177.4" cy="293" rx="5.4" ry="2.5" stroke-width="1.6" transform="rotate(12.1 177.4 293)"/>
<ellipse cx="271.7" cy="322.5" rx="5.8" ry="4.2" stroke-width="1.6" transform="rotate(-1.4 271.7 322.5)"/>
<ellipse cx="174.4" cy="284.8" rx="5.1" ry="2.4" stroke-width="1.6" transform="rotate(13.6 174.4 284.8)"/>
<ellipse cx="258.8" cy="297.5" rx="6" ry="3.9" stroke-width="1.6" transform="rotate(0.9 258.8 297.5)"/>
<ellipse cx="289.5" cy="321.6" rx="5.6" ry="4.7" stroke-width="1.6" transform="rotate(-7.1 289.5 321.6)"/>
<ellipse cx="279.9" cy="294.6" rx="5.7" ry="4.4" stroke-width="1.6" transform="rotate(-3.9 279.9 294.6)"/>
<ellipse cx="248.4" cy="319.4" rx="6.2" ry="3.7" stroke-width="1.6" transform="rotate(3.4 248.4 319.4)"/>
<ellipse cx="223.3" cy="312.9" rx="6.3" ry="3.4" stroke-width="1.6" transform="rotate(8.4 223.3 312.9)"/>
<ellipse cx="235.2" cy="297" rx="6.3" ry="3.6" stroke-width="1.6" transform="rotate(6.1 235.2 297)"/>
<ellipse cx="208.7" cy="292.2" rx="6.2" ry="3.1" stroke-width="1.6" transform="rotate(10.3 208.7 292.2)"/>
<ellipse cx="197.2" cy="303.2" rx="6" ry="3" stroke-width="1.6" transform="rotate(11.2 197.2 303.2)"/>
<ellipse cx="185.6" cy="286.3" rx="5.8" ry="2.8" stroke-width="1.6" transform="rotate(11.9 185.6 286.3)"/>
<ellipse cx="178.2" cy="294.5" rx="5.4" ry="2.6" stroke-width="1.6" transform="rotate(11.9 178.2 294.5)"/>
<ellipse cx="173.6" cy="283.8" rx="5" ry="2.3" stroke-width="1.6" transform="rotate(14 173.6 283.8)"/>
<ellipse cx="170.1" cy="289" rx="5.2" ry="2.4" stroke-width="1.6" transform="rotate(14.9 170.1 289)"/>
<ellipse cx="172.7" cy="284.2" rx="5.5" ry="2.5" stroke-width="1.6" transform="rotate(14.2 172.7 284.2)"/>
<ellipse cx="177.4" cy="293.2" rx="6" ry="2.8" stroke-width="1.6" transform="rotate(12.1 177.4 293.2)"/>
<ellipse cx="183.6" cy="286.6" rx="6.4" ry="3.1" stroke-width="1.6" transform="rotate(12 183.6 286.6)"/>
<ellipse cx="198.5" cy="302.7" rx="6.7" ry="3.3" stroke-width="1.6" transform="rotate(11.1 198.5 302.7)"/>
<ellipse cx="226.2" cy="312.7" rx="7" ry="3.8" stroke-width="1.6" transform="rotate(7.9 226.2 312.7)"/>
<ellipse cx="206.2" cy="292.7" rx="6.8" ry="3.4" stroke-width="1.6" transform="rotate(10.4 206.2 292.7)"/>
<ellipse cx="233.4" cy="298.1" rx="7" ry="3.9" stroke-width="1.6" transform="rotate(6.4 233.4 298.1)"/>
<ellipse cx="171" cy="287.7" rx="5.3" ry="2.4" stroke-width="1.6" transform="rotate(14.6 171 287.7)"/>
<ellipse cx="171.9" cy="285.7" rx="5.4" ry="2.5" stroke-width="1.6" transform="rotate(14.4 171.9 285.7)"/>
<ellipse cx="250.4" cy="318.3" rx="6.8" ry="4.2" stroke-width="1.6" transform="rotate(3.1 250.4 318.3)"/>
<ellipse cx="274.3" cy="321" rx="6.4" ry="4.8" stroke-width="1.6" transform="rotate(-1.9 274.3 321)"/>
<ellipse cx="278.9" cy="296.5" rx="6.4" ry="4.9" stroke-width="1.6" transform="rotate(-3.4 278.9 296.5)"/>
<ellipse cx="257.1" cy="299.1" rx="6.7" ry="4.3" stroke-width="1.6" transform="rotate(1.3 257.1 299.1)"/>
<ellipse cx="290.4" cy="319.5" rx="6.2" ry="5.2" stroke-width="1.6" transform="rotate(-7.2 290.4 319.5)"/>
<ellipse cx="294.6" cy="293" rx="6.2" ry="5.4" stroke-width="1.6" transform="rotate(-8.3 294.6 293)"/>
<ellipse cx="179.4" cy="291.8" rx="6.2" ry="2.9" stroke-width="1.6" transform="rotate(11.9 179.4 291.8)"/>
<ellipse cx="306.8" cy="316.1" rx="6.1" ry="5.7" stroke-width="1.6" transform="rotate(-9.3 306.8 316.1)"/>
<ellipse cx="311.2" cy="287.5" rx="6.1" ry="5.9" stroke-width="1.6" transform="rotate(-9.1 311.2 287.5)"/>
<ellipse cx="181.5" cy="288.7" rx="6.3" ry="3" stroke-width="1.6" transform="rotate(11.9 181.5 288.7)"/>
<circle cx="342.3" cy="309.8" r="6.9" stroke-width="1.6"/>
<circle cx="345.5" cy="272.5" r="7.1" stroke-width="1.6"/>
<circle cx="325.1" cy="313.1" r="6.4" stroke-width="1.6"/>
<circle cx="328.8" cy="280.3" r="6.5" stroke-width="1.6"/>
<circle cx="360.9" cy="306.9" r="7.4" stroke-width="1.6"/>
<circle cx="358.6" cy="263.3" r="7.6" stroke-width="1.6"/>
<ellipse cx="201.1" cy="300.1" rx="6.7" ry="3.4" stroke-width="1.6" transform="rotate(10.8 201.1 300.1)"/>
<ellipse cx="203.7" cy="295.8" rx="6.8" ry="3.4" stroke-width="1.6" transform="rotate(10.4 203.7 295.8)"/>
<circle cx="386.1" cy="298.5" r="8.1" stroke-width="1.6"/>
<circle cx="372.5" cy="251.5" r="8.4" stroke-width="1.6"/>
<ellipse cx="228" cy="310.2" rx="7" ry="3.8" stroke-width="1.6" transform="rotate(7.5 228 310.2)"/>
<ellipse cx="231.6" cy="301" rx="7" ry="3.9" stroke-width="1.6" transform="rotate(6.7 231.6 301)"/>
<ellipse cx="252.1" cy="314.9" rx="6.8" ry="4.2" stroke-width="1.6" transform="rotate(2.7 252.1 314.9)"/>
<ellipse cx="229.8" cy="305.7" rx="7" ry="3.9" stroke-width="1.6" transform="rotate(7.1 229.8 305.7)"/>
<ellipse cx="255.5" cy="303" rx="6.8" ry="4.3" stroke-width="1.6" transform="rotate(1.7 255.5 303)"/>
<ellipse cx="275.2" cy="317.8" rx="6.4" ry="4.8" stroke-width="1.6" transform="rotate(-2.1 275.2 317.8)"/>
<ellipse cx="278" cy="299.9" rx="6.4" ry="4.9" stroke-width="1.6" transform="rotate(-3.2 278 299.9)"/>
<ellipse cx="253.8" cy="309.1" rx="6.8" ry="4.2" stroke-width="1.6" transform="rotate(2.3 253.8 309.1)"/>
<ellipse cx="291.5" cy="314.4" rx="6.2" ry="5.3" stroke-width="1.6" transform="rotate(-7.2 291.5 314.4)"/>
<ellipse cx="293.6" cy="298.2" rx="6.2" ry="5.3" stroke-width="1.6" transform="rotate(-8 293.6 298.2)"/>
<ellipse cx="307.9" cy="310.7" rx="6.1" ry="5.8" stroke-width="1.6" transform="rotate(-9.2 307.9 310.7)"/>
<ellipse cx="310.1" cy="293.2" rx="6.1" ry="5.8" stroke-width="1.6" transform="rotate(-9.1 310.1 293.2)"/>
<ellipse cx="276.2" cy="312.2" rx="6.4" ry="4.8" stroke-width="1.6" transform="rotate(-2.4 276.2 312.2)"/>
<ellipse cx="277.1" cy="305.7" rx="6.4" ry="4.8" stroke-width="1.6" transform="rotate(-2.7 277.1 305.7)"/>
<circle cx="343.1" cy="304.8" r="6.9" stroke-width="1.6"/>
<circle cx="344.8" cy="277.8" r="7" stroke-width="1.6"/>
<circle cx="326.1" cy="307" r="6.4" stroke-width="1.6"/>
<ellipse cx="292.6" cy="306.4" rx="6.2" ry="5.3" stroke-width="1.6" transform="rotate(-7.4 292.6 306.4)"/>
<circle cx="327.9" cy="286.9" r="6.4" stroke-width="1.6"/>
<ellipse cx="309" cy="302" rx="6.1" ry="5.8" stroke-width="1.6" transform="rotate(-9.1 309 302)"/>
<circle cx="361.6" cy="301.2" r="7.4" stroke-width="1.6"/>
<circle cx="359.1" cy="269.5" r="7.5" stroke-width="1.6"/>
<circle cx="327" cy="297" r="6.4" stroke-width="1.6"/>
<circle cx="385" cy="292.1" r="8.2" stroke-width="1.6"/>
<circle cx="343.7" cy="296.4" r="7" stroke-width="1.6"/>
<circle cx="374.2" cy="258.1" r="8.3" stroke-width="1.6"/>
<circle cx="344.3" cy="286.6" r="7" stroke-width="1.6"/>
<circle cx="361.2" cy="291.3" r="7.4" stroke-width="1.6"/>
<circle cx="360.2" cy="279.7" r="7.5" stroke-width="1.6"/>
<circle cx="381.8" cy="281.4" r="8.2" stroke-width="1.6"/>
<circle cx="377.7" cy="269" r="8.3" stroke-width="1.6"/>
<circle cx="399" cy="292.3" r="8.8" stroke-width="1.6"/>
<circle cx="404.1" cy="285.7" r="8.9" stroke-width="1.6"/>
<circle cx="386.3" cy="238.9" r="9" stroke-width="1.6"/>
<circle cx="390.1" cy="250.1" r="9" stroke-width="1.6"/>
<circle cx="405.7" cy="276.8" r="9" stroke-width="1.6"/>
<circle cx="400.1" cy="264.5" r="9.2" stroke-width="1.6"/>
</g>
<g id="chromosome">
<path d="M121.2 44.9 L121.3 45.5 L121.4 46 L121.5 46.5 L121.6 47 L121.7 47.5 L121.8 48.1 L121.9 48.7 L122 49.3 L122.1 50 L122.1 50.7 L122.2 51.5 L122.3 52.3 L122.3 53.1 L122.4 53.9 L122.4 54.7 L122.5 55.5 L122.6 56.1 L122.6 56.8 L122.7 57.4 L122.8 58 L122.8 58.7 L122.9 59.3 L123 59.9 L123.2 60.6 L123.3 61.3 L123.4 61.9 L123.6 62.5 L123.8 63.1 L124 63.8 L124.2 64.6 L124.5 65.5 L124.8 66.5 L125.2 67.7 L125.6 69.1 L126.1 70.6 L126.6 72.1 L127.1 73.7 L127.6 75.3 L128.2 76.9 L128.8 78.3 L129.4 79.7 L130.1 81 L130.8 82.3 L131.5 83.6 L132.3 84.8 L133 86.1 L133.7 87.3 L134.5 88.6 L135.2 89.8 L135.9 91 L136.6 92.2 L137.3 93.4 L138.1 94.5 L138.8 95.7 L139.4 96.9 L140.1 98.1 L140.7 99.3 L141.4 100.6 L142 101.8 L142.6 103.1 L143.2 104.4 L143.8 105.6 L144.3 106.8 L144.7 107.8 L145.2 108.8 L145.6 109.8 L146 110.7 L146.3 111.5 L146.6 112.3 L146.8 113.1 L147 113.8 L147 114.5 L147 115.1 L146.9 115.7 L146.7 116.3 L146.4 116.8 L146 117.3 L145.6 117.7 L145.2 118.1 L144.7 118.4 L144.2 118.6 L143.6 118.8 L142.9 119 L142.2 119.1 L141.4 119.2 L140.6 119.2 L139.9 119.1 L139.1 118.9 L138.3 118.6 L137.5 118.3 L136.6 117.9 L135.8 117.4 L134.9 116.8 L134.1 116.1 L133.2 115.4 L132.4 114.5 L131.6 113.5 L130.7 112.4 L129.8 111.1 L129 109.8 L128.1 108.4 L127.3 107 L126.5 105.6 L125.7 104.2 L125 102.9 L124.3 101.5 L123.7 100.1 L123 98.6 L122.4 97.2 L121.8 95.7 L121.2 94.2 L120.6 92.7 L120 91.1 L119.4 89.5 L118.8 87.9 L118.2 86.2 L117.7 84.6 L117.2 83 L116.7 81.4 L116.2 79.8 L115.8 78.4 L115.4 76.9 L115 75.5 L114.6 74.1 L114.3 72.7 L114.1 71.4 L113.8 70.1 L113.7 68.8 L113.6 67.6 L113.5 66.4 L113.5 65.2 L113.6 64.1 L113.7 63 L113.8 62 L113.9 61 L114 60.1 L114.2 59.2 L114.3 58.5 L114.5 57.8 L114.6 57.1 L114.8 56.4 L115 55.8 L115.2 55.1 L115.3 54.4 L115.5 53.7 L115.6 52.9 L115.7 52.1 L115.9 51.3 L116 50.4 L116.1 49.7 L116.2 48.9 L116.4 48.3 L116.5 47.6 L116.7 47 L116.8 46.5 L117 46 L117.2 45.5 L117.3 45 L117.3 44.6 L117.3 44.2 L117.1 43.8 L116.9 43.5 L116.7 43.3 L116.4 43.1 L116.1 42.9 L115.7 42.7 L115.3 42.4 L114.8 42.1 L114.3 41.7 L113.7 41.3 L113.1 40.9 L112.5 40.5 L111.8 40 L111.1 39.5 L110.4 39 L109.7 38.5 L108.9 38 L108.2 37.4 L107.4 36.9 L106.6 36.3 L105.8 35.7 L105.1 35.1 L104.3 34.5 L103.5 33.9 L102.7 33.3 L101.9 32.6 L101.1 32 L100.3 31.4 L99.5 30.7 L98.7 30.1 L98 29.4 L97.3 28.8 L96.7 28.1 L96.1 27.4 L95.6 26.8 L95 26.1 L94.5 25.5 L94.1 24.8 L93.6 24.2 L93.2 23.6 L92.8 23 L92.5 22.5 L92.1 21.9 L91.8 21.4 L91.5 20.9 L91.3 20.4 L91.1 19.9 L90.9 19.5 L90.8 19.1 L90.8 18.7 L90.8 18.4 L90.8 18.1 L90.9 17.8 L91 17.5 L91.1 17.2 L91.2 16.9 L91.3 16.7 L91.5 16.4 L91.7 16.2 L91.9 15.9 L92.1 15.7 L92.4 15.5 L92.6 15.4 L92.9 15.3 L93.1 15.2 L93.4 15.1 L93.7 15.1 L94 15.1 L94.3 15.2 L94.6 15.2 L95 15.3 L95.3 15.4 L95.6 15.5 L96 15.7 L96.3 15.9 L96.7 16.1 L97.1 16.3 L97.4 16.6 L97.8 16.9 L98.1 17.2 L98.4 17.5 L98.8 17.9 L99.1 18.3 L99.3 18.8 L99.6 19.2 L100 19.7 L100.3 20.1 L100.7 20.5 L101.1 21 L101.4 21.4 L101.9 21.9 L102.3 22.3 L102.7 22.8 L103.2 23.2 L103.7 23.7 L104.3 24.1 L104.8 24.6 L105.5 25 L106.1 25.4 L106.8 25.9 L107.5 26.3 L108.2 26.8 L109 27.2 L109.7 27.7 L110.4 28.2 L111.1 28.8 L111.9 29.4 L112.7 30 L113.4 30.6 L114.1 31.1 L114.8 31.6 L115.3 32.1 L115.8 32.5 L116.2 32.9 L116.5 33.2 L116.8 33.5 L117.1 33.8 L117.3 34.1 L117.6 34.4 L117.9 34.7 L117.9 34.2 L117.8 33.8 L117.8 33.3 L117.8 32.9 L117.7 32.4 L117.7 31.9 L117.6 31.4 L117.6 30.8 L117.5 30.1 L117.4 29.4 L117.4 28.7 L117.3 27.9 L117.2 27.1 L117.1 26.2 L117 25.4 L116.9 24.6 L116.7 23.9 L116.5 23.1 L116.3 22.3 L116.1 21.6 L115.9 20.8 L115.7 20 L115.5 19.3 L115.3 18.5 L115.1 17.7 L115 16.9 L114.8 16.1 L114.6 15.3 L114.4 14.5 L114.3 13.7 L114.2 13 L114.1 12.3 L114.1 11.7 L114.1 11.2 L114.1 10.6 L114.1 10.2 L114.2 9.7 L114.3 9.3 L114.4 8.9 L114.6 8.5 L114.7 8.1 L114.9 7.7 L115.2 7.4 L115.5 7.1 L115.7 6.8 L116 6.6 L116.3 6.3 L116.6 6.2 L116.9 6 L117.2 5.9 L117.5 5.8 L117.8 5.7 L118.1 5.7 L118.5 5.7 L118.8 5.7 L119.2 5.8 L119.6 5.9 L120 6.1 L120.4 6.3 L120.8 6.5 L121.3 6.8 L121.7 7 L122.1 7.4 L122.5 7.7 L122.9 8.1 L123.2 8.4 L123.6 8.9 L123.9 9.3 L124.2 9.8 L124.5 10.3 L124.8 10.8 L125.1 11.3 L125.3 11.9 L125.6 12.4 L125.8 13 L126 13.6 L126.2 14.3 L126.3 15 L126.5 15.7 L126.6 16.4 L126.7 17.2 L126.8 18.1 L126.9 19 L127 19.9 L127 20.8 L127.1 21.8 L127.1 22.7 L127.1 23.6 L127.2 24.5 L127.2 25.4 L127.3 26.4 L127.3 27.3 L127.3 28.2 L127.3 29.1 L127.3 30 L127.3 30.8 L127.3 31.6 L127.3 32.4 L127.3 33.2 L127.2 34 L127.2 34.8 L127.1 35.5 L127 36.3 L126.9 37 L126.8 37.7 L126.7 38.4 L126.5 39.1 L126.3 39.8 L126.1 40.4 L125.9 41 L125.8 41.6 L125.6 42.1 L125.4 42.5 L125.2 42.9 L124.9 43.2 L124.7 43.4 L124.5 43.7 L124.4 43.9 L124.3 44.1 L124.4 44.4 L124.7 44.7 L125 45 L125.5 45.3 L126 45.6 L126.6 45.9 L127.2 46.2 L127.8 46.5 L128.4 46.7 L129.1 47 L129.8 47.2 L130.5 47.3 L131.2 47.5 L132 47.7 L132.8 47.9 L133.6 48.1 L134.3 48.3 L135.1 48.5 L135.9 48.7 L136.7 48.9 L137.4 49.2 L138.2 49.4 L139 49.7 L139.8 50 L140.5 50.3 L141.2 50.7 L141.8 51 L142.4 51.3 L143 51.7 L143.6 52.1 L144.3 52.6 L145 53.2 L145.8 53.9 L146.6 54.8 L147.5 55.7 L148.5 56.8 L149.4 57.9 L150.5 59.1 L151.5 60.3 L152.5 61.5 L153.5 62.6 L154.4 63.8 L155.4 64.9 L156.3 66.1 L157.3 67.2 L158.3 68.4 L159.2 69.5 L160.2 70.6 L161.2 71.6 L162.1 72.6 L163.2 73.6 L164.2 74.5 L165.2 75.4 L166.2 76.3 L167.1 77.2 L168 78 L168.9 78.8 L169.6 79.6 L170.3 80.3 L171 81.1 L171.6 81.8 L172.1 82.4 L172.6 83.1 L173.1 83.8 L173.5 84.5 L173.8 85.2 L174.1 85.8 L174.3 86.5 L174.5 87.2 L174.7 87.9 L174.7 88.5 L174.8 89.2 L174.8 89.9 L174.7 90.5 L174.6 91.2 L174.5 91.9 L174.3 92.6 L174 93.3 L173.7 93.9 L173.4 94.5 L173 95 L172.5 95.5 L171.9 95.9 L171.3 96.3 L170.6 96.7 L169.9 97 L169.2 97.3 L168.5 97.5 L167.8 97.6 L167.2 97.5 L166.5 97.5 L165.8 97.3 L165.1 97 L164.3 96.7 L163.6 96.4 L162.9 96 L162.2 95.5 L161.5 95 L160.7 94.4 L160 93.8 L159.2 93.1 L158.4 92.4 L157.7 91.6 L157 90.7 L156.3 89.9 L155.6 88.9 L154.9 87.9 L154.3 86.8 L153.6 85.6 L153 84.5 L152.4 83.3 L151.8 82.1 L151.1 80.9 L150.5 79.7 L150 78.4 L149.4 77.1 L148.9 75.8 L148.3 74.5 L147.7 73.2 L147.1 72 L146.5 70.9 L145.9 69.8 L145.2 68.7 L144.4 67.7 L143.7 66.7 L143 65.8 L142.2 64.9 L141.5 64 L140.9 63.2 L140.3 62.4 L139.7 61.6 L139.2 60.9 L138.7 60.3 L138.2 59.6 L137.7 59 L137.1 58.4 L136.4 57.8 L135.6 57.1 L134.7 56.5 L133.8 56 L132.8 55.4 L131.9 54.8 L130.9 54.2 L130 53.7 L129.2 53.1 L128.4 52.6 L127.7 52.1 L127 51.6 L126.4 51.1 L125.7 50.6 L125.1 50.1 L124.6 49.5 L124.1 49 L123.6 48.5 L123.2 48 L122.8 47.5 L122.5 47 L122.2 46.5 L121.9 46 L121.6 45.4Z" fill="#4c6fb9" stroke="#0d0d0d" stroke-width="1.8" stroke-linejoin="round"/>
<path d="M120.9 44.2 Q121.3 47.5 122.4 50.5" fill="none" stroke="#0d0d0d" stroke-width="1.1"/>
</g>
<g id="labels">
<line x1="144.9" y1="53.5" x2="172.8" y2="34" stroke="#111" stroke-width="2" stroke-linecap="butt"/>
<line x1="149.5" y1="155.6" x2="184.9" y2="176.6" stroke="#111" stroke-width="2" stroke-linecap="butt"/>
<line x1="463.2" y1="94.3" x2="475.6" y2="131.3" stroke="#111" stroke-width="2" stroke-linecap="butt"/>
<line x1="464.6" y1="94.3" x2="485.4" y2="129.2" stroke="#111" stroke-width="2" stroke-linecap="butt"/>
<line x1="502.9" y1="190.1" x2="521.2" y2="206.2" stroke="#111" stroke-width="2" stroke-linecap="butt"/>
<line x1="558.1" y1="354.5" x2="583.3" y2="372.3" stroke="#111" stroke-width="2" stroke-linecap="butt"/>
<text x="177" y="38.6" font-size="19" fill="#111" text-anchor="start">Chromosome</text>
<text x="189" y="185.3" font-size="19" fill="#111" text-anchor="start">Chromatin</text>
<text x="422.2" y="89.9" font-size="19" fill="#111" text-anchor="start">Histones</text>
<text x="524.3" y="223.1" font-size="19" fill="#111" text-anchor="start">Nucleosome</text>
<text x="589.5" y="381.8" font-size="19" fill="#111" text-anchor="start">DNA helix</text>
</g>
</svg>
</body>
</html>
